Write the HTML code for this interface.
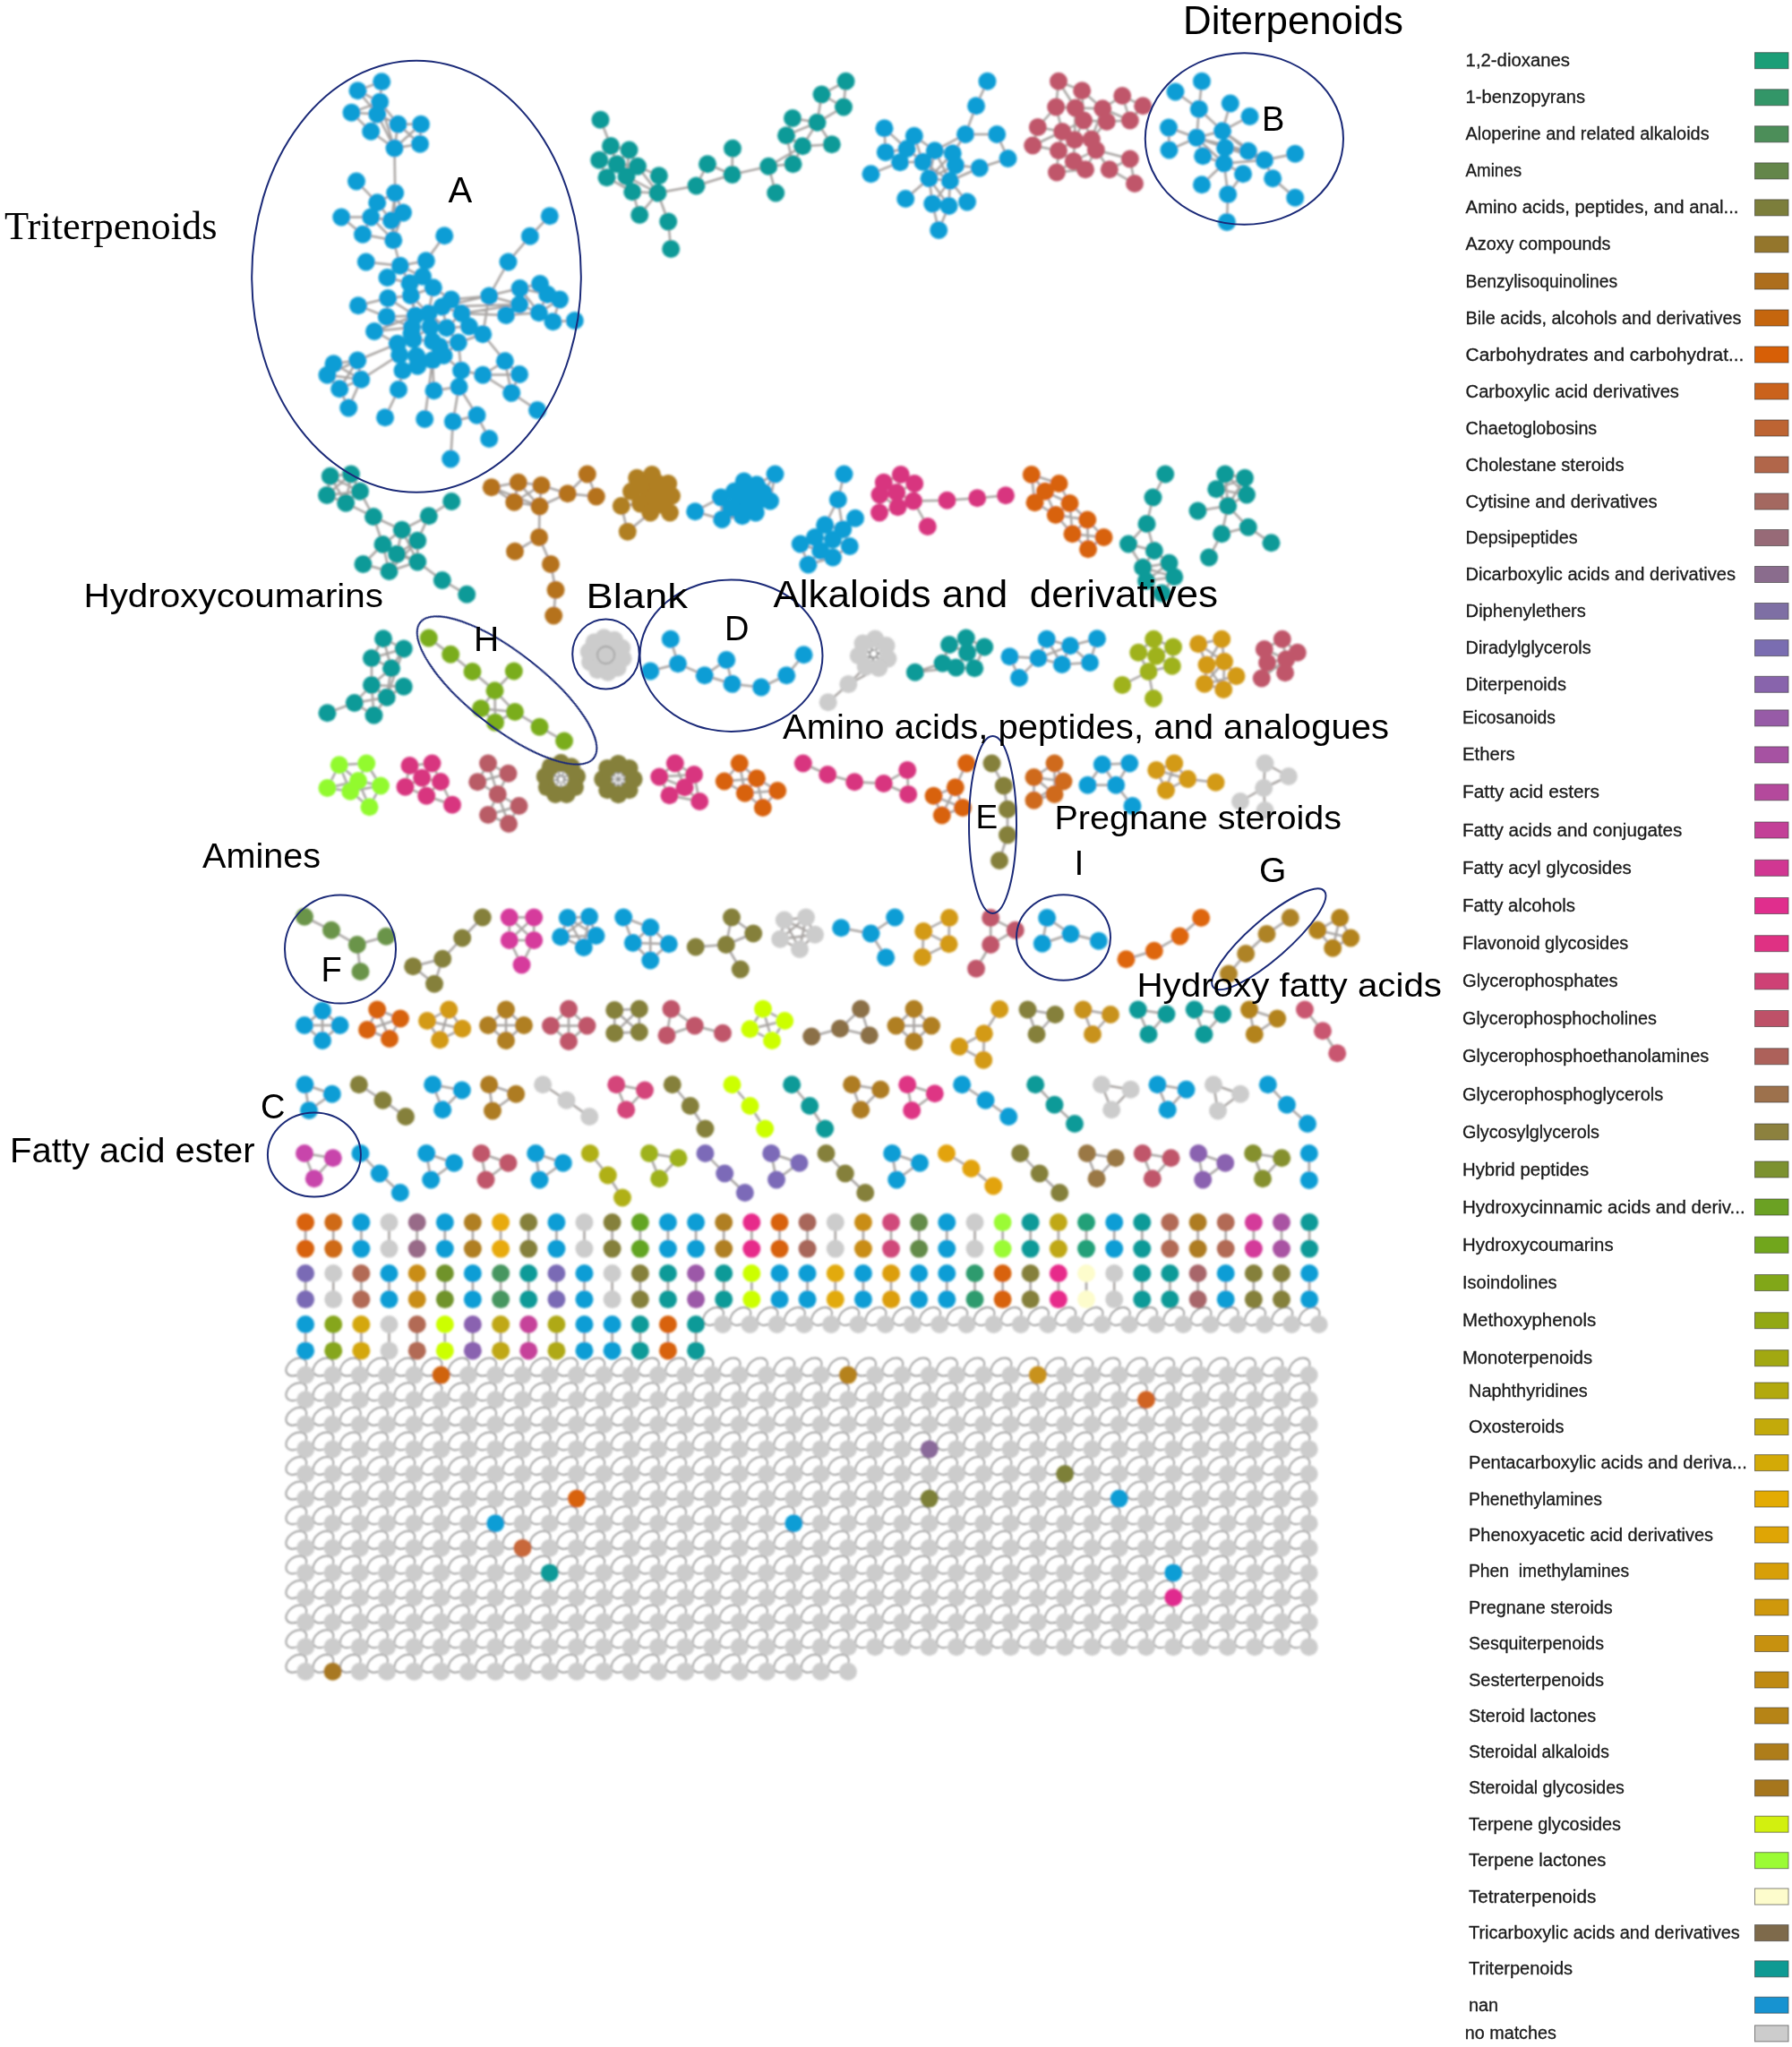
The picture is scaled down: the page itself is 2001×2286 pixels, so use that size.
<!DOCTYPE html>
<html lang="en"><head><meta charset="utf-8"><title>Molecular network</title>
<style>html,body{margin:0;padding:0;background:#fff}body{width:2001px;height:2286px;overflow:hidden}svg{display:block}.e{stroke:#a8a4a2;stroke-width:2.5;fill:none;stroke-linecap:round}.lp{stroke:#868686;stroke-width:1.5;fill:none}.el{stroke:#1b2a78;stroke-width:2;fill:none}.lg{font-family:"Liberation Sans",sans-serif;font-size:19.5px;fill:#1a1a1a;stroke:#1a1a1a;stroke-width:.3}.sw{stroke:#333;stroke-opacity:.6;stroke-width:1}.sa{font-family:"Liberation Sans",sans-serif;fill:#000}.se{font-family:"Liberation Serif",serif;fill:#000}</style></head><body>
<svg width="2001" height="2286" viewBox="0 0 2001 2286">
<rect width="2001" height="2286" fill="#fff"/>
<defs><filter id="bl" x="0" y="0" width="100%" height="100%" filterUnits="userSpaceOnUse"><feGaussianBlur stdDeviation="1"/></filter></defs><g filter="url(#bl)">
<g id="edges">
<path class="e" d="M399.5 101.2L426.2 91.2M399.5 101.2L424.2 113.8M399.5 101.2L421.2 127.5M392.5 125.8L424.2 113.8M392.5 125.8L421.2 127.5M392.5 125.8L414.2 146.8M424.2 113.8L421.2 127.5M421.2 127.5L414.2 146.8M424.2 113.8L444.5 138.8M421.2 127.5L444.5 138.8M421.2 127.5L440.5 165.5M414.2 146.8L440.5 165.5M444.5 138.8L470 138.8M444.5 138.8L469 160.8M444.5 138.8L440.5 165.5M470 138.8L440.5 165.5M470 138.8L469 160.8M469 160.8L440.5 165.5M424.2 113.8L440.5 165.5M426.2 91.2L424.2 113.8M440.5 165.5L441.2 215.5M398 202.5L421.2 226.2M441.2 215.5L421.2 226.2M441.2 215.5L450 237.5M441.2 215.5L437 246.2M421.2 226.2L414.2 242.5M421.2 226.2L437 246.2M381.2 242.5L414.2 242.5M381.2 242.5L405 261.8M414.2 242.5L437 246.2M414.2 242.5L405 261.8M414.2 242.5L439.2 268.2M437 246.2L439.2 268.2M405 261.8L439.2 268.2M450 237.5L437 246.2M450 237.5L439.2 268.2M441.2 215.5L439.2 268.2M439.2 268.2L446.8 296.8M408.8 292.5L446.8 296.8M446.8 296.8L475.8 291.2M475.8 291.2L496.2 263.2M446.8 296.8L432.5 310M446.8 296.8L472 308.8M446.8 296.8L457.5 316.2M475.8 291.2L472 308.8M432.5 310L457.5 316.2M472 308.8L457.5 316.2M472 308.8L483.8 321.2M457.5 316.2L458.8 330M483.8 321.2L458.8 330M433.2 333L458.8 330M433.2 333L463.8 352.5M400 341.2L433.2 333M400 341.2L431.8 353.8M431.8 353.8L463.8 352.5M433.2 333L431.8 353.8M418 370L460 365.5M418 370L463.8 352.5M483.8 321.2L503.8 334.5M503.8 334.5L493.8 342.5M503.8 334.5L546.2 330.5M493.8 342.5L478.5 350M546.2 330.5L567.5 292.5M567.5 292.5L591.8 263.8M591.8 263.8L613.8 241.2M546.2 330.5L580 340M546.2 330.5L539.2 373.2M493.8 342.5L580 340M515.5 350L565 352M515.5 350L580 340M493.8 342.5L580.5 322M580.5 322L603 317M580.5 322L611.2 328.8M580.5 322L580 340M603 317L611.2 328.8M611.2 328.8L625 334.5M611.2 328.8L601.8 349.2M625 334.5L601.8 349.2M625 334.5L617.5 359.2M580 340L565 352M580 340L601.8 349.2M565 352L601.8 349.2M601.8 349.2L617.5 359.2M617.5 359.2L641.8 358M603 317L625 334.5M580.5 322L601.8 349.2M523.8 364.5L539.2 373.2M498.8 366.2L523.8 364.5M515.5 350L523.8 364.5M515.5 350L498.8 366.2M539.2 373.2L511.8 382.5M511.8 382.5L515 413.8M539.2 373.2L563.8 403.2M563.8 403.2L580 418M563.8 403.2L539.2 418.8M539.2 418.8L580 418M539.2 418.8L571.2 438.8M580 418L571.2 438.8M571.2 438.8L600 458M563.8 403.2L571.2 438.8M515 413.8L539.2 418.8M515 413.8L512.5 432M512.5 432L484.5 436.2M512.5 432L505.8 470.8M512.5 432L532.5 463.8M505.8 470.8L532.5 463.8M532.5 463.8L546.2 490M505.8 470.8L503.2 512.5M483 402.2L474.2 468M449.5 413.8L445 435M445 435L430 466.2M443.8 383.8L399.2 402.5M446.2 396.2L403.2 423.8M399.2 402.5L372.5 406.2M399.2 402.5L365.5 418.8M399.2 402.5L403.2 423.8M399.2 402.5L379.2 434.2M372.5 406.2L365.5 418.8M372.5 406.2L403.2 423.8M365.5 418.8L403.2 423.8M365.5 418.8L379.2 434.2M403.2 423.8L379.2 434.2M379.2 434.2L389.2 455.5M403.2 423.8L389.2 455.5M463.8 352.5L460 365.5M463.8 352.5L478.5 350M478.5 350L460 365.5M478.5 350L480.5 365M460 365.5L480.5 365M460 365.5L461.5 379M480.5 365L461.5 379M480.5 365L483 381M461.5 379L483 381M461.5 379L465 397.5M443.8 383.8L461.5 379M443.8 383.8L446.2 396.2M446.2 396.2L465 397.5M483 381L495.5 397M483 381L483 402.2M465 397.5L483 402.2M465 397.5L466.2 408.8M495.5 397L483 402.2M466.2 408.8L449.5 413.8M483 402.2L466.2 408.8M493.8 342.5L515.5 350M478.5 350L498.8 366.2M498.8 366.2L480.5 365M498.8 366.2L511.8 382.5M511.8 382.5L483 381M511.8 382.5L495.5 397M458.8 330L463.8 352.5M457.5 316.2L463.8 352.5M458.8 330L478.5 350M483.8 321.2L478.5 350M503.8 334.5L515.5 350M431.8 353.8L460 365.5M418 370L443.8 383.8M463.8 352.5L461.5 379M495.5 397L515 413.8M483 402.2L484.5 436.2M493.8 342.5L498.8 366.2M472 308.8L458.8 330"/>
<path class="e" d="M670.5 133.8L682 163M682 163L702.5 167.5M682 163L669.2 178.8M682 163L688.8 183.2M702.5 167.5L688.8 183.2M702.5 167.5L712 185.8M669.2 178.8L688.8 183.2M669.2 178.8L677.5 198.2M688.8 183.2L699.5 197M688.8 183.2L677.5 198.2M712 185.8L699.5 197M712 185.8L734.5 215.5M699.5 197L706.2 214.2M699.5 197L734.5 215.5M677.5 198.2L706.2 214.2M735.8 196.2L734.5 215.5M706.2 214.2L734.5 215.5M706.2 214.2L714.2 240M734.5 215.5L714.2 240M734.5 215.5L746.2 247.5M746.2 247.5L749.2 278M734.5 215.5L777.5 207.5M777.5 207.5L790 183.2M777.5 207.5L817.5 195M790 183.2L817.5 195M818 165.8L817.5 195M817.5 195L858.2 185.8M858.2 185.8L866.2 215.5M858.2 185.8L885.5 183.2M858.2 185.8L896.2 163.2M885.5 183.2L896.2 163.2M896.2 163.2L878 151.2M896.2 163.2L912.5 136.8M896.2 163.2L928.8 161.2M878 151.2L885 132M878 151.2L912.5 136.8M885 132L912.5 136.8M912.5 136.8L928.8 161.2M912.5 136.8L917.5 105.5M912.5 136.8L942 119.5M917.5 105.5L944.5 90.8M917.5 105.5L942 119.5M944.5 90.8L942 119.5M885.5 183.2L878 151.2M702.5 167.5L699.5 197M712 185.8L735.8 196.2M688.8 183.2L712 185.8"/>
<path class="e" d="M1102.5 90.8L1090 118.2M1090 118.2L1078 150M1078 150L1113.2 150M1113.2 150L1125.5 177M1125.5 177L1093.8 187.5M1078 150L1043.8 168.2M1078 150L1063.8 171.2M987.5 143.2L988.8 170M987.5 143.2L1012.5 166.2M1020.8 151.8L1012.5 166.2M1020.8 151.8L1043.8 168.2M1012.5 166.2L988.8 170M1012.5 166.2L1005 181.2M1012.5 166.2L1030.5 180.8M988.8 170L1005 181.2M1005 181.2L972.5 194.2M1043.8 168.2L1030.5 180.8M1043.8 168.2L1063.8 171.2M1030.5 180.8L1037.5 199.2M1063.8 171.2L1067 184.5M1067 184.5L1093.8 187.5M1037.5 199.2L1060.8 202M1037.5 199.2L1011.2 222M1037.5 199.2L1041.2 227.5M1037.5 199.2L1059.5 230M1060.8 202L1041.2 227.5M1060.8 202L1059.5 230M1060.8 202L1080 225.5M1041.2 227.5L1048.2 257M1059.5 230L1048.2 257M1030.5 180.8L1060.8 202M1043.8 168.2L1037.5 199.2M1043.8 168.2L1060.8 202M1063.8 171.2L1037.5 199.2M1067 184.5L1037.5 199.2M1093.8 187.5L1060.8 202M1005 181.2L1030.5 180.8M1020.8 151.8L1030.5 180.8M1063.8 171.2L1060.8 202M1067 184.5L1060.8 202"/>
<path class="e" d="M1182 90.8L1208.2 101.2M1182 90.8L1200.8 120.5M1208.2 101.2L1200.8 120.5M1208.2 101.2L1231.2 121.2M1253.2 107L1276.2 118.2M1253.2 107L1231.2 121.2M1253.2 107L1261.8 134.5M1276.2 118.2L1261.8 134.5M1179.2 119.5L1200.8 120.5M1179.2 119.5L1158.8 142M1179.2 119.5L1186.2 147M1200.8 120.5L1210 134.5M1231.2 121.2L1235.8 135.8M1231.2 121.2L1261.8 134.5M1210 134.5L1235.8 135.8M1210 134.5L1186.2 147M1210 134.5L1200 156.2M1210 134.5L1218.8 155.5M1235.8 135.8L1218.8 155.5M1158.8 142L1186.2 147M1158.8 142L1153.2 162.5M1186.2 147L1200 156.2M1186.2 147L1153.2 162.5M1186.2 147L1182 168.2M1200 156.2L1218.8 155.5M1200 156.2L1182 168.2M1200 156.2L1198.8 180M1218.8 155.5L1223.8 167.5M1153.2 162.5L1182 168.2M1182 168.2L1198.8 180M1182 168.2L1180 192.5M1223.8 167.5L1198.8 180M1223.8 167.5L1212 189.2M1223.8 167.5L1261.8 177.5M1198.8 180L1212 189.2M1198.8 180L1180 192.5M1212 189.2L1180 192.5M1238.8 189.2L1261.8 177.5M1238.8 189.2L1267 205M1261.8 177.5L1267 205M1223.8 167.5L1238.8 189.2M1200.8 120.5L1231.2 121.2M1235.8 135.8L1261.8 134.5M1200.8 120.5L1200 156.2M1231.2 121.2L1218.8 155.5M1182 90.8L1179.2 119.5M1208.2 101.2L1210 134.5"/>
<path class="e" d="M1342 90.8L1338.8 121.8M1312.5 102.5L1338.8 121.8M1338.8 121.8L1336.2 153.8M1338.8 121.8L1365 146.2M1373.8 115.5L1365 146.2M1395.5 130L1365 146.2M1305 142.5L1336.2 153.8M1305 142.5L1305.5 167.5M1336.2 153.8L1305.5 167.5M1365 146.2L1336.2 153.8M1365 146.2L1368 165M1336.2 153.8L1368 165M1336.2 153.8L1366.8 182.5M1368 165L1393.8 168.8M1368 165L1366.8 182.5M1343.2 174.2L1366.8 182.5M1393.8 168.8L1412 178.8M1366.8 182.5L1412 178.8M1412 178.8L1446.2 171.8M1412 178.8L1421.2 199.2M1421.2 199.2L1446.2 220.8M1366.8 182.5L1388 194.2M1366.8 182.5L1342 206.2M1366.8 182.5L1371.2 217M1388 194.2L1371.2 217M1371.2 217L1370 248M1365 146.2L1393.8 168.8M1365 146.2L1412 178.8M1368 165L1412 178.8M1336.2 153.8L1393.8 168.8M1336.2 153.8L1343.2 174.2"/>
<path class="e" d="M368.8 531.8L392 529.5M368.8 531.8L365 553M368.8 531.8L402 548.8M368.8 531.8L386.2 561.8M392 529.5L402 548.8M392 529.5L365 553M365 553L386.2 561.8M365 553L402 548.8M402 548.8L386.2 561.8M392 529.5L386.2 561.8M402 548.8L417 577M386.2 561.8L417 577M417 577L448.8 591.8M417 577L427.5 608M448.8 591.8L427.5 608M448.8 591.8L466.2 603.8M448.8 591.8L443.2 618.8M448.8 591.8L478.8 576.2M466.2 603.8L478.8 576.2M478.8 576.2L504.2 560M427.5 608L443.2 618.8M427.5 608L405.5 630M427.5 608L434.5 638M466.2 603.8L443.2 618.8M466.2 603.8L466.2 627.5M443.2 618.8L466.2 627.5M443.2 618.8L434.5 638M405.5 630L434.5 638M466.2 627.5L434.5 638M466.2 627.5L493.8 648M493.8 648L521.2 663.8M448.8 591.8L466.2 627.5M427.5 608L466.2 627.5M466.2 603.8L434.5 638"/>
<path class="e" d="M548.8 544.2L578.8 538.8M548.8 544.2L574.2 560.8M548.8 544.2L602.5 565.5M578.8 538.8L604.5 542M578.8 538.8L574.2 560.8M578.8 538.8L602.5 565.5M604.5 542L574.2 560.8M604.5 542L602.5 565.5M604.5 542L633.8 551.2M574.2 560.8L602.5 565.5M602.5 565.5L633.8 551.2M633.8 551.2L655.8 529.5M633.8 551.2L665.8 554.5M655.8 529.5L665.8 554.5M602.5 565.5L602 600M602 600L575 615.8M602 600L615 630M615 630L620.5 658.8M620.5 658.8L618.2 687.5"/>
<path class="e" d="M693.8 565L700.8 593.8M700.8 593.8L726.2 572.5M693.8 565L705 548.8M693.8 565L715 562.5M711.2 533.8L728 530M728 530L746.2 540M705 548.8L722.5 547.5M722.5 547.5L740 550M715 562.5L732.5 563.8M732.5 563.8L748 572.5"/>
<path class="e" d="M865.5 529.5L845 541.2M865.5 529.5L852.5 550M865.5 529.5L860 559.5M776.2 571.2L805 555.5M776.2 571.2L806.2 580M805 555.5L806.2 580M805 555.5L820 548.8M806.2 580L828.8 576.2M830.8 537.5L845 541.2M820 548.8L835 551.2M822.5 562.5L840 563.8"/>
<path class="e" d="M942.5 529.5L935.8 558M935.8 558L921.2 586.2M935.8 558L941.2 591.2M955 578.8L941.2 591.2M921.2 586.2L941.2 591.2M921.2 586.2L910 600M921.2 586.2L930 602.5M941.2 591.2L930 602.5M941.2 591.2L948.8 610M910 600L930 602.5M910 600L893.8 607.5M910 600L916.2 615M930 602.5L948.8 610M930 602.5L916.2 615M930 602.5L930 622.5M893.8 607.5L916.2 615M893.8 607.5L902.5 630.5M916.2 615L930 622.5M916.2 615L902.5 630.5M930 622.5L902.5 630.5M948.8 610L930 622.5"/>
<path class="e" d="M1005.8 530L986.8 538.8M1005.8 530L1021.2 540M1005.8 530L1001.2 550M986.8 538.8L982.5 552.5M986.8 538.8L1001.2 550M1021.2 540L1001.2 550M1021.2 540L1020 559.5M982.5 552.5L1001.2 550M982.5 552.5L982 572.5M982.5 552.5L1002.5 566.2M1001.2 550L1020 559.5M1001.2 550L1002.5 566.2M1020 559.5L1002.5 566.2M1002.5 566.2L982 572.5M1020 559.5L1057.5 558.8M1057.5 558.8L1091.2 556.2M1091.2 556.2L1123 553.2M1020 559.5L1035.8 588"/>
<path class="e" d="M1151.8 530L1182.5 540M1151.8 530L1167 548.8M1151.8 530L1155.5 561.2M1182.5 540L1167 548.8M1182.5 540L1194.5 562M1167 548.8L1155.5 561.2M1167 548.8L1194.5 562M1167 548.8L1178.8 575M1155.5 561.2L1178.8 575M1194.5 562L1178.8 575M1194.5 562L1214.2 580.5M1178.8 575L1214.2 580.5M1178.8 575L1197.5 596.2M1214.2 580.5L1197.5 596.2M1214.2 580.5L1232.5 600M1214.2 580.5L1215 613.2M1197.5 596.2L1232.5 600M1197.5 596.2L1215 613.2M1232.5 600L1215 613.2M1194.5 562L1197.5 596.2"/>
<path class="e" d="M1301.2 529.5L1287.5 555.5M1287.5 555.5L1280.5 585M1280.5 585L1260 607.5M1280.5 585L1288.8 615M1260 607.5L1288.8 615M1260 607.5L1276.2 633.8M1288.8 615L1276.2 633.8M1288.8 615L1305.5 628.8M1276.2 633.8L1305.5 628.8M1276.2 633.8L1311.2 644.2M1305.5 628.8L1311.2 644.2M1276.2 633.8L1280 648.8M1305.5 628.8L1280 648.8M1311.2 644.2L1280 648.8M1311.2 644.2L1297.5 662.5M1280 648.8L1297.5 662.5"/>
<path class="e" d="M1368 529.5L1390 533.8M1368 529.5L1358.2 546.2M1368 529.5L1392 552.5M1368 529.5L1371.2 565M1390 533.8L1358.2 546.2M1390 533.8L1392 552.5M1390 533.8L1371.2 565M1358.2 546.2L1392 552.5M1358.2 546.2L1371.2 565M1392 552.5L1371.2 565M1371.2 565L1337.5 570.5M1371.2 565L1393.8 588.8M1371.2 565L1364.2 596.2M1393.8 588.8L1364.2 596.2M1393.8 588.8L1419.5 606.2M1364.2 596.2L1350 622.5"/>
<path class="e" d="M428 713.2L450.8 724.5M428 713.2L415 735M428 713.2L437 746.2M450.8 724.5L415 735M450.8 724.5L437 746.2M415 735L437 746.2M415 735L415 765M437 746.2L415 765M437 746.2L431.8 778.8M450.8 724.5L431.8 778.8M415 765L450.8 766.8M415 765L431.8 778.8M415 765L395.8 785M415 765L417.5 798.8M450.8 766.8L431.8 778.8M431.8 778.8L395.8 785M431.8 778.8L417.5 798.8M395.8 785L365.5 796.2M395.8 785L417.5 798.8"/>
<path class="e" d="M478.8 712.5L503.2 730.8M503.2 730.8L527.5 750M527.5 750L552.5 771.2M573.8 749.5L552.5 771.2M552.5 771.2L537 791.2M552.5 771.2L575 795M552.5 771.2L553 806.8M537 791.2L575 795M537 791.2L553 806.8M575 795L553 806.8M575 795L602.5 811.8M602.5 811.8L630 827.5"/>
<path class="e" d="M748.8 713.8L757 741.2M757 741.2L726.2 749.5M757 741.2L786.8 754.2M786.8 754.2L811.2 737M786.8 754.2L817.5 763.8M811.2 737L817.5 763.8M817.5 763.8L850 767.5M850 767.5L878.2 754.2M878.2 754.2L897.5 731.2"/>
<path class="e" d="M1021.8 750.8L1052.5 740.8M1021.8 750.8L1067.5 745.5M1060 720L1078.8 712.5M1078.8 712.5L1099.2 722.5M1060 720L1080 728.8M1099.2 722.5L1080 728.8M1060 720L1052.5 740.8M1052.5 740.8L1067.5 745.5M1067.5 745.5L1088.2 746.2M1099.2 722.5L1088.2 746.2M1080 728.8L1067.5 745.5M1080 728.8L1088.2 746.2M1078.8 712.5L1080 728.8"/>
<path class="e" d="M1127.5 733.2L1159.5 735M1127.5 733.2L1138 757M1159.5 735L1138 757M1159.5 735L1168.8 713.8M1159.5 735L1195 721.2M1168.8 713.8L1195 721.2M1168.8 713.8L1185.8 742M1195 721.2L1185.8 742M1195 721.2L1225 713.2M1195 721.2L1217 740M1185.8 742L1217 740M1225 713.2L1217 740M1159.5 735L1185.8 742"/>
<path class="e" d="M1288.2 713.8L1271.2 728.8M1288.2 713.8L1310 722.5M1288.2 713.8L1291.2 732.5M1271.2 728.8L1291.2 732.5M1310 722.5L1291.2 732.5M1310 722.5L1308.8 743.8M1291.2 732.5L1308.8 743.8M1291.2 732.5L1282.5 750M1271.2 728.8L1282.5 750M1308.8 743.8L1282.5 750M1282.5 750L1253.2 765M1282.5 750L1288 780"/>
<path class="e" d="M1338.2 719.2L1364.2 713.8M1338.2 719.2L1347.5 742.5M1338.2 719.2L1367 738.8M1364.2 713.8L1347.5 742.5M1364.2 713.8L1367 738.8M1347.5 742.5L1367 738.8M1347.5 742.5L1345 763.8M1367 738.8L1380.5 755M1347.5 742.5L1366.2 770M1367 738.8L1366.2 770M1380.5 755L1366.2 770M1345 763.8L1366.2 770M1380.5 755L1345 763.8M1367 738.8L1345 763.8"/>
<path class="e" d="M1431.8 713.8L1411.8 725M1431.8 713.8L1448.8 728.8M1431.8 713.8L1436.2 736.2M1411.8 725L1436.2 736.2M1411.8 725L1415 740M1448.8 728.8L1436.2 736.2M1448.8 728.8L1435 751.2M1436.2 736.2L1415 740M1436.2 736.2L1435 751.2M1436.2 736.2L1408.8 757.5M1415 740L1408.8 757.5M1415 740L1435 751.2"/>
<path class="e" d="M378.8 854.2L409.2 852.5M378.8 854.2L400 872M378.8 854.2L391.2 883.8M409.2 852.5L400 872M409.2 852.5L425 877.5M400 872L365.5 880M365.5 880L391.2 883.8M400 872L425 877.5M391.2 883.8L425 877.5M391.2 883.8L412.5 901.2M425 877.5L412.5 901.2M400 872L412.5 901.2M378.8 854.2L365.5 880"/>
<path class="e" d="M457.5 855L482.5 852.5M457.5 855L471.2 868.8M482.5 852.5L471.2 868.8M482.5 852.5L492 873M471.2 868.8L492 873M471.2 868.8L452.5 878.8M471.2 868.8L476.2 888.8M492 873L476.2 888.8M452.5 878.8L476.2 888.8M457.5 855L452.5 878.8M492 873L505 898.8M476.2 888.8L505 898.8"/>
<path class="e" d="M545 852.5L567.5 863.8M545 852.5L533.2 873.2M567.5 863.8L533.2 873.2M567.5 863.8L555.8 887M533.2 873.2L555.8 887M555.8 887L579.5 900M555.8 887L545 910M579.5 900L545 910M579.5 900L568 920M545 910L568 920M555.8 887L568 920M545 852.5L555.8 887"/>
<path class="e" d="M753.8 852.5L736.2 867.5M753.8 852.5L775 865M753.8 852.5L764.5 879.2M736.2 867.5L775 865M736.2 867.5L764.5 879.2M736.2 867.5L747.5 888.2M775 865L764.5 879.2M775 865L781.2 895M764.5 879.2L747.5 888.2M764.5 879.2L781.2 895M747.5 888.2L781.2 895"/>
<path class="e" d="M825.8 852.5L808.8 872.5M825.8 852.5L845 869.2M825.8 852.5L831.8 885.8M808.8 872.5L845 869.2M808.8 872.5L831.8 885.8M845 869.2L831.8 885.8M845 869.2L868.2 883M831.8 885.8L868.2 883M831.8 885.8L851.8 902M868.2 883L851.8 902M845 869.2L851.8 902"/>
<path class="e" d="M896.8 852.5L924.2 865M924.2 865L954.2 873.2M954.2 873.2L986.8 875M986.8 875L1013.2 860M986.8 875L1014.2 887M1013.2 860L1014.2 887"/>
<path class="e" d="M1079.2 852.5L1066.8 879.2M1066.8 879.2L1042.5 888.8M1066.8 879.2L1075 902M1066.8 879.2L1051.8 910.5M1042.5 888.8L1075 902M1042.5 888.8L1051.8 910.5M1075 902L1051.8 910.5"/>
<path class="e" d="M1107.5 852.5L1120.8 877.5M1120.8 877.5L1125 903.8M1125 903.8L1125 932.5M1125 932.5L1116 961"/>
<path class="e" d="M1177.5 852.5L1154.5 868M1177.5 852.5L1187.5 872.5M1177.5 852.5L1177.5 887M1154.5 868L1187.5 872.5M1154.5 868L1177.5 887M1154.5 868L1154.5 893.8M1187.5 872.5L1177.5 887M1177.5 887L1154.5 893.8M1187.5 872.5L1154.5 893.8"/>
<path class="e" d="M1230.8 853.8L1261.2 852.5M1230.8 853.8L1214.5 876.8M1230.8 853.8L1246.2 876.8M1261.2 852.5L1246.2 876.8M1214.5 876.8L1246.2 876.8M1246.2 876.8L1264.5 900"/>
<path class="e" d="M1311.2 852.5L1291.2 860M1311.2 852.5L1326.2 870M1311.2 852.5L1302 882.5M1291.2 860L1326.2 870M1291.2 860L1302 882.5M1326.2 870L1302 882.5M1326.2 870L1357.5 873.8"/>
<path class="e" d="M1412.5 852.5L1438.8 867M1412.5 852.5L1411.2 880M1438.8 867L1411.2 880M1411.2 880L1385 895M1411.2 880L1412.5 905"/>
<path class="e" d="M340 1023.8L370 1038.8M370 1038.8L398.8 1055M398.8 1055L431.2 1045.8M398.8 1055L402.5 1085"/>
<path class="e" d="M538.8 1024.5L516.2 1047.5M516.2 1047.5L494.2 1070.8M494.2 1070.8L461.2 1079.2M494.2 1070.8L485 1098.8M461.2 1079.2L485 1098.8"/>
<path class="e" d="M568.8 1024.5L596.2 1024.5M568.8 1024.5L568.8 1050M568.8 1024.5L596.2 1050M596.2 1024.5L568.8 1050M596.2 1024.5L596.2 1050M568.8 1050L596.2 1050M568.8 1050L582.5 1077.5M596.2 1050L582.5 1077.5"/>
<path class="e" d="M633.8 1025L658 1023.8M633.8 1025L626.2 1046.2M633.8 1025L665.5 1045M633.8 1025L651.8 1058M658 1023.8L626.2 1046.2M658 1023.8L665.5 1045M658 1023.8L651.8 1058M626.2 1046.2L665.5 1045M626.2 1046.2L651.8 1058M665.5 1045L651.8 1058"/>
<path class="e" d="M696.2 1024.5L726.2 1035.8M696.2 1024.5L706.8 1053M726.2 1035.8L706.8 1053M726.2 1035.8L746.8 1054.2M726.2 1035.8L726.2 1072.5M706.8 1053L746.8 1054.2M706.8 1053L726.2 1072.5M746.8 1054.2L726.2 1072.5"/>
<path class="e" d="M817 1024.5L841.2 1042.5M817 1024.5L810.8 1055M841.2 1042.5L810.8 1055M810.8 1055L776.8 1057.5M810.8 1055L826.8 1082.5"/>
<path class="e" d="M875.8 1027.5L900 1024.5M875.8 1027.5L871.2 1048.8M875.8 1027.5L910 1043.8M875.8 1027.5L893 1060M900 1024.5L871.2 1048.8M900 1024.5L910 1043.8M900 1024.5L893 1060M871.2 1048.8L910 1043.8M871.2 1048.8L893 1060M910 1043.8L893 1060"/>
<path class="e" d="M939.2 1036.2L972.5 1042.5M972.5 1042.5L999.2 1024.5M972.5 1042.5L989.2 1069.2"/>
<path class="e" d="M1060 1025L1031.2 1040M1060 1025L1059.5 1054.2M1031.2 1040L1059.5 1054.2M1031.2 1040L1030 1068.8M1059.5 1054.2L1030 1068.8"/>
<path class="e" d="M1106.2 1025L1133.8 1038.8M1106.2 1025L1106.2 1055M1133.8 1038.8L1106.2 1055M1106.2 1055L1090 1081.8"/>
<path class="e" d="M1169.2 1025L1195.5 1043M1169.2 1025L1163.8 1053.8M1195.5 1043L1163.8 1053.8M1195.5 1043L1226.8 1050.8"/>
<path class="e" d="M1341.2 1025L1317.5 1045.5M1317.5 1045.5L1288.8 1061.8M1288.8 1061.8L1257.5 1071.2"/>
<path class="e" d="M1440.8 1025L1414.5 1043M1414.5 1043L1391.2 1065M1391.2 1065L1372 1087.5"/>
<path class="e" d="M1496.2 1025L1471.2 1038.8M1496.2 1025L1508.2 1047.5M1496.2 1025L1488.2 1058.8M1471.2 1038.8L1508.2 1047.5M1471.2 1038.8L1488.2 1058.8M1508.2 1047.5L1488.2 1058.8"/>
<path class="e" d="M360 1128.8L340 1145M360 1128.8L379.5 1145M360 1128.8L360 1162M340 1145L379.5 1145M340 1145L360 1162M379.5 1145L360 1162"/>
<path class="e" d="M421.2 1127.5L447 1137.5M421.2 1127.5L410 1150M421.2 1127.5L435 1160M447 1137.5L410 1150M447 1137.5L435 1160M410 1150L435 1160"/>
<path class="e" d="M501.2 1127.5L477 1140M501.2 1127.5L516.2 1148.8M501.2 1127.5L491.2 1161.2M477 1140L516.2 1148.8M477 1140L491.2 1161.2M516.2 1148.8L491.2 1161.2"/>
<path class="e" d="M565 1127.5L545 1145M565 1127.5L585 1145M565 1127.5L565 1162M545 1145L585 1145M545 1145L565 1162M585 1145L565 1162"/>
<path class="e" d="M635 1126.8L615 1145.5M635 1126.8L655.5 1145.5M635 1126.8L635 1163M615 1145.5L655.5 1145.5M615 1145.5L635 1163M655.5 1145.5L635 1163"/>
<path class="e" d="M686.2 1128L713.8 1126.8M686.2 1128L686.2 1153.8M686.2 1128L713.8 1152.5M713.8 1126.8L686.2 1153.8M713.8 1126.8L713.8 1152.5M686.2 1153.8L713.8 1152.5"/>
<path class="e" d="M749.5 1126.8L775.8 1145.5M749.5 1126.8L744.5 1156.2M775.8 1145.5L744.5 1156.2M775.8 1145.5L807 1153.8"/>
<path class="e" d="M852 1126.8L876.2 1140M852 1126.8L837.5 1149.2M852 1126.8L862 1162M876.2 1140L837.5 1149.2M876.2 1140L862 1162M837.5 1149.2L862 1162"/>
<path class="e" d="M961.2 1126.8L938 1148.8M961.2 1126.8L970.8 1156.2M938 1148.8L970.8 1156.2M938 1148.8L906.2 1157.5"/>
<path class="e" d="M1020.5 1126.8L1000.5 1145.5M1020.5 1126.8L1040 1145.5M1020.5 1126.8L1020.5 1163M1000.5 1145.5L1040 1145.5M1000.5 1145.5L1020.5 1163M1040 1145.5L1020.5 1163"/>
<path class="e" d="M1116.2 1127L1098.8 1154.2M1098.8 1154.2L1071.2 1168.8M1098.8 1154.2L1098.2 1183.8M1071.2 1168.8L1098.2 1183.8"/>
<path class="e" d="M1147.5 1127.5L1178.2 1133M1147.5 1127.5L1157.5 1155M1178.2 1133L1157.5 1155"/>
<path class="e" d="M1209.5 1127.5L1240 1133M1209.5 1127.5L1220 1155M1240 1133L1220 1155"/>
<path class="e" d="M1270.8 1127.5L1302.5 1132.5M1270.8 1127.5L1282.5 1155M1302.5 1132.5L1282.5 1155"/>
<path class="e" d="M1333.8 1127.5L1365 1132.5M1333.8 1127.5L1344.5 1155M1365 1132.5L1344.5 1155"/>
<path class="e" d="M1395 1127.5L1426.2 1137.5M1395 1127.5L1400.8 1155M1426.2 1137.5L1400.8 1155"/>
<path class="e" d="M1457 1127.5L1477 1151.2M1477 1151.2L1493.2 1176.2"/>
<path class="e" d="M340.5 1211.2L370.8 1221.8M340.5 1211.2L345 1240M370.8 1221.8L345 1240"/>
<path class="e" d="M400.8 1211.2L427.5 1228.8M427.5 1228.8L453 1247"/>
<path class="e" d="M483.2 1211.2L515.8 1217.5M483.2 1211.2L494.2 1239.2M515.8 1217.5L494.2 1239.2"/>
<path class="e" d="M546.2 1211.2L576.2 1221.8M546.2 1211.2L550 1240.5M576.2 1221.8L550 1240.5"/>
<path class="e" d="M606.2 1211.2L632.5 1228.8M632.5 1228.8L658.2 1247"/>
<path class="e" d="M688.2 1211.2L720 1217.5M688.2 1211.2L699.2 1239.2M720 1217.5L699.2 1239.2"/>
<path class="e" d="M750.8 1211.2L770.8 1235M770.8 1235L787.5 1260.5"/>
<path class="e" d="M817.5 1211.2L837.5 1235M837.5 1235L854.2 1260.5"/>
<path class="e" d="M884.2 1211.2L904.2 1235M904.2 1235L921.2 1260.5"/>
<path class="e" d="M951.2 1211.2L983.2 1216.8M951.2 1211.2L961.2 1239.2M983.2 1216.8L961.2 1239.2"/>
<path class="e" d="M1013.2 1211.2L1043.8 1221.2M1013.2 1211.2L1018.2 1240M1043.8 1221.2L1018.2 1240"/>
<path class="e" d="M1074.2 1211.2L1100.5 1228.8M1100.5 1228.8L1126.2 1247"/>
<path class="e" d="M1156.2 1211.2L1177.5 1233.8M1177.5 1233.8L1200 1255"/>
<path class="e" d="M1230 1211.2L1262.5 1216.8M1230 1211.2L1241.2 1239.2M1262.5 1216.8L1241.2 1239.2"/>
<path class="e" d="M1292.5 1211.2L1324.5 1216.8M1292.5 1211.2L1303.8 1239.2M1324.5 1216.8L1303.8 1239.2"/>
<path class="e" d="M1355 1211.2L1385 1221.8M1355 1211.2L1360 1240.5M1385 1221.8L1360 1240.5"/>
<path class="e" d="M1415.8 1211.2L1437 1233.8M1437 1233.8L1460 1255"/>
<path class="e" d="M340 1288L371.8 1293.2M340 1288L350.8 1316.2M371.8 1293.2L350.8 1316.2"/>
<path class="e" d="M402.5 1288L423.8 1310.5M423.8 1310.5L446.8 1332"/>
<path class="e" d="M476.2 1288L507 1298.8M476.2 1288L481.2 1317.5M507 1298.8L481.2 1317.5"/>
<path class="e" d="M537.5 1288L567.5 1298.8M537.5 1288L542.5 1317.5M567.5 1298.8L542.5 1317.5"/>
<path class="e" d="M598.2 1288L628.8 1298.8M598.2 1288L602.5 1317.5M628.8 1298.8L602.5 1317.5"/>
<path class="e" d="M658.8 1288L678.8 1312.5M678.8 1312.5L695 1337.5"/>
<path class="e" d="M725 1288L757.5 1293.2M725 1288L736.2 1316.2M757.5 1293.2L736.2 1316.2"/>
<path class="e" d="M787.5 1288L809.2 1310.5M809.2 1310.5L831.8 1332"/>
<path class="e" d="M861.2 1288L892.5 1298.8M861.2 1288L867 1317.5M892.5 1298.8L867 1317.5"/>
<path class="e" d="M922.5 1288L943.8 1310.5M943.8 1310.5L966.2 1332"/>
<path class="e" d="M996.2 1288L1027 1298.8M996.2 1288L1001.2 1317.5M1027 1298.8L1001.2 1317.5"/>
<path class="e" d="M1057 1288L1084.5 1305M1084.5 1305L1109.2 1324.5"/>
<path class="e" d="M1139.2 1288L1160.8 1310.5M1160.8 1310.5L1183.2 1332"/>
<path class="e" d="M1213.8 1288L1245.8 1293.2M1213.8 1288L1224.5 1316.2M1245.8 1293.2L1224.5 1316.2"/>
<path class="e" d="M1275.8 1288L1307.5 1293.2M1275.8 1288L1286.8 1316.2M1307.5 1293.2L1286.8 1316.2"/>
<path class="e" d="M1338.2 1288L1368.2 1298.8M1338.2 1288L1343.2 1317.5M1368.2 1298.8L1343.2 1317.5"/>
<path class="e" d="M1399.2 1288L1431.2 1293.2M1399.2 1288L1410 1316.2M1431.2 1293.2L1410 1316.2"/>
<path class="e" d="M1461.8 1288L1461.8 1318"/>
<path class="e" style="stroke-width:1.1;stroke:#909090" d="M977.2 713.5L991.4 735.6M977.2 713.5L981.2 746M989.6 721.1L981.2 746M989.6 721.1L966.7 744.5M991.4 735.6L966.7 744.5M991.4 735.6L958.8 732.3M981.2 746L958.8 732.3M981.2 746L963.5 718.5M966.7 744.5L963.5 718.5M966.7 744.5L977.2 713.5M958.8 732.3L977.2 713.5M958.8 732.3L989.6 721.1M963.5 718.5L989.6 721.1M963.5 718.5L991.4 735.6"/>
<path class="e" d="M947.3 764.1L924.7 784.2M947.3 764.1L966.7 744.5M947.3 764.1L981.2 746"/>
<path class="e" style="stroke-width:1.1;stroke:#909090" d="M626.4 852.1L644.1 867M626.4 852.1L642 879.1M626.4 852.1L632.6 887M638 856.3L642 879.1M638 856.3L632.6 887M638 856.3L620.2 887M644.1 867L632.6 887M644.1 867L620.2 887M644.1 867L610.8 879.1M642 879.1L620.2 887M642 879.1L610.8 879.1M642 879.1L608.7 867M632.6 887L610.8 879.1M632.6 887L608.7 867M632.6 887L614.8 856.3M620.2 887L608.7 867M620.2 887L614.8 856.3M620.2 887L626.4 852.1M610.8 879.1L614.8 856.3M610.8 879.1L626.4 852.1M610.8 879.1L638 856.3M608.7 867L626.4 852.1M608.7 867L638 856.3M608.7 867L644.1 867M614.8 856.3L638 856.3M614.8 856.3L644.1 867M614.8 856.3L642 879.1"/>
<path class="e" style="stroke-width:1.1;stroke:#909090" d="M690.4 852.9L702.6 882.3M690.4 852.9L690.4 887.3M702.6 857.9L690.4 887.3M702.6 857.9L678.2 882.3M707.6 870.1L678.2 882.3M707.6 870.1L673.2 870.1M702.6 882.3L673.2 870.1M702.6 882.3L678.2 857.9M690.4 887.3L678.2 857.9M690.4 887.3L690.4 852.9M678.2 882.3L690.4 852.9M678.2 882.3L702.6 857.9M673.2 870.1L702.6 857.9M673.2 870.1L707.6 870.1M678.2 857.9L707.6 870.1M678.2 857.9L702.6 882.3"/>
<path class="e" d="M341.1 1365.1V1394.6M372.2 1365.1V1394.6M403.4 1365.1V1394.6M434.5 1365.1V1394.6M465.7 1365.1V1394.6M496.8 1365.1V1394.6M527.9 1365.1V1394.6M559.1 1365.1V1394.6M590.2 1365.1V1394.6M621.4 1365.1V1394.6M652.5 1365.1V1394.6M683.6 1365.1V1394.6M714.8 1365.1V1394.6M745.9 1365.1V1394.6M777.1 1365.1V1394.6M808.2 1365.1V1394.6M839.3 1365.1V1394.6M870.5 1365.1V1394.6M901.6 1365.1V1394.6M932.8 1365.1V1394.6M963.9 1365.1V1394.6M995 1365.1V1394.6M1026.2 1365.1V1394.6M1057.3 1365.1V1394.6M1088.5 1365.1V1394.6M1119.6 1365.1V1394.6M1150.7 1365.1V1394.6M1181.9 1365.1V1394.6M1213 1365.1V1394.6M1244.2 1365.1V1394.6M1275.3 1365.1V1394.6M1306.4 1365.1V1394.6M1337.6 1365.1V1394.6M1368.7 1365.1V1394.6M1399.9 1365.1V1394.6M1431 1365.1V1394.6M1462.1 1365.1V1394.6"/>
<path class="e" d="M341.1 1422V1451.1M372.2 1422V1451.1M403.4 1422V1451.1M434.5 1422V1451.1M465.7 1422V1451.1M496.8 1422V1451.1M527.9 1422V1451.1M559.1 1422V1451.1M590.2 1422V1451.1M621.4 1422V1451.1M652.5 1422V1451.1M683.6 1422V1451.1M714.8 1422V1451.1M745.9 1422V1451.1M777.1 1422V1451.1M808.2 1422V1451.1M839.3 1422V1451.1M870.5 1422V1451.1M901.6 1422V1451.1M932.8 1422V1451.1M963.9 1422V1451.1M995 1422V1451.1M1026.2 1422V1451.1M1057.3 1422V1451.1M1088.5 1422V1451.1M1119.6 1422V1451.1M1150.7 1422V1451.1M1181.9 1422V1451.1M1213 1422V1451.1M1244.2 1422V1451.1M1275.3 1422V1451.1M1306.4 1422V1451.1M1337.6 1422V1451.1M1368.7 1422V1451.1M1399.9 1422V1451.1M1431 1422V1451.1M1462.1 1422V1451.1"/>
<path class="e" d="M341.1 1479V1508.4M372.2 1479V1508.4M403.4 1479V1508.4M434.5 1479V1508.4M465.7 1479V1508.4M496.8 1479V1508.4M527.9 1479V1508.4M559.1 1479V1508.4M590.2 1479V1508.4M621.4 1479V1508.4M652.5 1479V1508.4M683.6 1479V1508.4M714.8 1479V1508.4M745.9 1479V1508.4M777.1 1479V1508.4"/>
</g>
<g class="lp"><ellipse cx="330.8" cy="1526.6" rx="12.5" ry="8.5" transform="rotate(-35 330.8 1526.6)"/><ellipse cx="361" cy="1526.6" rx="12.5" ry="8.5" transform="rotate(-35 361 1526.6)"/><ellipse cx="391.3" cy="1526.6" rx="12.5" ry="8.5" transform="rotate(-35 391.3 1526.6)"/><ellipse cx="421.6" cy="1526.6" rx="12.5" ry="8.5" transform="rotate(-35 421.6 1526.6)"/><ellipse cx="451.9" cy="1526.6" rx="12.5" ry="8.5" transform="rotate(-35 451.9 1526.6)"/><ellipse cx="482.1" cy="1526.6" rx="12.5" ry="8.5" transform="rotate(-35 482.1 1526.6)"/><ellipse cx="512.4" cy="1526.6" rx="12.5" ry="8.5" transform="rotate(-35 512.4 1526.6)"/><ellipse cx="542.7" cy="1526.6" rx="12.5" ry="8.5" transform="rotate(-35 542.7 1526.6)"/><ellipse cx="573" cy="1526.6" rx="12.5" ry="8.5" transform="rotate(-35 573 1526.6)"/><ellipse cx="603.3" cy="1526.6" rx="12.5" ry="8.5" transform="rotate(-35 603.3 1526.6)"/><ellipse cx="633.5" cy="1526.6" rx="12.5" ry="8.5" transform="rotate(-35 633.5 1526.6)"/><ellipse cx="663.8" cy="1526.6" rx="12.5" ry="8.5" transform="rotate(-35 663.8 1526.6)"/><ellipse cx="694.1" cy="1526.6" rx="12.5" ry="8.5" transform="rotate(-35 694.1 1526.6)"/><ellipse cx="724.4" cy="1526.6" rx="12.5" ry="8.5" transform="rotate(-35 724.4 1526.6)"/><ellipse cx="754.7" cy="1526.6" rx="12.5" ry="8.5" transform="rotate(-35 754.7 1526.6)"/><ellipse cx="785" cy="1526.6" rx="12.5" ry="8.5" transform="rotate(-35 785 1526.6)"/><ellipse cx="815.2" cy="1526.6" rx="12.5" ry="8.5" transform="rotate(-35 815.2 1526.6)"/><ellipse cx="845.5" cy="1526.6" rx="12.5" ry="8.5" transform="rotate(-35 845.5 1526.6)"/><ellipse cx="875.8" cy="1526.6" rx="12.5" ry="8.5" transform="rotate(-35 875.8 1526.6)"/><ellipse cx="906.1" cy="1526.6" rx="12.5" ry="8.5" transform="rotate(-35 906.1 1526.6)"/><ellipse cx="936.4" cy="1526.6" rx="12.5" ry="8.5" transform="rotate(-35 936.4 1526.6)"/><ellipse cx="966.6" cy="1526.6" rx="12.5" ry="8.5" transform="rotate(-35 966.6 1526.6)"/><ellipse cx="996.9" cy="1526.6" rx="12.5" ry="8.5" transform="rotate(-35 996.9 1526.6)"/><ellipse cx="1027.2" cy="1526.6" rx="12.5" ry="8.5" transform="rotate(-35 1027.2 1526.6)"/><ellipse cx="1057.5" cy="1526.6" rx="12.5" ry="8.5" transform="rotate(-35 1057.5 1526.6)"/><ellipse cx="1087.8" cy="1526.6" rx="12.5" ry="8.5" transform="rotate(-35 1087.8 1526.6)"/><ellipse cx="1118" cy="1526.6" rx="12.5" ry="8.5" transform="rotate(-35 1118 1526.6)"/><ellipse cx="1148.3" cy="1526.6" rx="12.5" ry="8.5" transform="rotate(-35 1148.3 1526.6)"/><ellipse cx="1178.6" cy="1526.6" rx="12.5" ry="8.5" transform="rotate(-35 1178.6 1526.6)"/><ellipse cx="1208.9" cy="1526.6" rx="12.5" ry="8.5" transform="rotate(-35 1208.9 1526.6)"/><ellipse cx="1239.2" cy="1526.6" rx="12.5" ry="8.5" transform="rotate(-35 1239.2 1526.6)"/><ellipse cx="1269.4" cy="1526.6" rx="12.5" ry="8.5" transform="rotate(-35 1269.4 1526.6)"/><ellipse cx="1299.7" cy="1526.6" rx="12.5" ry="8.5" transform="rotate(-35 1299.7 1526.6)"/><ellipse cx="1330" cy="1526.6" rx="12.5" ry="8.5" transform="rotate(-35 1330 1526.6)"/><ellipse cx="1360.3" cy="1526.6" rx="12.5" ry="8.5" transform="rotate(-35 1360.3 1526.6)"/><ellipse cx="1390.5" cy="1526.6" rx="12.5" ry="8.5" transform="rotate(-35 1390.5 1526.6)"/><ellipse cx="1420.8" cy="1526.6" rx="12.5" ry="8.5" transform="rotate(-35 1420.8 1526.6)"/><ellipse cx="1451.1" cy="1526.6" rx="12.5" ry="8.5" transform="rotate(-35 1451.1 1526.6)"/><ellipse cx="330.8" cy="1554.2" rx="12.5" ry="8.5" transform="rotate(-35 330.8 1554.2)"/><ellipse cx="361" cy="1554.2" rx="12.5" ry="8.5" transform="rotate(-35 361 1554.2)"/><ellipse cx="391.3" cy="1554.2" rx="12.5" ry="8.5" transform="rotate(-35 391.3 1554.2)"/><ellipse cx="421.6" cy="1554.2" rx="12.5" ry="8.5" transform="rotate(-35 421.6 1554.2)"/><ellipse cx="451.9" cy="1554.2" rx="12.5" ry="8.5" transform="rotate(-35 451.9 1554.2)"/><ellipse cx="482.1" cy="1554.2" rx="12.5" ry="8.5" transform="rotate(-35 482.1 1554.2)"/><ellipse cx="512.4" cy="1554.2" rx="12.5" ry="8.5" transform="rotate(-35 512.4 1554.2)"/><ellipse cx="542.7" cy="1554.2" rx="12.5" ry="8.5" transform="rotate(-35 542.7 1554.2)"/><ellipse cx="573" cy="1554.2" rx="12.5" ry="8.5" transform="rotate(-35 573 1554.2)"/><ellipse cx="603.3" cy="1554.2" rx="12.5" ry="8.5" transform="rotate(-35 603.3 1554.2)"/><ellipse cx="633.5" cy="1554.2" rx="12.5" ry="8.5" transform="rotate(-35 633.5 1554.2)"/><ellipse cx="663.8" cy="1554.2" rx="12.5" ry="8.5" transform="rotate(-35 663.8 1554.2)"/><ellipse cx="694.1" cy="1554.2" rx="12.5" ry="8.5" transform="rotate(-35 694.1 1554.2)"/><ellipse cx="724.4" cy="1554.2" rx="12.5" ry="8.5" transform="rotate(-35 724.4 1554.2)"/><ellipse cx="754.7" cy="1554.2" rx="12.5" ry="8.5" transform="rotate(-35 754.7 1554.2)"/><ellipse cx="785" cy="1554.2" rx="12.5" ry="8.5" transform="rotate(-35 785 1554.2)"/><ellipse cx="815.2" cy="1554.2" rx="12.5" ry="8.5" transform="rotate(-35 815.2 1554.2)"/><ellipse cx="845.5" cy="1554.2" rx="12.5" ry="8.5" transform="rotate(-35 845.5 1554.2)"/><ellipse cx="875.8" cy="1554.2" rx="12.5" ry="8.5" transform="rotate(-35 875.8 1554.2)"/><ellipse cx="906.1" cy="1554.2" rx="12.5" ry="8.5" transform="rotate(-35 906.1 1554.2)"/><ellipse cx="936.4" cy="1554.2" rx="12.5" ry="8.5" transform="rotate(-35 936.4 1554.2)"/><ellipse cx="966.6" cy="1554.2" rx="12.5" ry="8.5" transform="rotate(-35 966.6 1554.2)"/><ellipse cx="996.9" cy="1554.2" rx="12.5" ry="8.5" transform="rotate(-35 996.9 1554.2)"/><ellipse cx="1027.2" cy="1554.2" rx="12.5" ry="8.5" transform="rotate(-35 1027.2 1554.2)"/><ellipse cx="1057.5" cy="1554.2" rx="12.5" ry="8.5" transform="rotate(-35 1057.5 1554.2)"/><ellipse cx="1087.8" cy="1554.2" rx="12.5" ry="8.5" transform="rotate(-35 1087.8 1554.2)"/><ellipse cx="1118" cy="1554.2" rx="12.5" ry="8.5" transform="rotate(-35 1118 1554.2)"/><ellipse cx="1148.3" cy="1554.2" rx="12.5" ry="8.5" transform="rotate(-35 1148.3 1554.2)"/><ellipse cx="1178.6" cy="1554.2" rx="12.5" ry="8.5" transform="rotate(-35 1178.6 1554.2)"/><ellipse cx="1208.9" cy="1554.2" rx="12.5" ry="8.5" transform="rotate(-35 1208.9 1554.2)"/><ellipse cx="1239.2" cy="1554.2" rx="12.5" ry="8.5" transform="rotate(-35 1239.2 1554.2)"/><ellipse cx="1269.4" cy="1554.2" rx="12.5" ry="8.5" transform="rotate(-35 1269.4 1554.2)"/><ellipse cx="1299.7" cy="1554.2" rx="12.5" ry="8.5" transform="rotate(-35 1299.7 1554.2)"/><ellipse cx="1330" cy="1554.2" rx="12.5" ry="8.5" transform="rotate(-35 1330 1554.2)"/><ellipse cx="1360.3" cy="1554.2" rx="12.5" ry="8.5" transform="rotate(-35 1360.3 1554.2)"/><ellipse cx="1390.5" cy="1554.2" rx="12.5" ry="8.5" transform="rotate(-35 1390.5 1554.2)"/><ellipse cx="1420.8" cy="1554.2" rx="12.5" ry="8.5" transform="rotate(-35 1420.8 1554.2)"/><ellipse cx="1451.1" cy="1554.2" rx="12.5" ry="8.5" transform="rotate(-35 1451.1 1554.2)"/><ellipse cx="330.8" cy="1581.8" rx="12.5" ry="8.5" transform="rotate(-35 330.8 1581.8)"/><ellipse cx="361" cy="1581.8" rx="12.5" ry="8.5" transform="rotate(-35 361 1581.8)"/><ellipse cx="391.3" cy="1581.8" rx="12.5" ry="8.5" transform="rotate(-35 391.3 1581.8)"/><ellipse cx="421.6" cy="1581.8" rx="12.5" ry="8.5" transform="rotate(-35 421.6 1581.8)"/><ellipse cx="451.9" cy="1581.8" rx="12.5" ry="8.5" transform="rotate(-35 451.9 1581.8)"/><ellipse cx="482.1" cy="1581.8" rx="12.5" ry="8.5" transform="rotate(-35 482.1 1581.8)"/><ellipse cx="512.4" cy="1581.8" rx="12.5" ry="8.5" transform="rotate(-35 512.4 1581.8)"/><ellipse cx="542.7" cy="1581.8" rx="12.5" ry="8.5" transform="rotate(-35 542.7 1581.8)"/><ellipse cx="573" cy="1581.8" rx="12.5" ry="8.5" transform="rotate(-35 573 1581.8)"/><ellipse cx="603.3" cy="1581.8" rx="12.5" ry="8.5" transform="rotate(-35 603.3 1581.8)"/><ellipse cx="633.5" cy="1581.8" rx="12.5" ry="8.5" transform="rotate(-35 633.5 1581.8)"/><ellipse cx="663.8" cy="1581.8" rx="12.5" ry="8.5" transform="rotate(-35 663.8 1581.8)"/><ellipse cx="694.1" cy="1581.8" rx="12.5" ry="8.5" transform="rotate(-35 694.1 1581.8)"/><ellipse cx="724.4" cy="1581.8" rx="12.5" ry="8.5" transform="rotate(-35 724.4 1581.8)"/><ellipse cx="754.7" cy="1581.8" rx="12.5" ry="8.5" transform="rotate(-35 754.7 1581.8)"/><ellipse cx="785" cy="1581.8" rx="12.5" ry="8.5" transform="rotate(-35 785 1581.8)"/><ellipse cx="815.2" cy="1581.8" rx="12.5" ry="8.5" transform="rotate(-35 815.2 1581.8)"/><ellipse cx="845.5" cy="1581.8" rx="12.5" ry="8.5" transform="rotate(-35 845.5 1581.8)"/><ellipse cx="875.8" cy="1581.8" rx="12.5" ry="8.5" transform="rotate(-35 875.8 1581.8)"/><ellipse cx="906.1" cy="1581.8" rx="12.5" ry="8.5" transform="rotate(-35 906.1 1581.8)"/><ellipse cx="936.4" cy="1581.8" rx="12.5" ry="8.5" transform="rotate(-35 936.4 1581.8)"/><ellipse cx="966.6" cy="1581.8" rx="12.5" ry="8.5" transform="rotate(-35 966.6 1581.8)"/><ellipse cx="996.9" cy="1581.8" rx="12.5" ry="8.5" transform="rotate(-35 996.9 1581.8)"/><ellipse cx="1027.2" cy="1581.8" rx="12.5" ry="8.5" transform="rotate(-35 1027.2 1581.8)"/><ellipse cx="1057.5" cy="1581.8" rx="12.5" ry="8.5" transform="rotate(-35 1057.5 1581.8)"/><ellipse cx="1087.8" cy="1581.8" rx="12.5" ry="8.5" transform="rotate(-35 1087.8 1581.8)"/><ellipse cx="1118" cy="1581.8" rx="12.5" ry="8.5" transform="rotate(-35 1118 1581.8)"/><ellipse cx="1148.3" cy="1581.8" rx="12.5" ry="8.5" transform="rotate(-35 1148.3 1581.8)"/><ellipse cx="1178.6" cy="1581.8" rx="12.5" ry="8.5" transform="rotate(-35 1178.6 1581.8)"/><ellipse cx="1208.9" cy="1581.8" rx="12.5" ry="8.5" transform="rotate(-35 1208.9 1581.8)"/><ellipse cx="1239.2" cy="1581.8" rx="12.5" ry="8.5" transform="rotate(-35 1239.2 1581.8)"/><ellipse cx="1269.4" cy="1581.8" rx="12.5" ry="8.5" transform="rotate(-35 1269.4 1581.8)"/><ellipse cx="1299.7" cy="1581.8" rx="12.5" ry="8.5" transform="rotate(-35 1299.7 1581.8)"/><ellipse cx="1330" cy="1581.8" rx="12.5" ry="8.5" transform="rotate(-35 1330 1581.8)"/><ellipse cx="1360.3" cy="1581.8" rx="12.5" ry="8.5" transform="rotate(-35 1360.3 1581.8)"/><ellipse cx="1390.5" cy="1581.8" rx="12.5" ry="8.5" transform="rotate(-35 1390.5 1581.8)"/><ellipse cx="1420.8" cy="1581.8" rx="12.5" ry="8.5" transform="rotate(-35 1420.8 1581.8)"/><ellipse cx="1451.1" cy="1581.8" rx="12.5" ry="8.5" transform="rotate(-35 1451.1 1581.8)"/><ellipse cx="330.8" cy="1609.4" rx="12.5" ry="8.5" transform="rotate(-35 330.8 1609.4)"/><ellipse cx="361" cy="1609.4" rx="12.5" ry="8.5" transform="rotate(-35 361 1609.4)"/><ellipse cx="391.3" cy="1609.4" rx="12.5" ry="8.5" transform="rotate(-35 391.3 1609.4)"/><ellipse cx="421.6" cy="1609.4" rx="12.5" ry="8.5" transform="rotate(-35 421.6 1609.4)"/><ellipse cx="451.9" cy="1609.4" rx="12.5" ry="8.5" transform="rotate(-35 451.9 1609.4)"/><ellipse cx="482.1" cy="1609.4" rx="12.5" ry="8.5" transform="rotate(-35 482.1 1609.4)"/><ellipse cx="512.4" cy="1609.4" rx="12.5" ry="8.5" transform="rotate(-35 512.4 1609.4)"/><ellipse cx="542.7" cy="1609.4" rx="12.5" ry="8.5" transform="rotate(-35 542.7 1609.4)"/><ellipse cx="573" cy="1609.4" rx="12.5" ry="8.5" transform="rotate(-35 573 1609.4)"/><ellipse cx="603.3" cy="1609.4" rx="12.5" ry="8.5" transform="rotate(-35 603.3 1609.4)"/><ellipse cx="633.5" cy="1609.4" rx="12.5" ry="8.5" transform="rotate(-35 633.5 1609.4)"/><ellipse cx="663.8" cy="1609.4" rx="12.5" ry="8.5" transform="rotate(-35 663.8 1609.4)"/><ellipse cx="694.1" cy="1609.4" rx="12.5" ry="8.5" transform="rotate(-35 694.1 1609.4)"/><ellipse cx="724.4" cy="1609.4" rx="12.5" ry="8.5" transform="rotate(-35 724.4 1609.4)"/><ellipse cx="754.7" cy="1609.4" rx="12.5" ry="8.5" transform="rotate(-35 754.7 1609.4)"/><ellipse cx="785" cy="1609.4" rx="12.5" ry="8.5" transform="rotate(-35 785 1609.4)"/><ellipse cx="815.2" cy="1609.4" rx="12.5" ry="8.5" transform="rotate(-35 815.2 1609.4)"/><ellipse cx="845.5" cy="1609.4" rx="12.5" ry="8.5" transform="rotate(-35 845.5 1609.4)"/><ellipse cx="875.8" cy="1609.4" rx="12.5" ry="8.5" transform="rotate(-35 875.8 1609.4)"/><ellipse cx="906.1" cy="1609.4" rx="12.5" ry="8.5" transform="rotate(-35 906.1 1609.4)"/><ellipse cx="936.4" cy="1609.4" rx="12.5" ry="8.5" transform="rotate(-35 936.4 1609.4)"/><ellipse cx="966.6" cy="1609.4" rx="12.5" ry="8.5" transform="rotate(-35 966.6 1609.4)"/><ellipse cx="996.9" cy="1609.4" rx="12.5" ry="8.5" transform="rotate(-35 996.9 1609.4)"/><ellipse cx="1027.2" cy="1609.4" rx="12.5" ry="8.5" transform="rotate(-35 1027.2 1609.4)"/><ellipse cx="1057.5" cy="1609.4" rx="12.5" ry="8.5" transform="rotate(-35 1057.5 1609.4)"/><ellipse cx="1087.8" cy="1609.4" rx="12.5" ry="8.5" transform="rotate(-35 1087.8 1609.4)"/><ellipse cx="1118" cy="1609.4" rx="12.5" ry="8.5" transform="rotate(-35 1118 1609.4)"/><ellipse cx="1148.3" cy="1609.4" rx="12.5" ry="8.5" transform="rotate(-35 1148.3 1609.4)"/><ellipse cx="1178.6" cy="1609.4" rx="12.5" ry="8.5" transform="rotate(-35 1178.6 1609.4)"/><ellipse cx="1208.9" cy="1609.4" rx="12.5" ry="8.5" transform="rotate(-35 1208.9 1609.4)"/><ellipse cx="1239.2" cy="1609.4" rx="12.5" ry="8.5" transform="rotate(-35 1239.2 1609.4)"/><ellipse cx="1269.4" cy="1609.4" rx="12.5" ry="8.5" transform="rotate(-35 1269.4 1609.4)"/><ellipse cx="1299.7" cy="1609.4" rx="12.5" ry="8.5" transform="rotate(-35 1299.7 1609.4)"/><ellipse cx="1330" cy="1609.4" rx="12.5" ry="8.5" transform="rotate(-35 1330 1609.4)"/><ellipse cx="1360.3" cy="1609.4" rx="12.5" ry="8.5" transform="rotate(-35 1360.3 1609.4)"/><ellipse cx="1390.5" cy="1609.4" rx="12.5" ry="8.5" transform="rotate(-35 1390.5 1609.4)"/><ellipse cx="1420.8" cy="1609.4" rx="12.5" ry="8.5" transform="rotate(-35 1420.8 1609.4)"/><ellipse cx="1451.1" cy="1609.4" rx="12.5" ry="8.5" transform="rotate(-35 1451.1 1609.4)"/><ellipse cx="330.8" cy="1637" rx="12.5" ry="8.5" transform="rotate(-35 330.8 1637)"/><ellipse cx="361" cy="1637" rx="12.5" ry="8.5" transform="rotate(-35 361 1637)"/><ellipse cx="391.3" cy="1637" rx="12.5" ry="8.5" transform="rotate(-35 391.3 1637)"/><ellipse cx="421.6" cy="1637" rx="12.5" ry="8.5" transform="rotate(-35 421.6 1637)"/><ellipse cx="451.9" cy="1637" rx="12.5" ry="8.5" transform="rotate(-35 451.9 1637)"/><ellipse cx="482.1" cy="1637" rx="12.5" ry="8.5" transform="rotate(-35 482.1 1637)"/><ellipse cx="512.4" cy="1637" rx="12.5" ry="8.5" transform="rotate(-35 512.4 1637)"/><ellipse cx="542.7" cy="1637" rx="12.5" ry="8.5" transform="rotate(-35 542.7 1637)"/><ellipse cx="573" cy="1637" rx="12.5" ry="8.5" transform="rotate(-35 573 1637)"/><ellipse cx="603.3" cy="1637" rx="12.5" ry="8.5" transform="rotate(-35 603.3 1637)"/><ellipse cx="633.5" cy="1637" rx="12.5" ry="8.5" transform="rotate(-35 633.5 1637)"/><ellipse cx="663.8" cy="1637" rx="12.5" ry="8.5" transform="rotate(-35 663.8 1637)"/><ellipse cx="694.1" cy="1637" rx="12.5" ry="8.5" transform="rotate(-35 694.1 1637)"/><ellipse cx="724.4" cy="1637" rx="12.5" ry="8.5" transform="rotate(-35 724.4 1637)"/><ellipse cx="754.7" cy="1637" rx="12.5" ry="8.5" transform="rotate(-35 754.7 1637)"/><ellipse cx="785" cy="1637" rx="12.5" ry="8.5" transform="rotate(-35 785 1637)"/><ellipse cx="815.2" cy="1637" rx="12.5" ry="8.5" transform="rotate(-35 815.2 1637)"/><ellipse cx="845.5" cy="1637" rx="12.5" ry="8.5" transform="rotate(-35 845.5 1637)"/><ellipse cx="875.8" cy="1637" rx="12.5" ry="8.5" transform="rotate(-35 875.8 1637)"/><ellipse cx="906.1" cy="1637" rx="12.5" ry="8.5" transform="rotate(-35 906.1 1637)"/><ellipse cx="936.4" cy="1637" rx="12.5" ry="8.5" transform="rotate(-35 936.4 1637)"/><ellipse cx="966.6" cy="1637" rx="12.5" ry="8.5" transform="rotate(-35 966.6 1637)"/><ellipse cx="996.9" cy="1637" rx="12.5" ry="8.5" transform="rotate(-35 996.9 1637)"/><ellipse cx="1027.2" cy="1637" rx="12.5" ry="8.5" transform="rotate(-35 1027.2 1637)"/><ellipse cx="1057.5" cy="1637" rx="12.5" ry="8.5" transform="rotate(-35 1057.5 1637)"/><ellipse cx="1087.8" cy="1637" rx="12.5" ry="8.5" transform="rotate(-35 1087.8 1637)"/><ellipse cx="1118" cy="1637" rx="12.5" ry="8.5" transform="rotate(-35 1118 1637)"/><ellipse cx="1148.3" cy="1637" rx="12.5" ry="8.5" transform="rotate(-35 1148.3 1637)"/><ellipse cx="1178.6" cy="1637" rx="12.5" ry="8.5" transform="rotate(-35 1178.6 1637)"/><ellipse cx="1208.9" cy="1637" rx="12.5" ry="8.5" transform="rotate(-35 1208.9 1637)"/><ellipse cx="1239.2" cy="1637" rx="12.5" ry="8.5" transform="rotate(-35 1239.2 1637)"/><ellipse cx="1269.4" cy="1637" rx="12.5" ry="8.5" transform="rotate(-35 1269.4 1637)"/><ellipse cx="1299.7" cy="1637" rx="12.5" ry="8.5" transform="rotate(-35 1299.7 1637)"/><ellipse cx="1330" cy="1637" rx="12.5" ry="8.5" transform="rotate(-35 1330 1637)"/><ellipse cx="1360.3" cy="1637" rx="12.5" ry="8.5" transform="rotate(-35 1360.3 1637)"/><ellipse cx="1390.5" cy="1637" rx="12.5" ry="8.5" transform="rotate(-35 1390.5 1637)"/><ellipse cx="1420.8" cy="1637" rx="12.5" ry="8.5" transform="rotate(-35 1420.8 1637)"/><ellipse cx="1451.1" cy="1637" rx="12.5" ry="8.5" transform="rotate(-35 1451.1 1637)"/><ellipse cx="330.8" cy="1664.6" rx="12.5" ry="8.5" transform="rotate(-35 330.8 1664.6)"/><ellipse cx="361" cy="1664.6" rx="12.5" ry="8.5" transform="rotate(-35 361 1664.6)"/><ellipse cx="391.3" cy="1664.6" rx="12.5" ry="8.5" transform="rotate(-35 391.3 1664.6)"/><ellipse cx="421.6" cy="1664.6" rx="12.5" ry="8.5" transform="rotate(-35 421.6 1664.6)"/><ellipse cx="451.9" cy="1664.6" rx="12.5" ry="8.5" transform="rotate(-35 451.9 1664.6)"/><ellipse cx="482.1" cy="1664.6" rx="12.5" ry="8.5" transform="rotate(-35 482.1 1664.6)"/><ellipse cx="512.4" cy="1664.6" rx="12.5" ry="8.5" transform="rotate(-35 512.4 1664.6)"/><ellipse cx="542.7" cy="1664.6" rx="12.5" ry="8.5" transform="rotate(-35 542.7 1664.6)"/><ellipse cx="573" cy="1664.6" rx="12.5" ry="8.5" transform="rotate(-35 573 1664.6)"/><ellipse cx="603.3" cy="1664.6" rx="12.5" ry="8.5" transform="rotate(-35 603.3 1664.6)"/><ellipse cx="633.5" cy="1664.6" rx="12.5" ry="8.5" transform="rotate(-35 633.5 1664.6)"/><ellipse cx="663.8" cy="1664.6" rx="12.5" ry="8.5" transform="rotate(-35 663.8 1664.6)"/><ellipse cx="694.1" cy="1664.6" rx="12.5" ry="8.5" transform="rotate(-35 694.1 1664.6)"/><ellipse cx="724.4" cy="1664.6" rx="12.5" ry="8.5" transform="rotate(-35 724.4 1664.6)"/><ellipse cx="754.7" cy="1664.6" rx="12.5" ry="8.5" transform="rotate(-35 754.7 1664.6)"/><ellipse cx="785" cy="1664.6" rx="12.5" ry="8.5" transform="rotate(-35 785 1664.6)"/><ellipse cx="815.2" cy="1664.6" rx="12.5" ry="8.5" transform="rotate(-35 815.2 1664.6)"/><ellipse cx="845.5" cy="1664.6" rx="12.5" ry="8.5" transform="rotate(-35 845.5 1664.6)"/><ellipse cx="875.8" cy="1664.6" rx="12.5" ry="8.5" transform="rotate(-35 875.8 1664.6)"/><ellipse cx="906.1" cy="1664.6" rx="12.5" ry="8.5" transform="rotate(-35 906.1 1664.6)"/><ellipse cx="936.4" cy="1664.6" rx="12.5" ry="8.5" transform="rotate(-35 936.4 1664.6)"/><ellipse cx="966.6" cy="1664.6" rx="12.5" ry="8.5" transform="rotate(-35 966.6 1664.6)"/><ellipse cx="996.9" cy="1664.6" rx="12.5" ry="8.5" transform="rotate(-35 996.9 1664.6)"/><ellipse cx="1027.2" cy="1664.6" rx="12.5" ry="8.5" transform="rotate(-35 1027.2 1664.6)"/><ellipse cx="1057.5" cy="1664.6" rx="12.5" ry="8.5" transform="rotate(-35 1057.5 1664.6)"/><ellipse cx="1087.8" cy="1664.6" rx="12.5" ry="8.5" transform="rotate(-35 1087.8 1664.6)"/><ellipse cx="1118" cy="1664.6" rx="12.5" ry="8.5" transform="rotate(-35 1118 1664.6)"/><ellipse cx="1148.3" cy="1664.6" rx="12.5" ry="8.5" transform="rotate(-35 1148.3 1664.6)"/><ellipse cx="1178.6" cy="1664.6" rx="12.5" ry="8.5" transform="rotate(-35 1178.6 1664.6)"/><ellipse cx="1208.9" cy="1664.6" rx="12.5" ry="8.5" transform="rotate(-35 1208.9 1664.6)"/><ellipse cx="1239.2" cy="1664.6" rx="12.5" ry="8.5" transform="rotate(-35 1239.2 1664.6)"/><ellipse cx="1269.4" cy="1664.6" rx="12.5" ry="8.5" transform="rotate(-35 1269.4 1664.6)"/><ellipse cx="1299.7" cy="1664.6" rx="12.5" ry="8.5" transform="rotate(-35 1299.7 1664.6)"/><ellipse cx="1330" cy="1664.6" rx="12.5" ry="8.5" transform="rotate(-35 1330 1664.6)"/><ellipse cx="1360.3" cy="1664.6" rx="12.5" ry="8.5" transform="rotate(-35 1360.3 1664.6)"/><ellipse cx="1390.5" cy="1664.6" rx="12.5" ry="8.5" transform="rotate(-35 1390.5 1664.6)"/><ellipse cx="1420.8" cy="1664.6" rx="12.5" ry="8.5" transform="rotate(-35 1420.8 1664.6)"/><ellipse cx="1451.1" cy="1664.6" rx="12.5" ry="8.5" transform="rotate(-35 1451.1 1664.6)"/><ellipse cx="330.8" cy="1692.2" rx="12.5" ry="8.5" transform="rotate(-35 330.8 1692.2)"/><ellipse cx="361" cy="1692.2" rx="12.5" ry="8.5" transform="rotate(-35 361 1692.2)"/><ellipse cx="391.3" cy="1692.2" rx="12.5" ry="8.5" transform="rotate(-35 391.3 1692.2)"/><ellipse cx="421.6" cy="1692.2" rx="12.5" ry="8.5" transform="rotate(-35 421.6 1692.2)"/><ellipse cx="451.9" cy="1692.2" rx="12.5" ry="8.5" transform="rotate(-35 451.9 1692.2)"/><ellipse cx="482.1" cy="1692.2" rx="12.5" ry="8.5" transform="rotate(-35 482.1 1692.2)"/><ellipse cx="512.4" cy="1692.2" rx="12.5" ry="8.5" transform="rotate(-35 512.4 1692.2)"/><ellipse cx="542.7" cy="1692.2" rx="12.5" ry="8.5" transform="rotate(-35 542.7 1692.2)"/><ellipse cx="573" cy="1692.2" rx="12.5" ry="8.5" transform="rotate(-35 573 1692.2)"/><ellipse cx="603.3" cy="1692.2" rx="12.5" ry="8.5" transform="rotate(-35 603.3 1692.2)"/><ellipse cx="633.5" cy="1692.2" rx="12.5" ry="8.5" transform="rotate(-35 633.5 1692.2)"/><ellipse cx="663.8" cy="1692.2" rx="12.5" ry="8.5" transform="rotate(-35 663.8 1692.2)"/><ellipse cx="694.1" cy="1692.2" rx="12.5" ry="8.5" transform="rotate(-35 694.1 1692.2)"/><ellipse cx="724.4" cy="1692.2" rx="12.5" ry="8.5" transform="rotate(-35 724.4 1692.2)"/><ellipse cx="754.7" cy="1692.2" rx="12.5" ry="8.5" transform="rotate(-35 754.7 1692.2)"/><ellipse cx="785" cy="1692.2" rx="12.5" ry="8.5" transform="rotate(-35 785 1692.2)"/><ellipse cx="815.2" cy="1692.2" rx="12.5" ry="8.5" transform="rotate(-35 815.2 1692.2)"/><ellipse cx="845.5" cy="1692.2" rx="12.5" ry="8.5" transform="rotate(-35 845.5 1692.2)"/><ellipse cx="875.8" cy="1692.2" rx="12.5" ry="8.5" transform="rotate(-35 875.8 1692.2)"/><ellipse cx="906.1" cy="1692.2" rx="12.5" ry="8.5" transform="rotate(-35 906.1 1692.2)"/><ellipse cx="936.4" cy="1692.2" rx="12.5" ry="8.5" transform="rotate(-35 936.4 1692.2)"/><ellipse cx="966.6" cy="1692.2" rx="12.5" ry="8.5" transform="rotate(-35 966.6 1692.2)"/><ellipse cx="996.9" cy="1692.2" rx="12.5" ry="8.5" transform="rotate(-35 996.9 1692.2)"/><ellipse cx="1027.2" cy="1692.2" rx="12.5" ry="8.5" transform="rotate(-35 1027.2 1692.2)"/><ellipse cx="1057.5" cy="1692.2" rx="12.5" ry="8.5" transform="rotate(-35 1057.5 1692.2)"/><ellipse cx="1087.8" cy="1692.2" rx="12.5" ry="8.5" transform="rotate(-35 1087.8 1692.2)"/><ellipse cx="1118" cy="1692.2" rx="12.5" ry="8.5" transform="rotate(-35 1118 1692.2)"/><ellipse cx="1148.3" cy="1692.2" rx="12.5" ry="8.5" transform="rotate(-35 1148.3 1692.2)"/><ellipse cx="1178.6" cy="1692.2" rx="12.5" ry="8.5" transform="rotate(-35 1178.6 1692.2)"/><ellipse cx="1208.9" cy="1692.2" rx="12.5" ry="8.5" transform="rotate(-35 1208.9 1692.2)"/><ellipse cx="1239.2" cy="1692.2" rx="12.5" ry="8.5" transform="rotate(-35 1239.2 1692.2)"/><ellipse cx="1269.4" cy="1692.2" rx="12.5" ry="8.5" transform="rotate(-35 1269.4 1692.2)"/><ellipse cx="1299.7" cy="1692.2" rx="12.5" ry="8.5" transform="rotate(-35 1299.7 1692.2)"/><ellipse cx="1330" cy="1692.2" rx="12.5" ry="8.5" transform="rotate(-35 1330 1692.2)"/><ellipse cx="1360.3" cy="1692.2" rx="12.5" ry="8.5" transform="rotate(-35 1360.3 1692.2)"/><ellipse cx="1390.5" cy="1692.2" rx="12.5" ry="8.5" transform="rotate(-35 1390.5 1692.2)"/><ellipse cx="1420.8" cy="1692.2" rx="12.5" ry="8.5" transform="rotate(-35 1420.8 1692.2)"/><ellipse cx="1451.1" cy="1692.2" rx="12.5" ry="8.5" transform="rotate(-35 1451.1 1692.2)"/><ellipse cx="330.8" cy="1719.8" rx="12.5" ry="8.5" transform="rotate(-35 330.8 1719.8)"/><ellipse cx="361" cy="1719.8" rx="12.5" ry="8.5" transform="rotate(-35 361 1719.8)"/><ellipse cx="391.3" cy="1719.8" rx="12.5" ry="8.5" transform="rotate(-35 391.3 1719.8)"/><ellipse cx="421.6" cy="1719.8" rx="12.5" ry="8.5" transform="rotate(-35 421.6 1719.8)"/><ellipse cx="451.9" cy="1719.8" rx="12.5" ry="8.5" transform="rotate(-35 451.9 1719.8)"/><ellipse cx="482.1" cy="1719.8" rx="12.5" ry="8.5" transform="rotate(-35 482.1 1719.8)"/><ellipse cx="512.4" cy="1719.8" rx="12.5" ry="8.5" transform="rotate(-35 512.4 1719.8)"/><ellipse cx="542.7" cy="1719.8" rx="12.5" ry="8.5" transform="rotate(-35 542.7 1719.8)"/><ellipse cx="573" cy="1719.8" rx="12.5" ry="8.5" transform="rotate(-35 573 1719.8)"/><ellipse cx="603.3" cy="1719.8" rx="12.5" ry="8.5" transform="rotate(-35 603.3 1719.8)"/><ellipse cx="633.5" cy="1719.8" rx="12.5" ry="8.5" transform="rotate(-35 633.5 1719.8)"/><ellipse cx="663.8" cy="1719.8" rx="12.5" ry="8.5" transform="rotate(-35 663.8 1719.8)"/><ellipse cx="694.1" cy="1719.8" rx="12.5" ry="8.5" transform="rotate(-35 694.1 1719.8)"/><ellipse cx="724.4" cy="1719.8" rx="12.5" ry="8.5" transform="rotate(-35 724.4 1719.8)"/><ellipse cx="754.7" cy="1719.8" rx="12.5" ry="8.5" transform="rotate(-35 754.7 1719.8)"/><ellipse cx="785" cy="1719.8" rx="12.5" ry="8.5" transform="rotate(-35 785 1719.8)"/><ellipse cx="815.2" cy="1719.8" rx="12.5" ry="8.5" transform="rotate(-35 815.2 1719.8)"/><ellipse cx="845.5" cy="1719.8" rx="12.5" ry="8.5" transform="rotate(-35 845.5 1719.8)"/><ellipse cx="875.8" cy="1719.8" rx="12.5" ry="8.5" transform="rotate(-35 875.8 1719.8)"/><ellipse cx="906.1" cy="1719.8" rx="12.5" ry="8.5" transform="rotate(-35 906.1 1719.8)"/><ellipse cx="936.4" cy="1719.8" rx="12.5" ry="8.5" transform="rotate(-35 936.4 1719.8)"/><ellipse cx="966.6" cy="1719.8" rx="12.5" ry="8.5" transform="rotate(-35 966.6 1719.8)"/><ellipse cx="996.9" cy="1719.8" rx="12.5" ry="8.5" transform="rotate(-35 996.9 1719.8)"/><ellipse cx="1027.2" cy="1719.8" rx="12.5" ry="8.5" transform="rotate(-35 1027.2 1719.8)"/><ellipse cx="1057.5" cy="1719.8" rx="12.5" ry="8.5" transform="rotate(-35 1057.5 1719.8)"/><ellipse cx="1087.8" cy="1719.8" rx="12.5" ry="8.5" transform="rotate(-35 1087.8 1719.8)"/><ellipse cx="1118" cy="1719.8" rx="12.5" ry="8.5" transform="rotate(-35 1118 1719.8)"/><ellipse cx="1148.3" cy="1719.8" rx="12.5" ry="8.5" transform="rotate(-35 1148.3 1719.8)"/><ellipse cx="1178.6" cy="1719.8" rx="12.5" ry="8.5" transform="rotate(-35 1178.6 1719.8)"/><ellipse cx="1208.9" cy="1719.8" rx="12.5" ry="8.5" transform="rotate(-35 1208.9 1719.8)"/><ellipse cx="1239.2" cy="1719.8" rx="12.5" ry="8.5" transform="rotate(-35 1239.2 1719.8)"/><ellipse cx="1269.4" cy="1719.8" rx="12.5" ry="8.5" transform="rotate(-35 1269.4 1719.8)"/><ellipse cx="1299.7" cy="1719.8" rx="12.5" ry="8.5" transform="rotate(-35 1299.7 1719.8)"/><ellipse cx="1330" cy="1719.8" rx="12.5" ry="8.5" transform="rotate(-35 1330 1719.8)"/><ellipse cx="1360.3" cy="1719.8" rx="12.5" ry="8.5" transform="rotate(-35 1360.3 1719.8)"/><ellipse cx="1390.5" cy="1719.8" rx="12.5" ry="8.5" transform="rotate(-35 1390.5 1719.8)"/><ellipse cx="1420.8" cy="1719.8" rx="12.5" ry="8.5" transform="rotate(-35 1420.8 1719.8)"/><ellipse cx="1451.1" cy="1719.8" rx="12.5" ry="8.5" transform="rotate(-35 1451.1 1719.8)"/><ellipse cx="330.8" cy="1747.4" rx="12.5" ry="8.5" transform="rotate(-35 330.8 1747.4)"/><ellipse cx="361" cy="1747.4" rx="12.5" ry="8.5" transform="rotate(-35 361 1747.4)"/><ellipse cx="391.3" cy="1747.4" rx="12.5" ry="8.5" transform="rotate(-35 391.3 1747.4)"/><ellipse cx="421.6" cy="1747.4" rx="12.5" ry="8.5" transform="rotate(-35 421.6 1747.4)"/><ellipse cx="451.9" cy="1747.4" rx="12.5" ry="8.5" transform="rotate(-35 451.9 1747.4)"/><ellipse cx="482.1" cy="1747.4" rx="12.5" ry="8.5" transform="rotate(-35 482.1 1747.4)"/><ellipse cx="512.4" cy="1747.4" rx="12.5" ry="8.5" transform="rotate(-35 512.4 1747.4)"/><ellipse cx="542.7" cy="1747.4" rx="12.5" ry="8.5" transform="rotate(-35 542.7 1747.4)"/><ellipse cx="573" cy="1747.4" rx="12.5" ry="8.5" transform="rotate(-35 573 1747.4)"/><ellipse cx="603.3" cy="1747.4" rx="12.5" ry="8.5" transform="rotate(-35 603.3 1747.4)"/><ellipse cx="633.5" cy="1747.4" rx="12.5" ry="8.5" transform="rotate(-35 633.5 1747.4)"/><ellipse cx="663.8" cy="1747.4" rx="12.5" ry="8.5" transform="rotate(-35 663.8 1747.4)"/><ellipse cx="694.1" cy="1747.4" rx="12.5" ry="8.5" transform="rotate(-35 694.1 1747.4)"/><ellipse cx="724.4" cy="1747.4" rx="12.5" ry="8.5" transform="rotate(-35 724.4 1747.4)"/><ellipse cx="754.7" cy="1747.4" rx="12.5" ry="8.5" transform="rotate(-35 754.7 1747.4)"/><ellipse cx="785" cy="1747.4" rx="12.5" ry="8.5" transform="rotate(-35 785 1747.4)"/><ellipse cx="815.2" cy="1747.4" rx="12.5" ry="8.5" transform="rotate(-35 815.2 1747.4)"/><ellipse cx="845.5" cy="1747.4" rx="12.5" ry="8.5" transform="rotate(-35 845.5 1747.4)"/><ellipse cx="875.8" cy="1747.4" rx="12.5" ry="8.5" transform="rotate(-35 875.8 1747.4)"/><ellipse cx="906.1" cy="1747.4" rx="12.5" ry="8.5" transform="rotate(-35 906.1 1747.4)"/><ellipse cx="936.4" cy="1747.4" rx="12.5" ry="8.5" transform="rotate(-35 936.4 1747.4)"/><ellipse cx="966.6" cy="1747.4" rx="12.5" ry="8.5" transform="rotate(-35 966.6 1747.4)"/><ellipse cx="996.9" cy="1747.4" rx="12.5" ry="8.5" transform="rotate(-35 996.9 1747.4)"/><ellipse cx="1027.2" cy="1747.4" rx="12.5" ry="8.5" transform="rotate(-35 1027.2 1747.4)"/><ellipse cx="1057.5" cy="1747.4" rx="12.5" ry="8.5" transform="rotate(-35 1057.5 1747.4)"/><ellipse cx="1087.8" cy="1747.4" rx="12.5" ry="8.5" transform="rotate(-35 1087.8 1747.4)"/><ellipse cx="1118" cy="1747.4" rx="12.5" ry="8.5" transform="rotate(-35 1118 1747.4)"/><ellipse cx="1148.3" cy="1747.4" rx="12.5" ry="8.5" transform="rotate(-35 1148.3 1747.4)"/><ellipse cx="1178.6" cy="1747.4" rx="12.5" ry="8.5" transform="rotate(-35 1178.6 1747.4)"/><ellipse cx="1208.9" cy="1747.4" rx="12.5" ry="8.5" transform="rotate(-35 1208.9 1747.4)"/><ellipse cx="1239.2" cy="1747.4" rx="12.5" ry="8.5" transform="rotate(-35 1239.2 1747.4)"/><ellipse cx="1269.4" cy="1747.4" rx="12.5" ry="8.5" transform="rotate(-35 1269.4 1747.4)"/><ellipse cx="1299.7" cy="1747.4" rx="12.5" ry="8.5" transform="rotate(-35 1299.7 1747.4)"/><ellipse cx="1330" cy="1747.4" rx="12.5" ry="8.5" transform="rotate(-35 1330 1747.4)"/><ellipse cx="1360.3" cy="1747.4" rx="12.5" ry="8.5" transform="rotate(-35 1360.3 1747.4)"/><ellipse cx="1390.5" cy="1747.4" rx="12.5" ry="8.5" transform="rotate(-35 1390.5 1747.4)"/><ellipse cx="1420.8" cy="1747.4" rx="12.5" ry="8.5" transform="rotate(-35 1420.8 1747.4)"/><ellipse cx="1451.1" cy="1747.4" rx="12.5" ry="8.5" transform="rotate(-35 1451.1 1747.4)"/><ellipse cx="330.8" cy="1775" rx="12.5" ry="8.5" transform="rotate(-35 330.8 1775)"/><ellipse cx="361" cy="1775" rx="12.5" ry="8.5" transform="rotate(-35 361 1775)"/><ellipse cx="391.3" cy="1775" rx="12.5" ry="8.5" transform="rotate(-35 391.3 1775)"/><ellipse cx="421.6" cy="1775" rx="12.5" ry="8.5" transform="rotate(-35 421.6 1775)"/><ellipse cx="451.9" cy="1775" rx="12.5" ry="8.5" transform="rotate(-35 451.9 1775)"/><ellipse cx="482.1" cy="1775" rx="12.5" ry="8.5" transform="rotate(-35 482.1 1775)"/><ellipse cx="512.4" cy="1775" rx="12.5" ry="8.5" transform="rotate(-35 512.4 1775)"/><ellipse cx="542.7" cy="1775" rx="12.5" ry="8.5" transform="rotate(-35 542.7 1775)"/><ellipse cx="573" cy="1775" rx="12.5" ry="8.5" transform="rotate(-35 573 1775)"/><ellipse cx="603.3" cy="1775" rx="12.5" ry="8.5" transform="rotate(-35 603.3 1775)"/><ellipse cx="633.5" cy="1775" rx="12.5" ry="8.5" transform="rotate(-35 633.5 1775)"/><ellipse cx="663.8" cy="1775" rx="12.5" ry="8.5" transform="rotate(-35 663.8 1775)"/><ellipse cx="694.1" cy="1775" rx="12.5" ry="8.5" transform="rotate(-35 694.1 1775)"/><ellipse cx="724.4" cy="1775" rx="12.5" ry="8.5" transform="rotate(-35 724.4 1775)"/><ellipse cx="754.7" cy="1775" rx="12.5" ry="8.5" transform="rotate(-35 754.7 1775)"/><ellipse cx="785" cy="1775" rx="12.5" ry="8.5" transform="rotate(-35 785 1775)"/><ellipse cx="815.2" cy="1775" rx="12.5" ry="8.5" transform="rotate(-35 815.2 1775)"/><ellipse cx="845.5" cy="1775" rx="12.5" ry="8.5" transform="rotate(-35 845.5 1775)"/><ellipse cx="875.8" cy="1775" rx="12.5" ry="8.5" transform="rotate(-35 875.8 1775)"/><ellipse cx="906.1" cy="1775" rx="12.5" ry="8.5" transform="rotate(-35 906.1 1775)"/><ellipse cx="936.4" cy="1775" rx="12.5" ry="8.5" transform="rotate(-35 936.4 1775)"/><ellipse cx="966.6" cy="1775" rx="12.5" ry="8.5" transform="rotate(-35 966.6 1775)"/><ellipse cx="996.9" cy="1775" rx="12.5" ry="8.5" transform="rotate(-35 996.9 1775)"/><ellipse cx="1027.2" cy="1775" rx="12.5" ry="8.5" transform="rotate(-35 1027.2 1775)"/><ellipse cx="1057.5" cy="1775" rx="12.5" ry="8.5" transform="rotate(-35 1057.5 1775)"/><ellipse cx="1087.8" cy="1775" rx="12.5" ry="8.5" transform="rotate(-35 1087.8 1775)"/><ellipse cx="1118" cy="1775" rx="12.5" ry="8.5" transform="rotate(-35 1118 1775)"/><ellipse cx="1148.3" cy="1775" rx="12.5" ry="8.5" transform="rotate(-35 1148.3 1775)"/><ellipse cx="1178.6" cy="1775" rx="12.5" ry="8.5" transform="rotate(-35 1178.6 1775)"/><ellipse cx="1208.9" cy="1775" rx="12.5" ry="8.5" transform="rotate(-35 1208.9 1775)"/><ellipse cx="1239.2" cy="1775" rx="12.5" ry="8.5" transform="rotate(-35 1239.2 1775)"/><ellipse cx="1269.4" cy="1775" rx="12.5" ry="8.5" transform="rotate(-35 1269.4 1775)"/><ellipse cx="1299.7" cy="1775" rx="12.5" ry="8.5" transform="rotate(-35 1299.7 1775)"/><ellipse cx="1330" cy="1775" rx="12.5" ry="8.5" transform="rotate(-35 1330 1775)"/><ellipse cx="1360.3" cy="1775" rx="12.5" ry="8.5" transform="rotate(-35 1360.3 1775)"/><ellipse cx="1390.5" cy="1775" rx="12.5" ry="8.5" transform="rotate(-35 1390.5 1775)"/><ellipse cx="1420.8" cy="1775" rx="12.5" ry="8.5" transform="rotate(-35 1420.8 1775)"/><ellipse cx="1451.1" cy="1775" rx="12.5" ry="8.5" transform="rotate(-35 1451.1 1775)"/><ellipse cx="330.8" cy="1802.6" rx="12.5" ry="8.5" transform="rotate(-35 330.8 1802.6)"/><ellipse cx="361" cy="1802.6" rx="12.5" ry="8.5" transform="rotate(-35 361 1802.6)"/><ellipse cx="391.3" cy="1802.6" rx="12.5" ry="8.5" transform="rotate(-35 391.3 1802.6)"/><ellipse cx="421.6" cy="1802.6" rx="12.5" ry="8.5" transform="rotate(-35 421.6 1802.6)"/><ellipse cx="451.9" cy="1802.6" rx="12.5" ry="8.5" transform="rotate(-35 451.9 1802.6)"/><ellipse cx="482.1" cy="1802.6" rx="12.5" ry="8.5" transform="rotate(-35 482.1 1802.6)"/><ellipse cx="512.4" cy="1802.6" rx="12.5" ry="8.5" transform="rotate(-35 512.4 1802.6)"/><ellipse cx="542.7" cy="1802.6" rx="12.5" ry="8.5" transform="rotate(-35 542.7 1802.6)"/><ellipse cx="573" cy="1802.6" rx="12.5" ry="8.5" transform="rotate(-35 573 1802.6)"/><ellipse cx="603.3" cy="1802.6" rx="12.5" ry="8.5" transform="rotate(-35 603.3 1802.6)"/><ellipse cx="633.5" cy="1802.6" rx="12.5" ry="8.5" transform="rotate(-35 633.5 1802.6)"/><ellipse cx="663.8" cy="1802.6" rx="12.5" ry="8.5" transform="rotate(-35 663.8 1802.6)"/><ellipse cx="694.1" cy="1802.6" rx="12.5" ry="8.5" transform="rotate(-35 694.1 1802.6)"/><ellipse cx="724.4" cy="1802.6" rx="12.5" ry="8.5" transform="rotate(-35 724.4 1802.6)"/><ellipse cx="754.7" cy="1802.6" rx="12.5" ry="8.5" transform="rotate(-35 754.7 1802.6)"/><ellipse cx="785" cy="1802.6" rx="12.5" ry="8.5" transform="rotate(-35 785 1802.6)"/><ellipse cx="815.2" cy="1802.6" rx="12.5" ry="8.5" transform="rotate(-35 815.2 1802.6)"/><ellipse cx="845.5" cy="1802.6" rx="12.5" ry="8.5" transform="rotate(-35 845.5 1802.6)"/><ellipse cx="875.8" cy="1802.6" rx="12.5" ry="8.5" transform="rotate(-35 875.8 1802.6)"/><ellipse cx="906.1" cy="1802.6" rx="12.5" ry="8.5" transform="rotate(-35 906.1 1802.6)"/><ellipse cx="936.4" cy="1802.6" rx="12.5" ry="8.5" transform="rotate(-35 936.4 1802.6)"/><ellipse cx="966.6" cy="1802.6" rx="12.5" ry="8.5" transform="rotate(-35 966.6 1802.6)"/><ellipse cx="996.9" cy="1802.6" rx="12.5" ry="8.5" transform="rotate(-35 996.9 1802.6)"/><ellipse cx="1027.2" cy="1802.6" rx="12.5" ry="8.5" transform="rotate(-35 1027.2 1802.6)"/><ellipse cx="1057.5" cy="1802.6" rx="12.5" ry="8.5" transform="rotate(-35 1057.5 1802.6)"/><ellipse cx="1087.8" cy="1802.6" rx="12.5" ry="8.5" transform="rotate(-35 1087.8 1802.6)"/><ellipse cx="1118" cy="1802.6" rx="12.5" ry="8.5" transform="rotate(-35 1118 1802.6)"/><ellipse cx="1148.3" cy="1802.6" rx="12.5" ry="8.5" transform="rotate(-35 1148.3 1802.6)"/><ellipse cx="1178.6" cy="1802.6" rx="12.5" ry="8.5" transform="rotate(-35 1178.6 1802.6)"/><ellipse cx="1208.9" cy="1802.6" rx="12.5" ry="8.5" transform="rotate(-35 1208.9 1802.6)"/><ellipse cx="1239.2" cy="1802.6" rx="12.5" ry="8.5" transform="rotate(-35 1239.2 1802.6)"/><ellipse cx="1269.4" cy="1802.6" rx="12.5" ry="8.5" transform="rotate(-35 1269.4 1802.6)"/><ellipse cx="1299.7" cy="1802.6" rx="12.5" ry="8.5" transform="rotate(-35 1299.7 1802.6)"/><ellipse cx="1330" cy="1802.6" rx="12.5" ry="8.5" transform="rotate(-35 1330 1802.6)"/><ellipse cx="1360.3" cy="1802.6" rx="12.5" ry="8.5" transform="rotate(-35 1360.3 1802.6)"/><ellipse cx="1390.5" cy="1802.6" rx="12.5" ry="8.5" transform="rotate(-35 1390.5 1802.6)"/><ellipse cx="1420.8" cy="1802.6" rx="12.5" ry="8.5" transform="rotate(-35 1420.8 1802.6)"/><ellipse cx="1451.1" cy="1802.6" rx="12.5" ry="8.5" transform="rotate(-35 1451.1 1802.6)"/><ellipse cx="330.8" cy="1830.2" rx="12.5" ry="8.5" transform="rotate(-35 330.8 1830.2)"/><ellipse cx="361" cy="1830.2" rx="12.5" ry="8.5" transform="rotate(-35 361 1830.2)"/><ellipse cx="391.3" cy="1830.2" rx="12.5" ry="8.5" transform="rotate(-35 391.3 1830.2)"/><ellipse cx="421.6" cy="1830.2" rx="12.5" ry="8.5" transform="rotate(-35 421.6 1830.2)"/><ellipse cx="451.9" cy="1830.2" rx="12.5" ry="8.5" transform="rotate(-35 451.9 1830.2)"/><ellipse cx="482.1" cy="1830.2" rx="12.5" ry="8.5" transform="rotate(-35 482.1 1830.2)"/><ellipse cx="512.4" cy="1830.2" rx="12.5" ry="8.5" transform="rotate(-35 512.4 1830.2)"/><ellipse cx="542.7" cy="1830.2" rx="12.5" ry="8.5" transform="rotate(-35 542.7 1830.2)"/><ellipse cx="573" cy="1830.2" rx="12.5" ry="8.5" transform="rotate(-35 573 1830.2)"/><ellipse cx="603.3" cy="1830.2" rx="12.5" ry="8.5" transform="rotate(-35 603.3 1830.2)"/><ellipse cx="633.5" cy="1830.2" rx="12.5" ry="8.5" transform="rotate(-35 633.5 1830.2)"/><ellipse cx="663.8" cy="1830.2" rx="12.5" ry="8.5" transform="rotate(-35 663.8 1830.2)"/><ellipse cx="694.1" cy="1830.2" rx="12.5" ry="8.5" transform="rotate(-35 694.1 1830.2)"/><ellipse cx="724.4" cy="1830.2" rx="12.5" ry="8.5" transform="rotate(-35 724.4 1830.2)"/><ellipse cx="754.7" cy="1830.2" rx="12.5" ry="8.5" transform="rotate(-35 754.7 1830.2)"/><ellipse cx="785" cy="1830.2" rx="12.5" ry="8.5" transform="rotate(-35 785 1830.2)"/><ellipse cx="815.2" cy="1830.2" rx="12.5" ry="8.5" transform="rotate(-35 815.2 1830.2)"/><ellipse cx="845.5" cy="1830.2" rx="12.5" ry="8.5" transform="rotate(-35 845.5 1830.2)"/><ellipse cx="875.8" cy="1830.2" rx="12.5" ry="8.5" transform="rotate(-35 875.8 1830.2)"/><ellipse cx="906.1" cy="1830.2" rx="12.5" ry="8.5" transform="rotate(-35 906.1 1830.2)"/><ellipse cx="936.4" cy="1830.2" rx="12.5" ry="8.5" transform="rotate(-35 936.4 1830.2)"/><ellipse cx="966.6" cy="1830.2" rx="12.5" ry="8.5" transform="rotate(-35 966.6 1830.2)"/><ellipse cx="996.9" cy="1830.2" rx="12.5" ry="8.5" transform="rotate(-35 996.9 1830.2)"/><ellipse cx="1027.2" cy="1830.2" rx="12.5" ry="8.5" transform="rotate(-35 1027.2 1830.2)"/><ellipse cx="1057.5" cy="1830.2" rx="12.5" ry="8.5" transform="rotate(-35 1057.5 1830.2)"/><ellipse cx="1087.8" cy="1830.2" rx="12.5" ry="8.5" transform="rotate(-35 1087.8 1830.2)"/><ellipse cx="1118" cy="1830.2" rx="12.5" ry="8.5" transform="rotate(-35 1118 1830.2)"/><ellipse cx="1148.3" cy="1830.2" rx="12.5" ry="8.5" transform="rotate(-35 1148.3 1830.2)"/><ellipse cx="1178.6" cy="1830.2" rx="12.5" ry="8.5" transform="rotate(-35 1178.6 1830.2)"/><ellipse cx="1208.9" cy="1830.2" rx="12.5" ry="8.5" transform="rotate(-35 1208.9 1830.2)"/><ellipse cx="1239.2" cy="1830.2" rx="12.5" ry="8.5" transform="rotate(-35 1239.2 1830.2)"/><ellipse cx="1269.4" cy="1830.2" rx="12.5" ry="8.5" transform="rotate(-35 1269.4 1830.2)"/><ellipse cx="1299.7" cy="1830.2" rx="12.5" ry="8.5" transform="rotate(-35 1299.7 1830.2)"/><ellipse cx="1330" cy="1830.2" rx="12.5" ry="8.5" transform="rotate(-35 1330 1830.2)"/><ellipse cx="1360.3" cy="1830.2" rx="12.5" ry="8.5" transform="rotate(-35 1360.3 1830.2)"/><ellipse cx="1390.5" cy="1830.2" rx="12.5" ry="8.5" transform="rotate(-35 1390.5 1830.2)"/><ellipse cx="1420.8" cy="1830.2" rx="12.5" ry="8.5" transform="rotate(-35 1420.8 1830.2)"/><ellipse cx="1451.1" cy="1830.2" rx="12.5" ry="8.5" transform="rotate(-35 1451.1 1830.2)"/><ellipse cx="330.8" cy="1857.8" rx="12.5" ry="8.5" transform="rotate(-35 330.8 1857.8)"/><ellipse cx="361" cy="1857.8" rx="12.5" ry="8.5" transform="rotate(-35 361 1857.8)"/><ellipse cx="391.3" cy="1857.8" rx="12.5" ry="8.5" transform="rotate(-35 391.3 1857.8)"/><ellipse cx="421.6" cy="1857.8" rx="12.5" ry="8.5" transform="rotate(-35 421.6 1857.8)"/><ellipse cx="451.9" cy="1857.8" rx="12.5" ry="8.5" transform="rotate(-35 451.9 1857.8)"/><ellipse cx="482.1" cy="1857.8" rx="12.5" ry="8.5" transform="rotate(-35 482.1 1857.8)"/><ellipse cx="512.4" cy="1857.8" rx="12.5" ry="8.5" transform="rotate(-35 512.4 1857.8)"/><ellipse cx="542.7" cy="1857.8" rx="12.5" ry="8.5" transform="rotate(-35 542.7 1857.8)"/><ellipse cx="573" cy="1857.8" rx="12.5" ry="8.5" transform="rotate(-35 573 1857.8)"/><ellipse cx="603.3" cy="1857.8" rx="12.5" ry="8.5" transform="rotate(-35 603.3 1857.8)"/><ellipse cx="633.5" cy="1857.8" rx="12.5" ry="8.5" transform="rotate(-35 633.5 1857.8)"/><ellipse cx="663.8" cy="1857.8" rx="12.5" ry="8.5" transform="rotate(-35 663.8 1857.8)"/><ellipse cx="694.1" cy="1857.8" rx="12.5" ry="8.5" transform="rotate(-35 694.1 1857.8)"/><ellipse cx="724.4" cy="1857.8" rx="12.5" ry="8.5" transform="rotate(-35 724.4 1857.8)"/><ellipse cx="754.7" cy="1857.8" rx="12.5" ry="8.5" transform="rotate(-35 754.7 1857.8)"/><ellipse cx="785" cy="1857.8" rx="12.5" ry="8.5" transform="rotate(-35 785 1857.8)"/><ellipse cx="815.2" cy="1857.8" rx="12.5" ry="8.5" transform="rotate(-35 815.2 1857.8)"/><ellipse cx="845.5" cy="1857.8" rx="12.5" ry="8.5" transform="rotate(-35 845.5 1857.8)"/><ellipse cx="875.8" cy="1857.8" rx="12.5" ry="8.5" transform="rotate(-35 875.8 1857.8)"/><ellipse cx="906.1" cy="1857.8" rx="12.5" ry="8.5" transform="rotate(-35 906.1 1857.8)"/><ellipse cx="936.4" cy="1857.8" rx="12.5" ry="8.5" transform="rotate(-35 936.4 1857.8)"/></g>
<g class="lp"><ellipse cx="796.6" cy="1470" rx="12.5" ry="8.5" transform="rotate(-35 796.6 1470)"/><ellipse cx="826.9" cy="1470" rx="12.5" ry="8.5" transform="rotate(-35 826.9 1470)"/><ellipse cx="857.1" cy="1470" rx="12.5" ry="8.5" transform="rotate(-35 857.1 1470)"/><ellipse cx="887.4" cy="1470" rx="12.5" ry="8.5" transform="rotate(-35 887.4 1470)"/><ellipse cx="917.6" cy="1470" rx="12.5" ry="8.5" transform="rotate(-35 917.6 1470)"/><ellipse cx="947.9" cy="1470" rx="12.5" ry="8.5" transform="rotate(-35 947.9 1470)"/><ellipse cx="978.1" cy="1470" rx="12.5" ry="8.5" transform="rotate(-35 978.1 1470)"/><ellipse cx="1008.4" cy="1470" rx="12.5" ry="8.5" transform="rotate(-35 1008.4 1470)"/><ellipse cx="1038.6" cy="1470" rx="12.5" ry="8.5" transform="rotate(-35 1038.6 1470)"/><ellipse cx="1068.8" cy="1470" rx="12.5" ry="8.5" transform="rotate(-35 1068.8 1470)"/><ellipse cx="1099.1" cy="1470" rx="12.5" ry="8.5" transform="rotate(-35 1099.1 1470)"/><ellipse cx="1129.3" cy="1470" rx="12.5" ry="8.5" transform="rotate(-35 1129.3 1470)"/><ellipse cx="1159.6" cy="1470" rx="12.5" ry="8.5" transform="rotate(-35 1159.6 1470)"/><ellipse cx="1189.8" cy="1470" rx="12.5" ry="8.5" transform="rotate(-35 1189.8 1470)"/><ellipse cx="1220.1" cy="1470" rx="12.5" ry="8.5" transform="rotate(-35 1220.1 1470)"/><ellipse cx="1250.3" cy="1470" rx="12.5" ry="8.5" transform="rotate(-35 1250.3 1470)"/><ellipse cx="1280.6" cy="1470" rx="12.5" ry="8.5" transform="rotate(-35 1280.6 1470)"/><ellipse cx="1310.8" cy="1470" rx="12.5" ry="8.5" transform="rotate(-35 1310.8 1470)"/><ellipse cx="1341.1" cy="1470" rx="12.5" ry="8.5" transform="rotate(-35 1341.1 1470)"/><ellipse cx="1371.3" cy="1470" rx="12.5" ry="8.5" transform="rotate(-35 1371.3 1470)"/><ellipse cx="1401.6" cy="1470" rx="12.5" ry="8.5" transform="rotate(-35 1401.6 1470)"/><ellipse cx="1431.8" cy="1470" rx="12.5" ry="8.5" transform="rotate(-35 1431.8 1470)"/><ellipse cx="1462.1" cy="1470" rx="12.5" ry="8.5" transform="rotate(-35 1462.1 1470)"/></g>
<g fill="#cccccc"><circle cx="341.2" cy="1535.6" r="10"/><circle cx="371.5" cy="1535.6" r="10"/><circle cx="401.8" cy="1535.6" r="10"/><circle cx="432.1" cy="1535.6" r="10"/><circle cx="462.4" cy="1535.6" r="10"/><circle cx="522.9" cy="1535.6" r="10"/><circle cx="553.2" cy="1535.6" r="10"/><circle cx="583.5" cy="1535.6" r="10"/><circle cx="613.8" cy="1535.6" r="10"/><circle cx="644" cy="1535.6" r="10"/><circle cx="674.3" cy="1535.6" r="10"/><circle cx="704.6" cy="1535.6" r="10"/><circle cx="734.9" cy="1535.6" r="10"/><circle cx="765.2" cy="1535.6" r="10"/><circle cx="795.5" cy="1535.6" r="10"/><circle cx="825.7" cy="1535.6" r="10"/><circle cx="856" cy="1535.6" r="10"/><circle cx="886.3" cy="1535.6" r="10"/><circle cx="916.6" cy="1535.6" r="10"/><circle cx="977.1" cy="1535.6" r="10"/><circle cx="1007.4" cy="1535.6" r="10"/><circle cx="1037.7" cy="1535.6" r="10"/><circle cx="1068" cy="1535.6" r="10"/><circle cx="1098.2" cy="1535.6" r="10"/><circle cx="1128.5" cy="1535.6" r="10"/><circle cx="1189.1" cy="1535.6" r="10"/><circle cx="1219.4" cy="1535.6" r="10"/><circle cx="1249.7" cy="1535.6" r="10"/><circle cx="1279.9" cy="1535.6" r="10"/><circle cx="1310.2" cy="1535.6" r="10"/><circle cx="1340.5" cy="1535.6" r="10"/><circle cx="1370.8" cy="1535.6" r="10"/><circle cx="1401" cy="1535.6" r="10"/><circle cx="1431.3" cy="1535.6" r="10"/><circle cx="1461.6" cy="1535.6" r="10"/><circle cx="341.2" cy="1563.2" r="10"/><circle cx="371.5" cy="1563.2" r="10"/><circle cx="401.8" cy="1563.2" r="10"/><circle cx="432.1" cy="1563.2" r="10"/><circle cx="462.4" cy="1563.2" r="10"/><circle cx="492.6" cy="1563.2" r="10"/><circle cx="522.9" cy="1563.2" r="10"/><circle cx="553.2" cy="1563.2" r="10"/><circle cx="583.5" cy="1563.2" r="10"/><circle cx="613.8" cy="1563.2" r="10"/><circle cx="644" cy="1563.2" r="10"/><circle cx="674.3" cy="1563.2" r="10"/><circle cx="704.6" cy="1563.2" r="10"/><circle cx="734.9" cy="1563.2" r="10"/><circle cx="765.2" cy="1563.2" r="10"/><circle cx="795.5" cy="1563.2" r="10"/><circle cx="825.7" cy="1563.2" r="10"/><circle cx="856" cy="1563.2" r="10"/><circle cx="886.3" cy="1563.2" r="10"/><circle cx="916.6" cy="1563.2" r="10"/><circle cx="946.9" cy="1563.2" r="10"/><circle cx="977.1" cy="1563.2" r="10"/><circle cx="1007.4" cy="1563.2" r="10"/><circle cx="1037.7" cy="1563.2" r="10"/><circle cx="1068" cy="1563.2" r="10"/><circle cx="1098.2" cy="1563.2" r="10"/><circle cx="1128.5" cy="1563.2" r="10"/><circle cx="1158.8" cy="1563.2" r="10"/><circle cx="1189.1" cy="1563.2" r="10"/><circle cx="1219.4" cy="1563.2" r="10"/><circle cx="1249.7" cy="1563.2" r="10"/><circle cx="1310.2" cy="1563.2" r="10"/><circle cx="1340.5" cy="1563.2" r="10"/><circle cx="1370.8" cy="1563.2" r="10"/><circle cx="1401" cy="1563.2" r="10"/><circle cx="1431.3" cy="1563.2" r="10"/><circle cx="1461.6" cy="1563.2" r="10"/><circle cx="341.2" cy="1590.8" r="10"/><circle cx="371.5" cy="1590.8" r="10"/><circle cx="401.8" cy="1590.8" r="10"/><circle cx="432.1" cy="1590.8" r="10"/><circle cx="462.4" cy="1590.8" r="10"/><circle cx="492.6" cy="1590.8" r="10"/><circle cx="522.9" cy="1590.8" r="10"/><circle cx="553.2" cy="1590.8" r="10"/><circle cx="583.5" cy="1590.8" r="10"/><circle cx="613.8" cy="1590.8" r="10"/><circle cx="644" cy="1590.8" r="10"/><circle cx="674.3" cy="1590.8" r="10"/><circle cx="704.6" cy="1590.8" r="10"/><circle cx="734.9" cy="1590.8" r="10"/><circle cx="765.2" cy="1590.8" r="10"/><circle cx="795.5" cy="1590.8" r="10"/><circle cx="825.7" cy="1590.8" r="10"/><circle cx="856" cy="1590.8" r="10"/><circle cx="886.3" cy="1590.8" r="10"/><circle cx="916.6" cy="1590.8" r="10"/><circle cx="946.9" cy="1590.8" r="10"/><circle cx="977.1" cy="1590.8" r="10"/><circle cx="1007.4" cy="1590.8" r="10"/><circle cx="1037.7" cy="1590.8" r="10"/><circle cx="1068" cy="1590.8" r="10"/><circle cx="1098.2" cy="1590.8" r="10"/><circle cx="1128.5" cy="1590.8" r="10"/><circle cx="1158.8" cy="1590.8" r="10"/><circle cx="1189.1" cy="1590.8" r="10"/><circle cx="1219.4" cy="1590.8" r="10"/><circle cx="1249.7" cy="1590.8" r="10"/><circle cx="1279.9" cy="1590.8" r="10"/><circle cx="1310.2" cy="1590.8" r="10"/><circle cx="1340.5" cy="1590.8" r="10"/><circle cx="1370.8" cy="1590.8" r="10"/><circle cx="1401" cy="1590.8" r="10"/><circle cx="1431.3" cy="1590.8" r="10"/><circle cx="1461.6" cy="1590.8" r="10"/><circle cx="341.2" cy="1618.4" r="10"/><circle cx="371.5" cy="1618.4" r="10"/><circle cx="401.8" cy="1618.4" r="10"/><circle cx="432.1" cy="1618.4" r="10"/><circle cx="462.4" cy="1618.4" r="10"/><circle cx="492.6" cy="1618.4" r="10"/><circle cx="522.9" cy="1618.4" r="10"/><circle cx="553.2" cy="1618.4" r="10"/><circle cx="583.5" cy="1618.4" r="10"/><circle cx="613.8" cy="1618.4" r="10"/><circle cx="644" cy="1618.4" r="10"/><circle cx="674.3" cy="1618.4" r="10"/><circle cx="704.6" cy="1618.4" r="10"/><circle cx="734.9" cy="1618.4" r="10"/><circle cx="765.2" cy="1618.4" r="10"/><circle cx="795.5" cy="1618.4" r="10"/><circle cx="825.7" cy="1618.4" r="10"/><circle cx="856" cy="1618.4" r="10"/><circle cx="886.3" cy="1618.4" r="10"/><circle cx="916.6" cy="1618.4" r="10"/><circle cx="946.9" cy="1618.4" r="10"/><circle cx="977.1" cy="1618.4" r="10"/><circle cx="1007.4" cy="1618.4" r="10"/><circle cx="1068" cy="1618.4" r="10"/><circle cx="1098.2" cy="1618.4" r="10"/><circle cx="1128.5" cy="1618.4" r="10"/><circle cx="1158.8" cy="1618.4" r="10"/><circle cx="1189.1" cy="1618.4" r="10"/><circle cx="1219.4" cy="1618.4" r="10"/><circle cx="1249.7" cy="1618.4" r="10"/><circle cx="1279.9" cy="1618.4" r="10"/><circle cx="1310.2" cy="1618.4" r="10"/><circle cx="1340.5" cy="1618.4" r="10"/><circle cx="1370.8" cy="1618.4" r="10"/><circle cx="1401" cy="1618.4" r="10"/><circle cx="1431.3" cy="1618.4" r="10"/><circle cx="1461.6" cy="1618.4" r="10"/><circle cx="341.2" cy="1646" r="10"/><circle cx="371.5" cy="1646" r="10"/><circle cx="401.8" cy="1646" r="10"/><circle cx="432.1" cy="1646" r="10"/><circle cx="462.4" cy="1646" r="10"/><circle cx="492.6" cy="1646" r="10"/><circle cx="522.9" cy="1646" r="10"/><circle cx="553.2" cy="1646" r="10"/><circle cx="583.5" cy="1646" r="10"/><circle cx="613.8" cy="1646" r="10"/><circle cx="644" cy="1646" r="10"/><circle cx="674.3" cy="1646" r="10"/><circle cx="704.6" cy="1646" r="10"/><circle cx="734.9" cy="1646" r="10"/><circle cx="765.2" cy="1646" r="10"/><circle cx="795.5" cy="1646" r="10"/><circle cx="825.7" cy="1646" r="10"/><circle cx="856" cy="1646" r="10"/><circle cx="886.3" cy="1646" r="10"/><circle cx="916.6" cy="1646" r="10"/><circle cx="946.9" cy="1646" r="10"/><circle cx="977.1" cy="1646" r="10"/><circle cx="1007.4" cy="1646" r="10"/><circle cx="1037.7" cy="1646" r="10"/><circle cx="1068" cy="1646" r="10"/><circle cx="1098.2" cy="1646" r="10"/><circle cx="1128.5" cy="1646" r="10"/><circle cx="1158.8" cy="1646" r="10"/><circle cx="1219.4" cy="1646" r="10"/><circle cx="1249.7" cy="1646" r="10"/><circle cx="1279.9" cy="1646" r="10"/><circle cx="1310.2" cy="1646" r="10"/><circle cx="1340.5" cy="1646" r="10"/><circle cx="1370.8" cy="1646" r="10"/><circle cx="1401" cy="1646" r="10"/><circle cx="1431.3" cy="1646" r="10"/><circle cx="1461.6" cy="1646" r="10"/><circle cx="341.2" cy="1673.6" r="10"/><circle cx="371.5" cy="1673.6" r="10"/><circle cx="401.8" cy="1673.6" r="10"/><circle cx="432.1" cy="1673.6" r="10"/><circle cx="462.4" cy="1673.6" r="10"/><circle cx="492.6" cy="1673.6" r="10"/><circle cx="522.9" cy="1673.6" r="10"/><circle cx="553.2" cy="1673.6" r="10"/><circle cx="583.5" cy="1673.6" r="10"/><circle cx="613.8" cy="1673.6" r="10"/><circle cx="674.3" cy="1673.6" r="10"/><circle cx="704.6" cy="1673.6" r="10"/><circle cx="734.9" cy="1673.6" r="10"/><circle cx="765.2" cy="1673.6" r="10"/><circle cx="795.5" cy="1673.6" r="10"/><circle cx="825.7" cy="1673.6" r="10"/><circle cx="856" cy="1673.6" r="10"/><circle cx="886.3" cy="1673.6" r="10"/><circle cx="916.6" cy="1673.6" r="10"/><circle cx="946.9" cy="1673.6" r="10"/><circle cx="977.1" cy="1673.6" r="10"/><circle cx="1007.4" cy="1673.6" r="10"/><circle cx="1068" cy="1673.6" r="10"/><circle cx="1098.2" cy="1673.6" r="10"/><circle cx="1128.5" cy="1673.6" r="10"/><circle cx="1158.8" cy="1673.6" r="10"/><circle cx="1189.1" cy="1673.6" r="10"/><circle cx="1219.4" cy="1673.6" r="10"/><circle cx="1279.9" cy="1673.6" r="10"/><circle cx="1310.2" cy="1673.6" r="10"/><circle cx="1340.5" cy="1673.6" r="10"/><circle cx="1370.8" cy="1673.6" r="10"/><circle cx="1401" cy="1673.6" r="10"/><circle cx="1431.3" cy="1673.6" r="10"/><circle cx="1461.6" cy="1673.6" r="10"/><circle cx="341.2" cy="1701.2" r="10"/><circle cx="371.5" cy="1701.2" r="10"/><circle cx="401.8" cy="1701.2" r="10"/><circle cx="432.1" cy="1701.2" r="10"/><circle cx="462.4" cy="1701.2" r="10"/><circle cx="492.6" cy="1701.2" r="10"/><circle cx="522.9" cy="1701.2" r="10"/><circle cx="583.5" cy="1701.2" r="10"/><circle cx="613.8" cy="1701.2" r="10"/><circle cx="644" cy="1701.2" r="10"/><circle cx="674.3" cy="1701.2" r="10"/><circle cx="704.6" cy="1701.2" r="10"/><circle cx="734.9" cy="1701.2" r="10"/><circle cx="765.2" cy="1701.2" r="10"/><circle cx="795.5" cy="1701.2" r="10"/><circle cx="825.7" cy="1701.2" r="10"/><circle cx="856" cy="1701.2" r="10"/><circle cx="916.6" cy="1701.2" r="10"/><circle cx="946.9" cy="1701.2" r="10"/><circle cx="977.1" cy="1701.2" r="10"/><circle cx="1007.4" cy="1701.2" r="10"/><circle cx="1037.7" cy="1701.2" r="10"/><circle cx="1068" cy="1701.2" r="10"/><circle cx="1098.2" cy="1701.2" r="10"/><circle cx="1128.5" cy="1701.2" r="10"/><circle cx="1158.8" cy="1701.2" r="10"/><circle cx="1189.1" cy="1701.2" r="10"/><circle cx="1219.4" cy="1701.2" r="10"/><circle cx="1249.7" cy="1701.2" r="10"/><circle cx="1279.9" cy="1701.2" r="10"/><circle cx="1310.2" cy="1701.2" r="10"/><circle cx="1340.5" cy="1701.2" r="10"/><circle cx="1370.8" cy="1701.2" r="10"/><circle cx="1401" cy="1701.2" r="10"/><circle cx="1431.3" cy="1701.2" r="10"/><circle cx="1461.6" cy="1701.2" r="10"/><circle cx="341.2" cy="1728.8" r="10"/><circle cx="371.5" cy="1728.8" r="10"/><circle cx="401.8" cy="1728.8" r="10"/><circle cx="432.1" cy="1728.8" r="10"/><circle cx="462.4" cy="1728.8" r="10"/><circle cx="492.6" cy="1728.8" r="10"/><circle cx="522.9" cy="1728.8" r="10"/><circle cx="553.2" cy="1728.8" r="10"/><circle cx="613.8" cy="1728.8" r="10"/><circle cx="644" cy="1728.8" r="10"/><circle cx="674.3" cy="1728.8" r="10"/><circle cx="704.6" cy="1728.8" r="10"/><circle cx="734.9" cy="1728.8" r="10"/><circle cx="765.2" cy="1728.8" r="10"/><circle cx="795.5" cy="1728.8" r="10"/><circle cx="825.7" cy="1728.8" r="10"/><circle cx="856" cy="1728.8" r="10"/><circle cx="886.3" cy="1728.8" r="10"/><circle cx="916.6" cy="1728.8" r="10"/><circle cx="946.9" cy="1728.8" r="10"/><circle cx="977.1" cy="1728.8" r="10"/><circle cx="1007.4" cy="1728.8" r="10"/><circle cx="1037.7" cy="1728.8" r="10"/><circle cx="1068" cy="1728.8" r="10"/><circle cx="1098.2" cy="1728.8" r="10"/><circle cx="1128.5" cy="1728.8" r="10"/><circle cx="1158.8" cy="1728.8" r="10"/><circle cx="1189.1" cy="1728.8" r="10"/><circle cx="1219.4" cy="1728.8" r="10"/><circle cx="1249.7" cy="1728.8" r="10"/><circle cx="1279.9" cy="1728.8" r="10"/><circle cx="1310.2" cy="1728.8" r="10"/><circle cx="1340.5" cy="1728.8" r="10"/><circle cx="1370.8" cy="1728.8" r="10"/><circle cx="1401" cy="1728.8" r="10"/><circle cx="1431.3" cy="1728.8" r="10"/><circle cx="1461.6" cy="1728.8" r="10"/><circle cx="341.2" cy="1756.4" r="10"/><circle cx="371.5" cy="1756.4" r="10"/><circle cx="401.8" cy="1756.4" r="10"/><circle cx="432.1" cy="1756.4" r="10"/><circle cx="462.4" cy="1756.4" r="10"/><circle cx="492.6" cy="1756.4" r="10"/><circle cx="522.9" cy="1756.4" r="10"/><circle cx="553.2" cy="1756.4" r="10"/><circle cx="583.5" cy="1756.4" r="10"/><circle cx="644" cy="1756.4" r="10"/><circle cx="674.3" cy="1756.4" r="10"/><circle cx="704.6" cy="1756.4" r="10"/><circle cx="734.9" cy="1756.4" r="10"/><circle cx="765.2" cy="1756.4" r="10"/><circle cx="795.5" cy="1756.4" r="10"/><circle cx="825.7" cy="1756.4" r="10"/><circle cx="856" cy="1756.4" r="10"/><circle cx="886.3" cy="1756.4" r="10"/><circle cx="916.6" cy="1756.4" r="10"/><circle cx="946.9" cy="1756.4" r="10"/><circle cx="977.1" cy="1756.4" r="10"/><circle cx="1007.4" cy="1756.4" r="10"/><circle cx="1037.7" cy="1756.4" r="10"/><circle cx="1068" cy="1756.4" r="10"/><circle cx="1098.2" cy="1756.4" r="10"/><circle cx="1128.5" cy="1756.4" r="10"/><circle cx="1158.8" cy="1756.4" r="10"/><circle cx="1189.1" cy="1756.4" r="10"/><circle cx="1219.4" cy="1756.4" r="10"/><circle cx="1249.7" cy="1756.4" r="10"/><circle cx="1279.9" cy="1756.4" r="10"/><circle cx="1340.5" cy="1756.4" r="10"/><circle cx="1370.8" cy="1756.4" r="10"/><circle cx="1401" cy="1756.4" r="10"/><circle cx="1431.3" cy="1756.4" r="10"/><circle cx="1461.6" cy="1756.4" r="10"/><circle cx="341.2" cy="1784" r="10"/><circle cx="371.5" cy="1784" r="10"/><circle cx="401.8" cy="1784" r="10"/><circle cx="432.1" cy="1784" r="10"/><circle cx="462.4" cy="1784" r="10"/><circle cx="492.6" cy="1784" r="10"/><circle cx="522.9" cy="1784" r="10"/><circle cx="553.2" cy="1784" r="10"/><circle cx="583.5" cy="1784" r="10"/><circle cx="613.8" cy="1784" r="10"/><circle cx="644" cy="1784" r="10"/><circle cx="674.3" cy="1784" r="10"/><circle cx="704.6" cy="1784" r="10"/><circle cx="734.9" cy="1784" r="10"/><circle cx="765.2" cy="1784" r="10"/><circle cx="795.5" cy="1784" r="10"/><circle cx="825.7" cy="1784" r="10"/><circle cx="856" cy="1784" r="10"/><circle cx="886.3" cy="1784" r="10"/><circle cx="916.6" cy="1784" r="10"/><circle cx="946.9" cy="1784" r="10"/><circle cx="977.1" cy="1784" r="10"/><circle cx="1007.4" cy="1784" r="10"/><circle cx="1037.7" cy="1784" r="10"/><circle cx="1068" cy="1784" r="10"/><circle cx="1098.2" cy="1784" r="10"/><circle cx="1128.5" cy="1784" r="10"/><circle cx="1158.8" cy="1784" r="10"/><circle cx="1189.1" cy="1784" r="10"/><circle cx="1219.4" cy="1784" r="10"/><circle cx="1249.7" cy="1784" r="10"/><circle cx="1279.9" cy="1784" r="10"/><circle cx="1340.5" cy="1784" r="10"/><circle cx="1370.8" cy="1784" r="10"/><circle cx="1401" cy="1784" r="10"/><circle cx="1431.3" cy="1784" r="10"/><circle cx="1461.6" cy="1784" r="10"/><circle cx="341.2" cy="1811.6" r="10"/><circle cx="371.5" cy="1811.6" r="10"/><circle cx="401.8" cy="1811.6" r="10"/><circle cx="432.1" cy="1811.6" r="10"/><circle cx="462.4" cy="1811.6" r="10"/><circle cx="492.6" cy="1811.6" r="10"/><circle cx="522.9" cy="1811.6" r="10"/><circle cx="553.2" cy="1811.6" r="10"/><circle cx="583.5" cy="1811.6" r="10"/><circle cx="613.8" cy="1811.6" r="10"/><circle cx="644" cy="1811.6" r="10"/><circle cx="674.3" cy="1811.6" r="10"/><circle cx="704.6" cy="1811.6" r="10"/><circle cx="734.9" cy="1811.6" r="10"/><circle cx="765.2" cy="1811.6" r="10"/><circle cx="795.5" cy="1811.6" r="10"/><circle cx="825.7" cy="1811.6" r="10"/><circle cx="856" cy="1811.6" r="10"/><circle cx="886.3" cy="1811.6" r="10"/><circle cx="916.6" cy="1811.6" r="10"/><circle cx="946.9" cy="1811.6" r="10"/><circle cx="977.1" cy="1811.6" r="10"/><circle cx="1007.4" cy="1811.6" r="10"/><circle cx="1037.7" cy="1811.6" r="10"/><circle cx="1068" cy="1811.6" r="10"/><circle cx="1098.2" cy="1811.6" r="10"/><circle cx="1128.5" cy="1811.6" r="10"/><circle cx="1158.8" cy="1811.6" r="10"/><circle cx="1189.1" cy="1811.6" r="10"/><circle cx="1219.4" cy="1811.6" r="10"/><circle cx="1249.7" cy="1811.6" r="10"/><circle cx="1279.9" cy="1811.6" r="10"/><circle cx="1310.2" cy="1811.6" r="10"/><circle cx="1340.5" cy="1811.6" r="10"/><circle cx="1370.8" cy="1811.6" r="10"/><circle cx="1401" cy="1811.6" r="10"/><circle cx="1431.3" cy="1811.6" r="10"/><circle cx="1461.6" cy="1811.6" r="10"/><circle cx="341.2" cy="1839.2" r="10"/><circle cx="371.5" cy="1839.2" r="10"/><circle cx="401.8" cy="1839.2" r="10"/><circle cx="432.1" cy="1839.2" r="10"/><circle cx="462.4" cy="1839.2" r="10"/><circle cx="492.6" cy="1839.2" r="10"/><circle cx="522.9" cy="1839.2" r="10"/><circle cx="553.2" cy="1839.2" r="10"/><circle cx="583.5" cy="1839.2" r="10"/><circle cx="613.8" cy="1839.2" r="10"/><circle cx="644" cy="1839.2" r="10"/><circle cx="674.3" cy="1839.2" r="10"/><circle cx="704.6" cy="1839.2" r="10"/><circle cx="734.9" cy="1839.2" r="10"/><circle cx="765.2" cy="1839.2" r="10"/><circle cx="795.5" cy="1839.2" r="10"/><circle cx="825.7" cy="1839.2" r="10"/><circle cx="856" cy="1839.2" r="10"/><circle cx="886.3" cy="1839.2" r="10"/><circle cx="916.6" cy="1839.2" r="10"/><circle cx="946.9" cy="1839.2" r="10"/><circle cx="977.1" cy="1839.2" r="10"/><circle cx="1007.4" cy="1839.2" r="10"/><circle cx="1037.7" cy="1839.2" r="10"/><circle cx="1068" cy="1839.2" r="10"/><circle cx="1098.2" cy="1839.2" r="10"/><circle cx="1128.5" cy="1839.2" r="10"/><circle cx="1158.8" cy="1839.2" r="10"/><circle cx="1189.1" cy="1839.2" r="10"/><circle cx="1219.4" cy="1839.2" r="10"/><circle cx="1249.7" cy="1839.2" r="10"/><circle cx="1279.9" cy="1839.2" r="10"/><circle cx="1310.2" cy="1839.2" r="10"/><circle cx="1340.5" cy="1839.2" r="10"/><circle cx="1370.8" cy="1839.2" r="10"/><circle cx="1401" cy="1839.2" r="10"/><circle cx="1431.3" cy="1839.2" r="10"/><circle cx="1461.6" cy="1839.2" r="10"/><circle cx="341.2" cy="1866.8" r="10"/><circle cx="401.8" cy="1866.8" r="10"/><circle cx="432.1" cy="1866.8" r="10"/><circle cx="462.4" cy="1866.8" r="10"/><circle cx="492.6" cy="1866.8" r="10"/><circle cx="522.9" cy="1866.8" r="10"/><circle cx="553.2" cy="1866.8" r="10"/><circle cx="583.5" cy="1866.8" r="10"/><circle cx="613.8" cy="1866.8" r="10"/><circle cx="644" cy="1866.8" r="10"/><circle cx="674.3" cy="1866.8" r="10"/><circle cx="704.6" cy="1866.8" r="10"/><circle cx="734.9" cy="1866.8" r="10"/><circle cx="765.2" cy="1866.8" r="10"/><circle cx="795.5" cy="1866.8" r="10"/><circle cx="825.7" cy="1866.8" r="10"/><circle cx="856" cy="1866.8" r="10"/><circle cx="886.3" cy="1866.8" r="10"/><circle cx="916.6" cy="1866.8" r="10"/><circle cx="946.9" cy="1866.8" r="10"/><circle cx="807.1" cy="1479" r="10"/><circle cx="837.4" cy="1479" r="10"/><circle cx="867.6" cy="1479" r="10"/><circle cx="897.9" cy="1479" r="10"/><circle cx="928.1" cy="1479" r="10"/><circle cx="958.4" cy="1479" r="10"/><circle cx="988.6" cy="1479" r="10"/><circle cx="1018.9" cy="1479" r="10"/><circle cx="1049.1" cy="1479" r="10"/><circle cx="1079.3" cy="1479" r="10"/><circle cx="1109.6" cy="1479" r="10"/><circle cx="1139.8" cy="1479" r="10"/><circle cx="1170.1" cy="1479" r="10"/><circle cx="1200.3" cy="1479" r="10"/><circle cx="1230.6" cy="1479" r="10"/><circle cx="1260.8" cy="1479" r="10"/><circle cx="1291.1" cy="1479" r="10"/><circle cx="1321.3" cy="1479" r="10"/><circle cx="1351.6" cy="1479" r="10"/><circle cx="1381.8" cy="1479" r="10"/><circle cx="1412.1" cy="1479" r="10"/><circle cx="1442.3" cy="1479" r="10"/><circle cx="1472.6" cy="1479" r="10"/></g>
<circle cx="492.6" cy="1535.6" r="10" fill="#d0640e"/><circle cx="946.9" cy="1535.6" r="10" fill="#b5821e"/><circle cx="1158.8" cy="1535.6" r="10" fill="#c8921c"/><circle cx="1279.9" cy="1563.2" r="10" fill="#d06422"/><circle cx="1037.7" cy="1618.4" r="10" fill="#8a6a9a"/><circle cx="1189.1" cy="1646" r="10" fill="#7d8038"/><circle cx="644" cy="1673.6" r="10" fill="#d8620c"/><circle cx="1037.7" cy="1673.6" r="10" fill="#7d8038"/><circle cx="1249.7" cy="1673.6" r="10" fill="#0e9dd5"/><circle cx="553.2" cy="1701.2" r="10" fill="#0e9dd5"/><circle cx="886.3" cy="1701.2" r="10" fill="#0e9dd5"/><circle cx="583.5" cy="1728.8" r="10" fill="#c8683a"/><circle cx="613.8" cy="1756.4" r="10" fill="#0f9a98"/><circle cx="1310.2" cy="1756.4" r="10" fill="#0e9dd5"/><circle cx="1310.2" cy="1784" r="10" fill="#e02a8e"/><circle cx="371.5" cy="1866.8" r="10" fill="#a87820"/>
<g id="nodes">
<g fill="#0e9dd5"><circle cx="426.2" cy="91.2" r="10"/><circle cx="399.5" cy="101.2" r="10"/><circle cx="424.2" cy="113.8" r="10"/><circle cx="392.5" cy="125.8" r="10"/><circle cx="421.2" cy="127.5" r="10"/><circle cx="444.5" cy="138.8" r="10"/><circle cx="470" cy="138.8" r="10"/><circle cx="414.2" cy="146.8" r="10"/><circle cx="469" cy="160.8" r="10"/><circle cx="440.5" cy="165.5" r="10"/><circle cx="441.2" cy="215.5" r="10"/><circle cx="398" cy="202.5" r="10"/><circle cx="421.2" cy="226.2" r="10"/><circle cx="450" cy="237.5" r="10"/><circle cx="381.2" cy="242.5" r="10"/><circle cx="414.2" cy="242.5" r="10"/><circle cx="437" cy="246.2" r="10"/><circle cx="405" cy="261.8" r="10"/><circle cx="439.2" cy="268.2" r="10"/><circle cx="446.8" cy="296.8" r="10"/><circle cx="408.8" cy="292.5" r="10"/><circle cx="475.8" cy="291.2" r="10"/><circle cx="496.2" cy="263.2" r="10"/><circle cx="432.5" cy="310" r="10"/><circle cx="472" cy="308.8" r="10"/><circle cx="457.5" cy="316.2" r="10"/><circle cx="483.8" cy="321.2" r="10"/><circle cx="458.8" cy="330" r="10"/><circle cx="433.2" cy="333" r="10"/><circle cx="400" cy="341.2" r="10"/><circle cx="503.8" cy="334.5" r="10"/><circle cx="493.8" cy="342.5" r="10"/><circle cx="431.8" cy="353.8" r="10"/><circle cx="463.8" cy="352.5" r="10"/><circle cx="478.5" cy="350" r="10"/><circle cx="515.5" cy="350" r="10"/><circle cx="418" cy="370" r="10"/><circle cx="460" cy="365.5" r="10"/><circle cx="498.8" cy="366.2" r="10"/><circle cx="523.8" cy="364.5" r="10"/><circle cx="480.5" cy="365" r="10"/><circle cx="539.2" cy="373.2" r="10"/><circle cx="443.8" cy="383.8" r="10"/><circle cx="461.5" cy="379" r="10"/><circle cx="511.8" cy="382.5" r="10"/><circle cx="483" cy="381" r="10"/><circle cx="446.2" cy="396.2" r="10"/><circle cx="465" cy="397.5" r="10"/><circle cx="495.5" cy="397" r="10"/><circle cx="483" cy="402.2" r="10"/><circle cx="466.2" cy="408.8" r="10"/><circle cx="449.5" cy="413.8" r="10"/><circle cx="515" cy="413.8" r="10"/><circle cx="546.2" cy="330.5" r="10"/><circle cx="567.5" cy="292.5" r="10"/><circle cx="591.8" cy="263.8" r="10"/><circle cx="613.8" cy="241.2" r="10"/><circle cx="580.5" cy="322" r="10"/><circle cx="603" cy="317" r="10"/><circle cx="611.2" cy="328.8" r="10"/><circle cx="625" cy="334.5" r="10"/><circle cx="580" cy="340" r="10"/><circle cx="565" cy="352" r="10"/><circle cx="601.8" cy="349.2" r="10"/><circle cx="617.5" cy="359.2" r="10"/><circle cx="641.8" cy="358" r="10"/><circle cx="399.2" cy="402.5" r="10"/><circle cx="372.5" cy="406.2" r="10"/><circle cx="365.5" cy="418.8" r="10"/><circle cx="403.2" cy="423.8" r="10"/><circle cx="379.2" cy="434.2" r="10"/><circle cx="389.2" cy="455.5" r="10"/><circle cx="445" cy="435" r="10"/><circle cx="430" cy="466.2" r="10"/><circle cx="484.5" cy="436.2" r="10"/><circle cx="512.5" cy="432" r="10"/><circle cx="474.2" cy="468" r="10"/><circle cx="505.8" cy="470.8" r="10"/><circle cx="532.5" cy="463.8" r="10"/><circle cx="546.2" cy="490" r="10"/><circle cx="503.2" cy="512.5" r="10"/><circle cx="539.2" cy="418.8" r="10"/><circle cx="563.8" cy="403.2" r="10"/><circle cx="580" cy="418" r="10"/><circle cx="571.2" cy="438.8" r="10"/><circle cx="600" cy="458" r="10"/><circle cx="491" cy="387" r="10"/><circle cx="459.5" cy="372.5" r="10"/></g>
<g fill="#0f9a98"><circle cx="670.5" cy="133.8" r="10"/><circle cx="682" cy="163" r="10"/><circle cx="702.5" cy="167.5" r="10"/><circle cx="669.2" cy="178.8" r="10"/><circle cx="688.8" cy="183.2" r="10"/><circle cx="712" cy="185.8" r="10"/><circle cx="677.5" cy="198.2" r="10"/><circle cx="699.5" cy="197" r="10"/><circle cx="735.8" cy="196.2" r="10"/><circle cx="706.2" cy="214.2" r="10"/><circle cx="734.5" cy="215.5" r="10"/><circle cx="714.2" cy="240" r="10"/><circle cx="746.2" cy="247.5" r="10"/><circle cx="749.2" cy="278" r="10"/><circle cx="777.5" cy="207.5" r="10"/><circle cx="790" cy="183.2" r="10"/><circle cx="818" cy="165.8" r="10"/><circle cx="817.5" cy="195" r="10"/><circle cx="858.2" cy="185.8" r="10"/><circle cx="866.2" cy="215.5" r="10"/><circle cx="885.5" cy="183.2" r="10"/><circle cx="896.2" cy="163.2" r="10"/><circle cx="878" cy="151.2" r="10"/><circle cx="885" cy="132" r="10"/><circle cx="912.5" cy="136.8" r="10"/><circle cx="928.8" cy="161.2" r="10"/><circle cx="917.5" cy="105.5" r="10"/><circle cx="944.5" cy="90.8" r="10"/><circle cx="942" cy="119.5" r="10"/></g>
<g fill="#0e9dd5"><circle cx="1102.5" cy="90.8" r="10"/><circle cx="1090" cy="118.2" r="10"/><circle cx="1078" cy="150" r="10"/><circle cx="1113.2" cy="150" r="10"/><circle cx="1125.5" cy="177" r="10"/><circle cx="987.5" cy="143.2" r="10"/><circle cx="1020.8" cy="151.8" r="10"/><circle cx="1012.5" cy="166.2" r="10"/><circle cx="988.8" cy="170" r="10"/><circle cx="1043.8" cy="168.2" r="10"/><circle cx="1063.8" cy="171.2" r="10"/><circle cx="1005" cy="181.2" r="10"/><circle cx="1030.5" cy="180.8" r="10"/><circle cx="1067" cy="184.5" r="10"/><circle cx="1093.8" cy="187.5" r="10"/><circle cx="972.5" cy="194.2" r="10"/><circle cx="1037.5" cy="199.2" r="10"/><circle cx="1060.8" cy="202" r="10"/><circle cx="1011.2" cy="222" r="10"/><circle cx="1041.2" cy="227.5" r="10"/><circle cx="1059.5" cy="230" r="10"/><circle cx="1080" cy="225.5" r="10"/><circle cx="1048.2" cy="257" r="10"/></g>
<g fill="#c0576a"><circle cx="1182" cy="90.8" r="10"/><circle cx="1208.2" cy="101.2" r="10"/><circle cx="1253.2" cy="107" r="10"/><circle cx="1276.2" cy="118.2" r="10"/><circle cx="1179.2" cy="119.5" r="10"/><circle cx="1200.8" cy="120.5" r="10"/><circle cx="1231.2" cy="121.2" r="10"/><circle cx="1210" cy="134.5" r="10"/><circle cx="1235.8" cy="135.8" r="10"/><circle cx="1261.8" cy="134.5" r="10"/><circle cx="1158.8" cy="142" r="10"/><circle cx="1186.2" cy="147" r="10"/><circle cx="1200" cy="156.2" r="10"/><circle cx="1218.8" cy="155.5" r="10"/><circle cx="1153.2" cy="162.5" r="10"/><circle cx="1182" cy="168.2" r="10"/><circle cx="1223.8" cy="167.5" r="10"/><circle cx="1198.8" cy="180" r="10"/><circle cx="1212" cy="189.2" r="10"/><circle cx="1180" cy="192.5" r="10"/><circle cx="1238.8" cy="189.2" r="10"/><circle cx="1261.8" cy="177.5" r="10"/><circle cx="1267" cy="205" r="10"/></g>
<g fill="#0e9dd5"><circle cx="1342" cy="90.8" r="10"/><circle cx="1312.5" cy="102.5" r="10"/><circle cx="1338.8" cy="121.8" r="10"/><circle cx="1373.8" cy="115.5" r="10"/><circle cx="1395.5" cy="130" r="10"/><circle cx="1305" cy="142.5" r="10"/><circle cx="1365" cy="146.2" r="10"/><circle cx="1336.2" cy="153.8" r="10"/><circle cx="1305.5" cy="167.5" r="10"/><circle cx="1368" cy="165" r="10"/><circle cx="1343.2" cy="174.2" r="10"/><circle cx="1393.8" cy="168.8" r="10"/><circle cx="1366.8" cy="182.5" r="10"/><circle cx="1412" cy="178.8" r="10"/><circle cx="1446.2" cy="171.8" r="10"/><circle cx="1388" cy="194.2" r="10"/><circle cx="1421.2" cy="199.2" r="10"/><circle cx="1342" cy="206.2" r="10"/><circle cx="1371.2" cy="217" r="10"/><circle cx="1446.2" cy="220.8" r="10"/><circle cx="1370" cy="248" r="10"/></g>
<g fill="#0f9a98"><circle cx="368.8" cy="531.8" r="10"/><circle cx="392" cy="529.5" r="10"/><circle cx="365" cy="553" r="10"/><circle cx="402" cy="548.8" r="10"/><circle cx="386.2" cy="561.8" r="10"/><circle cx="417" cy="577" r="10"/><circle cx="448.8" cy="591.8" r="10"/><circle cx="427.5" cy="608" r="10"/><circle cx="466.2" cy="603.8" r="10"/><circle cx="443.2" cy="618.8" r="10"/><circle cx="405.5" cy="630" r="10"/><circle cx="466.2" cy="627.5" r="10"/><circle cx="434.5" cy="638" r="10"/><circle cx="478.8" cy="576.2" r="10"/><circle cx="504.2" cy="560" r="10"/><circle cx="493.8" cy="648" r="10"/><circle cx="521.2" cy="663.8" r="10"/></g>
<g fill="#b5721f"><circle cx="548.8" cy="544.2" r="10"/><circle cx="578.8" cy="538.8" r="10"/><circle cx="604.5" cy="542" r="10"/><circle cx="574.2" cy="560.8" r="10"/><circle cx="602.5" cy="565.5" r="10"/><circle cx="633.8" cy="551.2" r="10"/><circle cx="655.8" cy="529.5" r="10"/><circle cx="665.8" cy="554.5" r="10"/><circle cx="602" cy="600" r="10"/><circle cx="575" cy="615.8" r="10"/><circle cx="615" cy="630" r="10"/><circle cx="620.5" cy="658.8" r="10"/><circle cx="618.2" cy="687.5" r="10"/></g>
<g fill="#b07f22"><circle cx="711.2" cy="533.8" r="10"/><circle cx="728" cy="530" r="10"/><circle cx="746.2" cy="540" r="10"/><circle cx="705" cy="548.8" r="10"/><circle cx="722.5" cy="547.5" r="10"/><circle cx="740" cy="550" r="10"/><circle cx="750" cy="553.8" r="10"/><circle cx="715" cy="562.5" r="10"/><circle cx="732.5" cy="563.8" r="10"/><circle cx="693.8" cy="565" r="10"/><circle cx="726.2" cy="572.5" r="10"/><circle cx="748" cy="572.5" r="10"/><circle cx="700.8" cy="593.8" r="10"/><circle cx="731.2" cy="555.5" r="10"/><circle cx="715" cy="541.2" r="10"/><circle cx="738.8" cy="563.8" r="10"/><circle cx="735" cy="540" r="10"/></g>
<g fill="#0e9dd5"><circle cx="865.5" cy="529.5" r="10"/><circle cx="830.8" cy="537.5" r="10"/><circle cx="845" cy="541.2" r="10"/><circle cx="820" cy="548.8" r="10"/><circle cx="835" cy="551.2" r="10"/><circle cx="852.5" cy="550" r="10"/><circle cx="805" cy="555.5" r="10"/><circle cx="860" cy="559.5" r="10"/><circle cx="822.5" cy="562.5" r="10"/><circle cx="840" cy="563.8" r="10"/><circle cx="776.2" cy="571.2" r="10"/><circle cx="806.2" cy="580" r="10"/><circle cx="828.8" cy="576.2" r="10"/><circle cx="843.8" cy="572.5" r="10"/><circle cx="835" cy="558.8" r="10"/><circle cx="847.5" cy="558.8" r="10"/><circle cx="816.2" cy="567.5" r="10"/><circle cx="835" cy="568.8" r="10"/></g>
<g fill="#0e9dd5"><circle cx="942.5" cy="529.5" r="10"/><circle cx="935.8" cy="558" r="10"/><circle cx="955" cy="578.8" r="10"/><circle cx="921.2" cy="586.2" r="10"/><circle cx="941.2" cy="591.2" r="10"/><circle cx="910" cy="600" r="10"/><circle cx="930" cy="602.5" r="10"/><circle cx="893.8" cy="607.5" r="10"/><circle cx="948.8" cy="610" r="10"/><circle cx="916.2" cy="615" r="10"/><circle cx="930" cy="622.5" r="10"/><circle cx="902.5" cy="630.5" r="10"/></g>
<g fill="#d8367f"><circle cx="1005.8" cy="530" r="10"/><circle cx="986.8" cy="538.8" r="10"/><circle cx="1021.2" cy="540" r="10"/><circle cx="982.5" cy="552.5" r="10"/><circle cx="1001.2" cy="550" r="10"/><circle cx="1020" cy="559.5" r="10"/><circle cx="1002.5" cy="566.2" r="10"/><circle cx="982" cy="572.5" r="10"/><circle cx="1057.5" cy="558.8" r="10"/><circle cx="1091.2" cy="556.2" r="10"/><circle cx="1123" cy="553.2" r="10"/><circle cx="1035.8" cy="588" r="10"/></g>
<g fill="#d8620c"><circle cx="1151.8" cy="530" r="10"/><circle cx="1182.5" cy="540" r="10"/><circle cx="1167" cy="548.8" r="10"/><circle cx="1155.5" cy="561.2" r="10"/><circle cx="1194.5" cy="562" r="10"/><circle cx="1178.8" cy="575" r="10"/><circle cx="1214.2" cy="580.5" r="10"/><circle cx="1197.5" cy="596.2" r="10"/><circle cx="1232.5" cy="600" r="10"/><circle cx="1215" cy="613.2" r="10"/></g>
<g fill="#0f9a98"><circle cx="1301.2" cy="529.5" r="10"/><circle cx="1287.5" cy="555.5" r="10"/><circle cx="1280.5" cy="585" r="10"/><circle cx="1260" cy="607.5" r="10"/><circle cx="1288.8" cy="615" r="10"/><circle cx="1276.2" cy="633.8" r="10"/><circle cx="1305.5" cy="628.8" r="10"/><circle cx="1311.2" cy="644.2" r="10"/><circle cx="1280" cy="648.8" r="10"/><circle cx="1297.5" cy="662.5" r="10"/></g>
<g fill="#0f9a98"><circle cx="1368" cy="529.5" r="10"/><circle cx="1390" cy="533.8" r="10"/><circle cx="1358.2" cy="546.2" r="10"/><circle cx="1392" cy="552.5" r="10"/><circle cx="1371.2" cy="565" r="10"/><circle cx="1337.5" cy="570.5" r="10"/><circle cx="1393.8" cy="588.8" r="10"/><circle cx="1364.2" cy="596.2" r="10"/><circle cx="1419.5" cy="606.2" r="10"/><circle cx="1350" cy="622.5" r="10"/></g>
<g fill="#0f9a98"><circle cx="428" cy="713.2" r="10"/><circle cx="450.8" cy="724.5" r="10"/><circle cx="415" cy="735" r="10"/><circle cx="437" cy="746.2" r="10"/><circle cx="415" cy="765" r="10"/><circle cx="450.8" cy="766.8" r="10"/><circle cx="431.8" cy="778.8" r="10"/><circle cx="395.8" cy="785" r="10"/><circle cx="365.5" cy="796.2" r="10"/><circle cx="417.5" cy="798.8" r="10"/></g>
<g fill="#7aad1c"><circle cx="478.8" cy="712.5" r="10"/><circle cx="503.2" cy="730.8" r="10"/><circle cx="527.5" cy="750" r="10"/><circle cx="573.8" cy="749.5" r="10"/><circle cx="552.5" cy="771.2" r="10"/><circle cx="537" cy="791.2" r="10"/><circle cx="575" cy="795" r="10"/><circle cx="553" cy="806.8" r="10"/><circle cx="602.5" cy="811.8" r="10"/><circle cx="630" cy="827.5" r="10"/></g>
<g fill="#0e9dd5"><circle cx="748.8" cy="713.8" r="10"/><circle cx="757" cy="741.2" r="10"/><circle cx="726.2" cy="749.5" r="10"/><circle cx="786.8" cy="754.2" r="10"/><circle cx="811.2" cy="737" r="10"/><circle cx="817.5" cy="763.8" r="10"/><circle cx="850" cy="767.5" r="10"/><circle cx="878.2" cy="754.2" r="10"/><circle cx="897.5" cy="731.2" r="10"/></g>
<g fill="#0f9a98"><circle cx="1060" cy="720" r="10"/><circle cx="1078.8" cy="712.5" r="10"/><circle cx="1099.2" cy="722.5" r="10"/><circle cx="1080" cy="728.8" r="10"/><circle cx="1052.5" cy="740.8" r="10"/><circle cx="1067.5" cy="745.5" r="10"/><circle cx="1088.2" cy="746.2" r="10"/><circle cx="1021.8" cy="750.8" r="10"/></g>
<g fill="#0e9dd5"><circle cx="1127.5" cy="733.2" r="10"/><circle cx="1159.5" cy="735" r="10"/><circle cx="1138" cy="757" r="10"/><circle cx="1168.8" cy="713.8" r="10"/><circle cx="1195" cy="721.2" r="10"/><circle cx="1185.8" cy="742" r="10"/><circle cx="1225" cy="713.2" r="10"/><circle cx="1217" cy="740" r="10"/></g>
<g fill="#9fb21a"><circle cx="1288.2" cy="713.8" r="10"/><circle cx="1271.2" cy="728.8" r="10"/><circle cx="1310" cy="722.5" r="10"/><circle cx="1291.2" cy="732.5" r="10"/><circle cx="1308.8" cy="743.8" r="10"/><circle cx="1282.5" cy="750" r="10"/><circle cx="1253.2" cy="765" r="10"/><circle cx="1288" cy="780" r="10"/></g>
<g fill="#d39a14"><circle cx="1338.2" cy="719.2" r="10"/><circle cx="1364.2" cy="713.8" r="10"/><circle cx="1347.5" cy="742.5" r="10"/><circle cx="1367" cy="738.8" r="10"/><circle cx="1380.5" cy="755" r="10"/><circle cx="1345" cy="763.8" r="10"/><circle cx="1366.2" cy="770" r="10"/></g>
<g fill="#c0576a"><circle cx="1431.8" cy="713.8" r="10"/><circle cx="1411.8" cy="725" r="10"/><circle cx="1448.8" cy="728.8" r="10"/><circle cx="1436.2" cy="736.2" r="10"/><circle cx="1415" cy="740" r="10"/><circle cx="1435" cy="751.2" r="10"/><circle cx="1408.8" cy="757.5" r="10"/></g>
<g fill="#92fa2f"><circle cx="378.8" cy="854.2" r="10"/><circle cx="409.2" cy="852.5" r="10"/><circle cx="400" cy="872" r="10"/><circle cx="365.5" cy="880" r="10"/><circle cx="391.2" cy="883.8" r="10"/><circle cx="425" cy="877.5" r="10"/><circle cx="412.5" cy="901.2" r="10"/></g>
<g fill="#d8367f"><circle cx="457.5" cy="855" r="10"/><circle cx="482.5" cy="852.5" r="10"/><circle cx="471.2" cy="868.8" r="10"/><circle cx="492" cy="873" r="10"/><circle cx="452.5" cy="878.8" r="10"/><circle cx="476.2" cy="888.8" r="10"/><circle cx="505" cy="898.8" r="10"/></g>
<g fill="#b95b66"><circle cx="545" cy="852.5" r="10"/><circle cx="567.5" cy="863.8" r="10"/><circle cx="533.2" cy="873.2" r="10"/><circle cx="555.8" cy="887" r="10"/><circle cx="579.5" cy="900" r="10"/><circle cx="545" cy="910" r="10"/><circle cx="568" cy="920" r="10"/></g>
<g fill="#d8367f"><circle cx="753.8" cy="852.5" r="10"/><circle cx="736.2" cy="867.5" r="10"/><circle cx="775" cy="865" r="10"/><circle cx="764.5" cy="879.2" r="10"/><circle cx="747.5" cy="888.2" r="10"/><circle cx="781.2" cy="895" r="10"/></g>
<g fill="#d8620c"><circle cx="825.8" cy="852.5" r="10"/><circle cx="808.8" cy="872.5" r="10"/><circle cx="845" cy="869.2" r="10"/><circle cx="831.8" cy="885.8" r="10"/><circle cx="868.2" cy="883" r="10"/><circle cx="851.8" cy="902" r="10"/></g>
<g fill="#d8367f"><circle cx="896.8" cy="852.5" r="10"/><circle cx="924.2" cy="865" r="10"/><circle cx="954.2" cy="873.2" r="10"/><circle cx="986.8" cy="875" r="10"/><circle cx="1013.2" cy="860" r="10"/><circle cx="1014.2" cy="887" r="10"/></g>
<g fill="#d8620c"><circle cx="1079.2" cy="852.5" r="10"/><circle cx="1066.8" cy="879.2" r="10"/><circle cx="1042.5" cy="888.8" r="10"/><circle cx="1075" cy="902" r="10"/><circle cx="1051.8" cy="910.5" r="10"/></g>
<g fill="#85803a"><circle cx="1107.5" cy="852.5" r="10"/><circle cx="1120.8" cy="877.5" r="10"/><circle cx="1125" cy="903.8" r="10"/><circle cx="1125" cy="932.5" r="10"/><circle cx="1116" cy="961" r="10"/></g>
<g fill="#cf6a1d"><circle cx="1177.5" cy="852.5" r="10"/><circle cx="1154.5" cy="868" r="10"/><circle cx="1187.5" cy="872.5" r="10"/><circle cx="1177.5" cy="887" r="10"/><circle cx="1154.5" cy="893.8" r="10"/></g>
<g fill="#0e9dd5"><circle cx="1230.8" cy="853.8" r="10"/><circle cx="1261.2" cy="852.5" r="10"/><circle cx="1214.5" cy="876.8" r="10"/><circle cx="1246.2" cy="876.8" r="10"/><circle cx="1264.5" cy="900" r="10"/></g>
<g fill="#d39a14"><circle cx="1311.2" cy="852.5" r="10"/><circle cx="1291.2" cy="860" r="10"/><circle cx="1326.2" cy="870" r="10"/><circle cx="1302" cy="882.5" r="10"/><circle cx="1357.5" cy="873.8" r="10"/></g>
<g fill="#cccccc"><circle cx="1412.5" cy="852.5" r="10"/><circle cx="1438.8" cy="867" r="10"/><circle cx="1411.2" cy="880" r="10"/><circle cx="1385" cy="895" r="10"/><circle cx="1412.5" cy="905" r="10"/></g>
<g fill="#6a9448"><circle cx="340" cy="1023.8" r="10"/><circle cx="370" cy="1038.8" r="10"/><circle cx="398.8" cy="1055" r="10"/><circle cx="431.2" cy="1045.8" r="10"/><circle cx="402.5" cy="1085" r="10"/></g>
<g fill="#85803a"><circle cx="538.8" cy="1024.5" r="10"/><circle cx="516.2" cy="1047.5" r="10"/><circle cx="494.2" cy="1070.8" r="10"/><circle cx="461.2" cy="1079.2" r="10"/><circle cx="485" cy="1098.8" r="10"/></g>
<g fill="#d63a9c"><circle cx="568.8" cy="1024.5" r="10"/><circle cx="596.2" cy="1024.5" r="10"/><circle cx="568.8" cy="1050" r="10"/><circle cx="596.2" cy="1050" r="10"/><circle cx="582.5" cy="1077.5" r="10"/></g>
<g fill="#0e9dd5"><circle cx="633.8" cy="1025" r="10"/><circle cx="658" cy="1023.8" r="10"/><circle cx="626.2" cy="1046.2" r="10"/><circle cx="665.5" cy="1045" r="10"/><circle cx="651.8" cy="1058" r="10"/></g>
<g fill="#0e9dd5"><circle cx="696.2" cy="1024.5" r="10"/><circle cx="726.2" cy="1035.8" r="10"/><circle cx="706.8" cy="1053" r="10"/><circle cx="746.8" cy="1054.2" r="10"/><circle cx="726.2" cy="1072.5" r="10"/></g>
<g fill="#85803a"><circle cx="817" cy="1024.5" r="10"/><circle cx="841.2" cy="1042.5" r="10"/><circle cx="810.8" cy="1055" r="10"/><circle cx="776.8" cy="1057.5" r="10"/><circle cx="826.8" cy="1082.5" r="10"/></g>
<g fill="#cccccc"><circle cx="875.8" cy="1027.5" r="10"/><circle cx="900" cy="1024.5" r="10"/><circle cx="871.2" cy="1048.8" r="10"/><circle cx="910" cy="1043.8" r="10"/><circle cx="893" cy="1060" r="10"/></g>
<g fill="#0e9dd5"><circle cx="939.2" cy="1036.2" r="10"/><circle cx="972.5" cy="1042.5" r="10"/><circle cx="999.2" cy="1024.5" r="10"/><circle cx="989.2" cy="1069.2" r="10"/></g>
<g fill="#d39a14"><circle cx="1060" cy="1025" r="10"/><circle cx="1031.2" cy="1040" r="10"/><circle cx="1059.5" cy="1054.2" r="10"/><circle cx="1030" cy="1068.8" r="10"/></g>
<g fill="#c0576a"><circle cx="1106.2" cy="1025" r="10"/><circle cx="1133.8" cy="1038.8" r="10"/><circle cx="1106.2" cy="1055" r="10"/><circle cx="1090" cy="1081.8" r="10"/></g>
<g fill="#0e9dd5"><circle cx="1169.2" cy="1025" r="10"/><circle cx="1195.5" cy="1043" r="10"/><circle cx="1163.8" cy="1053.8" r="10"/><circle cx="1226.8" cy="1050.8" r="10"/></g>
<g fill="#de6610"><circle cx="1341.2" cy="1025" r="10"/><circle cx="1317.5" cy="1045.5" r="10"/><circle cx="1288.8" cy="1061.8" r="10"/><circle cx="1257.5" cy="1071.2" r="10"/></g>
<g fill="#ae8326"><circle cx="1440.8" cy="1025" r="10"/><circle cx="1414.5" cy="1043" r="10"/><circle cx="1391.2" cy="1065" r="10"/><circle cx="1372" cy="1087.5" r="10"/></g>
<g fill="#b3831f"><circle cx="1496.2" cy="1025" r="10"/><circle cx="1471.2" cy="1038.8" r="10"/><circle cx="1508.2" cy="1047.5" r="10"/><circle cx="1488.2" cy="1058.8" r="10"/></g>
<g fill="#0e9dd5"><circle cx="360" cy="1128.8" r="10"/><circle cx="340" cy="1145" r="10"/><circle cx="379.5" cy="1145" r="10"/><circle cx="360" cy="1162" r="10"/></g>
<g fill="#d8620c"><circle cx="421.2" cy="1127.5" r="10"/><circle cx="447" cy="1137.5" r="10"/><circle cx="410" cy="1150" r="10"/><circle cx="435" cy="1160" r="10"/></g>
<g fill="#d39a14"><circle cx="501.2" cy="1127.5" r="10"/><circle cx="477" cy="1140" r="10"/><circle cx="516.2" cy="1148.8" r="10"/><circle cx="491.2" cy="1161.2" r="10"/></g>
<g fill="#b07f22"><circle cx="565" cy="1127.5" r="10"/><circle cx="545" cy="1145" r="10"/><circle cx="585" cy="1145" r="10"/><circle cx="565" cy="1162" r="10"/></g>
<g fill="#c0576a"><circle cx="635" cy="1126.8" r="10"/><circle cx="615" cy="1145.5" r="10"/><circle cx="655.5" cy="1145.5" r="10"/><circle cx="635" cy="1163" r="10"/></g>
<g fill="#85803a"><circle cx="686.2" cy="1128" r="10"/><circle cx="713.8" cy="1126.8" r="10"/><circle cx="686.2" cy="1153.8" r="10"/><circle cx="713.8" cy="1152.5" r="10"/></g>
<g fill="#c0576a"><circle cx="749.5" cy="1126.8" r="10"/><circle cx="775.8" cy="1145.5" r="10"/><circle cx="744.5" cy="1156.2" r="10"/><circle cx="807" cy="1153.8" r="10"/></g>
<g fill="#ccff00"><circle cx="852" cy="1126.8" r="10"/><circle cx="876.2" cy="1140" r="10"/><circle cx="837.5" cy="1149.2" r="10"/><circle cx="862" cy="1162" r="10"/></g>
<g fill="#8b6f47"><circle cx="961.2" cy="1126.8" r="10"/><circle cx="938" cy="1148.8" r="10"/><circle cx="970.8" cy="1156.2" r="10"/><circle cx="906.2" cy="1157.5" r="10"/></g>
<g fill="#b07f22"><circle cx="1020.5" cy="1126.8" r="10"/><circle cx="1000.5" cy="1145.5" r="10"/><circle cx="1040" cy="1145.5" r="10"/><circle cx="1020.5" cy="1163" r="10"/></g>
<g fill="#d39a14"><circle cx="1116.2" cy="1127" r="10"/><circle cx="1098.8" cy="1154.2" r="10"/><circle cx="1071.2" cy="1168.8" r="10"/><circle cx="1098.2" cy="1183.8" r="10"/></g>
<g fill="#85803a"><circle cx="1147.5" cy="1127.5" r="10"/><circle cx="1178.2" cy="1133" r="10"/><circle cx="1157.5" cy="1155" r="10"/></g>
<g fill="#c8921c"><circle cx="1209.5" cy="1127.5" r="10"/><circle cx="1240" cy="1133" r="10"/><circle cx="1220" cy="1155" r="10"/></g>
<g fill="#0f9a98"><circle cx="1270.8" cy="1127.5" r="10"/><circle cx="1302.5" cy="1132.5" r="10"/><circle cx="1282.5" cy="1155" r="10"/></g>
<g fill="#0f9a98"><circle cx="1333.8" cy="1127.5" r="10"/><circle cx="1365" cy="1132.5" r="10"/><circle cx="1344.5" cy="1155" r="10"/></g>
<g fill="#b3831f"><circle cx="1395" cy="1127.5" r="10"/><circle cx="1426.2" cy="1137.5" r="10"/><circle cx="1400.8" cy="1155" r="10"/></g>
<g fill="#c9566f"><circle cx="1457" cy="1127.5" r="10"/><circle cx="1477" cy="1151.2" r="10"/><circle cx="1493.2" cy="1176.2" r="10"/></g>
<g fill="#0e9dd5"><circle cx="340.5" cy="1211.2" r="10"/><circle cx="370.8" cy="1221.8" r="10"/><circle cx="345" cy="1240" r="10"/></g>
<g fill="#85803a"><circle cx="400.8" cy="1211.2" r="10"/><circle cx="427.5" cy="1228.8" r="10"/><circle cx="453" cy="1247" r="10"/></g>
<g fill="#0e9dd5"><circle cx="483.2" cy="1211.2" r="10"/><circle cx="515.8" cy="1217.5" r="10"/><circle cx="494.2" cy="1239.2" r="10"/></g>
<g fill="#ae7c24"><circle cx="546.2" cy="1211.2" r="10"/><circle cx="576.2" cy="1221.8" r="10"/><circle cx="550" cy="1240.5" r="10"/></g>
<g fill="#cccccc"><circle cx="606.2" cy="1211.2" r="10"/><circle cx="632.5" cy="1228.8" r="10"/><circle cx="658.2" cy="1247" r="10"/></g>
<g fill="#d4447a"><circle cx="688.2" cy="1211.2" r="10"/><circle cx="720" cy="1217.5" r="10"/><circle cx="699.2" cy="1239.2" r="10"/></g>
<g fill="#85803a"><circle cx="750.8" cy="1211.2" r="10"/><circle cx="770.8" cy="1235" r="10"/><circle cx="787.5" cy="1260.5" r="10"/></g>
<g fill="#ccff00"><circle cx="817.5" cy="1211.2" r="10"/><circle cx="837.5" cy="1235" r="10"/><circle cx="854.2" cy="1260.5" r="10"/></g>
<g fill="#0f9a98"><circle cx="884.2" cy="1211.2" r="10"/><circle cx="904.2" cy="1235" r="10"/><circle cx="921.2" cy="1260.5" r="10"/></g>
<g fill="#ae7c24"><circle cx="951.2" cy="1211.2" r="10"/><circle cx="983.2" cy="1216.8" r="10"/><circle cx="961.2" cy="1239.2" r="10"/></g>
<g fill="#de3584"><circle cx="1013.2" cy="1211.2" r="10"/><circle cx="1043.8" cy="1221.2" r="10"/><circle cx="1018.2" cy="1240" r="10"/></g>
<g fill="#0e9dd5"><circle cx="1074.2" cy="1211.2" r="10"/><circle cx="1100.5" cy="1228.8" r="10"/><circle cx="1126.2" cy="1247" r="10"/></g>
<g fill="#0f9a98"><circle cx="1156.2" cy="1211.2" r="10"/><circle cx="1177.5" cy="1233.8" r="10"/><circle cx="1200" cy="1255" r="10"/></g>
<g fill="#cccccc"><circle cx="1230" cy="1211.2" r="10"/><circle cx="1262.5" cy="1216.8" r="10"/><circle cx="1241.2" cy="1239.2" r="10"/></g>
<g fill="#0e9dd5"><circle cx="1292.5" cy="1211.2" r="10"/><circle cx="1324.5" cy="1216.8" r="10"/><circle cx="1303.8" cy="1239.2" r="10"/></g>
<g fill="#cccccc"><circle cx="1355" cy="1211.2" r="10"/><circle cx="1385" cy="1221.8" r="10"/><circle cx="1360" cy="1240.5" r="10"/></g>
<g fill="#0e9dd5"><circle cx="1415.8" cy="1211.2" r="10"/><circle cx="1437" cy="1233.8" r="10"/><circle cx="1460" cy="1255" r="10"/></g>
<g fill="#c845ab"><circle cx="340" cy="1288" r="10"/><circle cx="371.8" cy="1293.2" r="10"/><circle cx="350.8" cy="1316.2" r="10"/></g>
<g fill="#0e9dd5"><circle cx="402.5" cy="1288" r="10"/><circle cx="423.8" cy="1310.5" r="10"/><circle cx="446.8" cy="1332" r="10"/></g>
<g fill="#0e9dd5"><circle cx="476.2" cy="1288" r="10"/><circle cx="507" cy="1298.8" r="10"/><circle cx="481.2" cy="1317.5" r="10"/></g>
<g fill="#c0576a"><circle cx="537.5" cy="1288" r="10"/><circle cx="567.5" cy="1298.8" r="10"/><circle cx="542.5" cy="1317.5" r="10"/></g>
<g fill="#0e9dd5"><circle cx="598.2" cy="1288" r="10"/><circle cx="628.8" cy="1298.8" r="10"/><circle cx="602.5" cy="1317.5" r="10"/></g>
<g fill="#b0b014"><circle cx="658.8" cy="1288" r="10"/><circle cx="678.8" cy="1312.5" r="10"/><circle cx="695" cy="1337.5" r="10"/></g>
<g fill="#9fb21a"><circle cx="725" cy="1288" r="10"/><circle cx="757.5" cy="1293.2" r="10"/><circle cx="736.2" cy="1316.2" r="10"/></g>
<g fill="#7c6bb8"><circle cx="787.5" cy="1288" r="10"/><circle cx="809.2" cy="1310.5" r="10"/><circle cx="831.8" cy="1332" r="10"/></g>
<g fill="#7c6bb8"><circle cx="861.2" cy="1288" r="10"/><circle cx="892.5" cy="1298.8" r="10"/><circle cx="867" cy="1317.5" r="10"/></g>
<g fill="#85803a"><circle cx="922.5" cy="1288" r="10"/><circle cx="943.8" cy="1310.5" r="10"/><circle cx="966.2" cy="1332" r="10"/></g>
<g fill="#0e9dd5"><circle cx="996.2" cy="1288" r="10"/><circle cx="1027" cy="1298.8" r="10"/><circle cx="1001.2" cy="1317.5" r="10"/></g>
<g fill="#e2a30c"><circle cx="1057" cy="1288" r="10"/><circle cx="1084.5" cy="1305" r="10"/><circle cx="1109.2" cy="1324.5" r="10"/></g>
<g fill="#85803a"><circle cx="1139.2" cy="1288" r="10"/><circle cx="1160.8" cy="1310.5" r="10"/><circle cx="1183.2" cy="1332" r="10"/></g>
<g fill="#9a7845"><circle cx="1213.8" cy="1288" r="10"/><circle cx="1245.8" cy="1293.2" r="10"/><circle cx="1224.5" cy="1316.2" r="10"/></g>
<g fill="#c0576a"><circle cx="1275.8" cy="1288" r="10"/><circle cx="1307.5" cy="1293.2" r="10"/><circle cx="1286.8" cy="1316.2" r="10"/></g>
<g fill="#8a62b0"><circle cx="1338.2" cy="1288" r="10"/><circle cx="1368.2" cy="1298.8" r="10"/><circle cx="1343.2" cy="1317.5" r="10"/></g>
<g fill="#85902f"><circle cx="1399.2" cy="1288" r="10"/><circle cx="1431.2" cy="1293.2" r="10"/><circle cx="1410" cy="1316.2" r="10"/></g>
<g fill="#0e9dd5"><circle cx="1461.8" cy="1288" r="10"/><circle cx="1461.8" cy="1318" r="10"/></g>
<circle cx="676.6" cy="731.5" r="20" fill="#cccccc"/><g fill="#cccccc"><circle cx="695.5" cy="735.3" r="10"/><circle cx="689.6" cy="745.7" r="10"/><circle cx="678.8" cy="750.7" r="10"/><circle cx="667.1" cy="748.3" r="10"/><circle cx="659" cy="739.5" r="10"/><circle cx="657.7" cy="727.7" r="10"/><circle cx="663.6" cy="717.3" r="10"/><circle cx="674.4" cy="712.3" r="10"/><circle cx="686.1" cy="714.7" r="10"/><circle cx="694.2" cy="723.5" r="10"/></g><circle cx="676.6" cy="731.5" r="9.6" fill="none" stroke="#8c8c8c" stroke-width="1.1"/>
<g fill="#cccccc"><circle cx="977.2" cy="713.5" r="10"/><circle cx="989.6" cy="721.1" r="10"/><circle cx="991.4" cy="735.6" r="10"/><circle cx="981.2" cy="746" r="10"/><circle cx="966.7" cy="744.5" r="10"/><circle cx="958.8" cy="732.3" r="10"/><circle cx="963.5" cy="718.5" r="10"/><circle cx="947.3" cy="764.1" r="10"/><circle cx="924.7" cy="784.2" r="10"/></g>
<g fill="#85803a"><circle cx="626.4" cy="852.1" r="10"/><circle cx="638" cy="856.3" r="10"/><circle cx="644.1" cy="867" r="10"/><circle cx="642" cy="879.1" r="10"/><circle cx="632.6" cy="887" r="10"/><circle cx="620.2" cy="887" r="10"/><circle cx="610.8" cy="879.1" r="10"/><circle cx="608.7" cy="867" r="10"/><circle cx="614.8" cy="856.3" r="10"/></g>
<g fill="#85803a"><circle cx="690.4" cy="852.9" r="10"/><circle cx="702.6" cy="857.9" r="10"/><circle cx="707.6" cy="870.1" r="10"/><circle cx="702.6" cy="882.3" r="10"/><circle cx="690.4" cy="887.3" r="10"/><circle cx="678.2" cy="882.3" r="10"/><circle cx="673.2" cy="870.1" r="10"/><circle cx="678.2" cy="857.9" r="10"/></g>
<g fill="#d8620c"><circle cx="341.1" cy="1365.1" r="10"/><circle cx="341.1" cy="1394.6" r="10"/><circle cx="870.5" cy="1365.1" r="10"/><circle cx="870.5" cy="1394.6" r="10"/></g>
<g fill="#cf6a14"><circle cx="372.2" cy="1365.1" r="10"/><circle cx="372.2" cy="1394.6" r="10"/></g>
<g fill="#0e9dd5"><circle cx="403.4" cy="1365.1" r="10"/><circle cx="403.4" cy="1394.6" r="10"/><circle cx="496.8" cy="1365.1" r="10"/><circle cx="496.8" cy="1394.6" r="10"/><circle cx="621.4" cy="1365.1" r="10"/><circle cx="621.4" cy="1394.6" r="10"/><circle cx="745.9" cy="1365.1" r="10"/><circle cx="745.9" cy="1394.6" r="10"/><circle cx="777.1" cy="1365.1" r="10"/><circle cx="777.1" cy="1394.6" r="10"/><circle cx="1057.3" cy="1365.1" r="10"/><circle cx="1057.3" cy="1394.6" r="10"/><circle cx="1244.2" cy="1365.1" r="10"/><circle cx="1244.2" cy="1394.6" r="10"/></g>
<g fill="#cccccc"><circle cx="434.5" cy="1365.1" r="10"/><circle cx="434.5" cy="1394.6" r="10"/><circle cx="652.5" cy="1365.1" r="10"/><circle cx="652.5" cy="1394.6" r="10"/><circle cx="932.8" cy="1365.1" r="10"/><circle cx="932.8" cy="1394.6" r="10"/><circle cx="1088.5" cy="1365.1" r="10"/><circle cx="1088.5" cy="1394.6" r="10"/></g>
<g fill="#986a88"><circle cx="465.7" cy="1365.1" r="10"/><circle cx="465.7" cy="1394.6" r="10"/></g>
<g fill="#b07f22"><circle cx="527.9" cy="1365.1" r="10"/><circle cx="527.9" cy="1394.6" r="10"/><circle cx="808.2" cy="1365.1" r="10"/><circle cx="808.2" cy="1394.6" r="10"/></g>
<g fill="#e8aa0a"><circle cx="559.1" cy="1365.1" r="10"/><circle cx="559.1" cy="1394.6" r="10"/></g>
<g fill="#85803a"><circle cx="590.2" cy="1365.1" r="10"/><circle cx="590.2" cy="1394.6" r="10"/><circle cx="683.6" cy="1365.1" r="10"/><circle cx="683.6" cy="1394.6" r="10"/></g>
<g fill="#62a522"><circle cx="714.8" cy="1365.1" r="10"/><circle cx="714.8" cy="1394.6" r="10"/></g>
<g fill="#e7298a"><circle cx="839.3" cy="1365.1" r="10"/><circle cx="839.3" cy="1394.6" r="10"/></g>
<g fill="#a8665a"><circle cx="901.6" cy="1365.1" r="10"/><circle cx="901.6" cy="1394.6" r="10"/></g>
<g fill="#c98d16"><circle cx="963.9" cy="1365.1" r="10"/><circle cx="963.9" cy="1394.6" r="10"/></g>
<g fill="#d0487a"><circle cx="995" cy="1365.1" r="10"/><circle cx="995" cy="1394.6" r="10"/></g>
<g fill="#648b48"><circle cx="1026.2" cy="1365.1" r="10"/><circle cx="1026.2" cy="1394.6" r="10"/></g>
<g fill="#9bfb35"><circle cx="1119.6" cy="1365.1" r="10"/><circle cx="1119.6" cy="1394.6" r="10"/></g>
<g fill="#0f9a98"><circle cx="1150.7" cy="1365.1" r="10"/><circle cx="1150.7" cy="1394.6" r="10"/><circle cx="1275.3" cy="1365.1" r="10"/><circle cx="1275.3" cy="1394.6" r="10"/><circle cx="1462.1" cy="1365.1" r="10"/><circle cx="1462.1" cy="1394.6" r="10"/></g>
<g fill="#c0a812"><circle cx="1181.9" cy="1365.1" r="10"/><circle cx="1181.9" cy="1394.6" r="10"/></g>
<g fill="#22a078"><circle cx="1213" cy="1365.1" r="10"/><circle cx="1213" cy="1394.6" r="10"/></g>
<g fill="#b26a55"><circle cx="1306.4" cy="1365.1" r="10"/><circle cx="1306.4" cy="1394.6" r="10"/><circle cx="1368.7" cy="1365.1" r="10"/><circle cx="1368.7" cy="1394.6" r="10"/></g>
<g fill="#ae7c20"><circle cx="1337.6" cy="1365.1" r="10"/><circle cx="1337.6" cy="1394.6" r="10"/></g>
<g fill="#d43a9a"><circle cx="1399.9" cy="1365.1" r="10"/><circle cx="1399.9" cy="1394.6" r="10"/></g>
<g fill="#a953a3"><circle cx="1431" cy="1365.1" r="10"/><circle cx="1431" cy="1394.6" r="10"/></g>
<g fill="#7a6bb5"><circle cx="341.1" cy="1422" r="10"/><circle cx="341.1" cy="1451.1" r="10"/><circle cx="621.4" cy="1422" r="10"/><circle cx="621.4" cy="1451.1" r="10"/></g>
<g fill="#cccccc"><circle cx="372.2" cy="1422" r="10"/><circle cx="372.2" cy="1451.1" r="10"/><circle cx="683.6" cy="1422" r="10"/><circle cx="683.6" cy="1451.1" r="10"/><circle cx="1244.2" cy="1422" r="10"/><circle cx="1244.2" cy="1451.1" r="10"/></g>
<g fill="#b26a55"><circle cx="403.4" cy="1422" r="10"/><circle cx="403.4" cy="1451.1" r="10"/></g>
<g fill="#0e9dd5"><circle cx="434.5" cy="1422" r="10"/><circle cx="434.5" cy="1451.1" r="10"/><circle cx="527.9" cy="1422" r="10"/><circle cx="527.9" cy="1451.1" r="10"/><circle cx="652.5" cy="1422" r="10"/><circle cx="652.5" cy="1451.1" r="10"/><circle cx="870.5" cy="1422" r="10"/><circle cx="870.5" cy="1451.1" r="10"/><circle cx="901.6" cy="1422" r="10"/><circle cx="901.6" cy="1451.1" r="10"/><circle cx="963.9" cy="1422" r="10"/><circle cx="963.9" cy="1451.1" r="10"/><circle cx="1026.2" cy="1422" r="10"/><circle cx="1026.2" cy="1451.1" r="10"/><circle cx="1057.3" cy="1422" r="10"/><circle cx="1057.3" cy="1451.1" r="10"/><circle cx="1368.7" cy="1422" r="10"/><circle cx="1368.7" cy="1451.1" r="10"/><circle cx="1462.1" cy="1422" r="10"/><circle cx="1462.1" cy="1451.1" r="10"/></g>
<g fill="#c98d16"><circle cx="465.7" cy="1422" r="10"/><circle cx="465.7" cy="1451.1" r="10"/></g>
<g fill="#6f932b"><circle cx="496.8" cy="1422" r="10"/><circle cx="496.8" cy="1451.1" r="10"/></g>
<g fill="#479660"><circle cx="559.1" cy="1422" r="10"/><circle cx="559.1" cy="1451.1" r="10"/></g>
<g fill="#0f9a98"><circle cx="590.2" cy="1422" r="10"/><circle cx="590.2" cy="1451.1" r="10"/><circle cx="745.9" cy="1422" r="10"/><circle cx="745.9" cy="1451.1" r="10"/><circle cx="808.2" cy="1422" r="10"/><circle cx="808.2" cy="1451.1" r="10"/><circle cx="1275.3" cy="1422" r="10"/><circle cx="1275.3" cy="1451.1" r="10"/><circle cx="1306.4" cy="1422" r="10"/><circle cx="1306.4" cy="1451.1" r="10"/></g>
<g fill="#85803a"><circle cx="714.8" cy="1422" r="10"/><circle cx="714.8" cy="1451.1" r="10"/><circle cx="1150.7" cy="1422" r="10"/><circle cx="1150.7" cy="1451.1" r="10"/><circle cx="1399.9" cy="1422" r="10"/><circle cx="1399.9" cy="1451.1" r="10"/><circle cx="1431" cy="1422" r="10"/><circle cx="1431" cy="1451.1" r="10"/></g>
<g fill="#9c58a8"><circle cx="777.1" cy="1422" r="10"/><circle cx="777.1" cy="1451.1" r="10"/></g>
<g fill="#ccff00"><circle cx="839.3" cy="1422" r="10"/><circle cx="839.3" cy="1451.1" r="10"/></g>
<g fill="#e2aa0a"><circle cx="932.8" cy="1422" r="10"/><circle cx="932.8" cy="1451.1" r="10"/></g>
<g fill="#dc9e10"><circle cx="995" cy="1422" r="10"/><circle cx="995" cy="1451.1" r="10"/></g>
<g fill="#2e9b6e"><circle cx="1088.5" cy="1422" r="10"/><circle cx="1088.5" cy="1451.1" r="10"/></g>
<g fill="#d8620c"><circle cx="1119.6" cy="1422" r="10"/><circle cx="1119.6" cy="1451.1" r="10"/></g>
<g fill="#e7298a"><circle cx="1181.9" cy="1422" r="10"/><circle cx="1181.9" cy="1451.1" r="10"/></g>
<g fill="#fdfccc"><circle cx="1213" cy="1422" r="10"/><circle cx="1213" cy="1451.1" r="10"/></g>
<g fill="#a8666a"><circle cx="1337.6" cy="1422" r="10"/><circle cx="1337.6" cy="1451.1" r="10"/></g>
<g fill="#0e9dd5"><circle cx="341.1" cy="1479" r="10"/><circle cx="341.1" cy="1508.4" r="10"/><circle cx="652.5" cy="1479" r="10"/><circle cx="652.5" cy="1508.4" r="10"/><circle cx="683.6" cy="1479" r="10"/><circle cx="683.6" cy="1508.4" r="10"/></g>
<g fill="#86a61a"><circle cx="372.2" cy="1479" r="10"/><circle cx="372.2" cy="1508.4" r="10"/></g>
<g fill="#d4a70e"><circle cx="403.4" cy="1479" r="10"/><circle cx="403.4" cy="1508.4" r="10"/></g>
<g fill="#cccccc"><circle cx="434.5" cy="1479" r="10"/><circle cx="434.5" cy="1508.4" r="10"/></g>
<g fill="#b26a55"><circle cx="465.7" cy="1479" r="10"/><circle cx="465.7" cy="1508.4" r="10"/></g>
<g fill="#ccff00"><circle cx="496.8" cy="1479" r="10"/><circle cx="496.8" cy="1508.4" r="10"/></g>
<g fill="#8a62b0"><circle cx="527.9" cy="1479" r="10"/><circle cx="527.9" cy="1508.4" r="10"/></g>
<g fill="#c0a812"><circle cx="559.1" cy="1479" r="10"/><circle cx="559.1" cy="1508.4" r="10"/></g>
<g fill="#c6439a"><circle cx="590.2" cy="1479" r="10"/><circle cx="590.2" cy="1508.4" r="10"/></g>
<g fill="#afa914"><circle cx="621.4" cy="1479" r="10"/><circle cx="621.4" cy="1508.4" r="10"/></g>
<g fill="#0f9a98"><circle cx="714.8" cy="1479" r="10"/><circle cx="714.8" cy="1508.4" r="10"/><circle cx="777.1" cy="1479" r="10"/><circle cx="777.1" cy="1508.4" r="10"/></g>
<g fill="#d8620c"><circle cx="745.9" cy="1479" r="10"/><circle cx="745.9" cy="1508.4" r="10"/></g>
</g>
</g>
<ellipse class="el" cx="465" cy="308.8" rx="183.8" ry="241"/>
<ellipse class="el" cx="1389.4" cy="155" rx="110.6" ry="95.8"/>
<ellipse class="el" cx="676.5" cy="730.4" rx="37.3" ry="39"/>
<ellipse class="el" cx="816.5" cy="732.2" rx="102" ry="84.7"/>
<ellipse class="el" cx="566" cy="771" rx="123" ry="42" transform="rotate(38 566 771)"/>
<ellipse class="el" cx="1108.5" cy="921" rx="26.5" ry="99"/>
<ellipse class="el" cx="380" cy="1060" rx="62" ry="60.6"/>
<ellipse class="el" cx="1187.5" cy="1047" rx="52.5" ry="47.8"/>
<ellipse class="el" cx="1416.8" cy="1048.8" rx="82" ry="22" transform="rotate(-41 1416.8 1048.8)"/>
<ellipse class="el" cx="350.9" cy="1289.6" rx="52" ry="47"/>
<text class="sa" x="1321" y="38" font-size="44" textLength="246" lengthAdjust="spacingAndGlyphs" xml:space="preserve">Diterpenoids</text>
<text class="se" x="5" y="267" font-size="45" textLength="237.5" lengthAdjust="spacingAndGlyphs" xml:space="preserve">Triterpenoids</text>
<text class="sa" x="500.5" y="226.3" font-size="40" xml:space="preserve">A</text>
<text class="sa" x="1409" y="146" font-size="38" xml:space="preserve">B</text>
<text class="sa" x="93.5" y="677.5" font-size="37" textLength="334.5" lengthAdjust="spacingAndGlyphs" xml:space="preserve">Hydroxycoumarins</text>
<text class="sa" x="654.5" y="679" font-size="38.5" textLength="113.5" lengthAdjust="spacingAndGlyphs" xml:space="preserve">Blank</text>
<text class="sa" x="863.5" y="678" font-size="42.6" textLength="496.5" lengthAdjust="spacingAndGlyphs" xml:space="preserve">Alkaloids and  derivatives</text>
<text class="sa" x="809" y="714.5" font-size="38" xml:space="preserve">D</text>
<text class="sa" x="529" y="727" font-size="39" xml:space="preserve">H</text>
<text class="sa" x="874" y="825" font-size="38.4" textLength="677" lengthAdjust="spacingAndGlyphs" xml:space="preserve">Amino acids, peptides, and analogues</text>
<text class="sa" x="1089.5" y="925" font-size="37" xml:space="preserve">E</text>
<text class="sa" x="1177.5" y="926" font-size="37" textLength="320.5" lengthAdjust="spacingAndGlyphs" xml:space="preserve">Pregnane steroids</text>
<text class="sa" x="226" y="969.2" font-size="38.4" textLength="132" lengthAdjust="spacingAndGlyphs" xml:space="preserve">Amines</text>
<text class="sa" x="358.5" y="1095.5" font-size="38" xml:space="preserve">F</text>
<text class="sa" x="1199.5" y="977" font-size="39" xml:space="preserve">I</text>
<text class="sa" x="1406" y="984.5" font-size="39" xml:space="preserve">G</text>
<text class="sa" x="1269.5" y="1113" font-size="37.4" textLength="340.5" lengthAdjust="spacingAndGlyphs" xml:space="preserve">Hydroxy fatty acids</text>
<text class="sa" x="291" y="1248.8" font-size="38" xml:space="preserve">C</text>
<text class="sa" x="11" y="1298" font-size="38.4" textLength="273.5" lengthAdjust="spacingAndGlyphs" xml:space="preserve">Fatty acid ester</text>
<rect class="sw" x="1959.5" y="58.7" width="37.5" height="18" fill="#1b9e77"/>
<text class="lg" x="1636.6" y="74.2" textLength="116.4" lengthAdjust="spacingAndGlyphs" xml:space="preserve">1,2-dioxanes</text>
<rect class="sw" x="1959.5" y="99.8" width="37.5" height="18" fill="#339668"/>
<text class="lg" x="1636.6" y="115.3" textLength="133.4" lengthAdjust="spacingAndGlyphs" xml:space="preserve">1-benzopyrans</text>
<rect class="sw" x="1959.5" y="140.8" width="37.5" height="18" fill="#4c8e59"/>
<text class="lg" x="1636.6" y="156.3" textLength="272" lengthAdjust="spacingAndGlyphs" xml:space="preserve">Aloperine and related alkaloids</text>
<rect class="sw" x="1959.5" y="181.9" width="37.5" height="18" fill="#64864a"/>
<text class="lg" x="1636.6" y="197.4" textLength="62.4" lengthAdjust="spacingAndGlyphs" xml:space="preserve">Amines</text>
<rect class="sw" x="1959.5" y="222.9" width="37.5" height="18" fill="#7c7e3b"/>
<text class="lg" x="1636.6" y="238.4" textLength="304.9" lengthAdjust="spacingAndGlyphs" xml:space="preserve">Amino acids, peptides, and anal...</text>
<rect class="sw" x="1959.5" y="263.9" width="37.5" height="18" fill="#94762c"/>
<text class="lg" x="1636.6" y="279.4" textLength="161.8" lengthAdjust="spacingAndGlyphs" xml:space="preserve">Azoxy compounds</text>
<rect class="sw" x="1959.5" y="305" width="37.5" height="18" fill="#ad6e1d"/>
<text class="lg" x="1636.6" y="320.5" textLength="169.5" lengthAdjust="spacingAndGlyphs" xml:space="preserve">Benzylisoquinolines</text>
<rect class="sw" x="1959.5" y="346" width="37.5" height="18" fill="#c5660e"/>
<text class="lg" x="1636.6" y="361.5" textLength="307.8" lengthAdjust="spacingAndGlyphs" xml:space="preserve">Bile acids, alcohols and derivatives</text>
<rect class="sw" x="1959.5" y="387" width="37.5" height="18" fill="#d75f06"/>
<text class="lg" x="1636.6" y="402.5" textLength="310.8" lengthAdjust="spacingAndGlyphs" xml:space="preserve">Carbohydrates and carbohydrat...</text>
<rect class="sw" x="1959.5" y="428" width="37.5" height="18" fill="#ca621c"/>
<text class="lg" x="1636.6" y="443.5" textLength="238.3" lengthAdjust="spacingAndGlyphs" xml:space="preserve">Carboxylic acid derivatives</text>
<rect class="sw" x="1959.5" y="469" width="37.5" height="18" fill="#bd6433"/>
<text class="lg" x="1636.6" y="484.5" textLength="146.6" lengthAdjust="spacingAndGlyphs" xml:space="preserve">Chaetoglobosins</text>
<rect class="sw" x="1959.5" y="510" width="37.5" height="18" fill="#b1664a"/>
<text class="lg" x="1636.6" y="525.5" textLength="176.8" lengthAdjust="spacingAndGlyphs" xml:space="preserve">Cholestane steroids</text>
<rect class="sw" x="1959.5" y="551" width="37.5" height="18" fill="#a46860"/>
<text class="lg" x="1636.6" y="566.5" textLength="214" lengthAdjust="spacingAndGlyphs" xml:space="preserve">Cytisine and derivatives</text>
<rect class="sw" x="1959.5" y="591.5" width="37.5" height="18" fill="#976a77"/>
<text class="lg" x="1636.6" y="607" textLength="124.9" lengthAdjust="spacingAndGlyphs" xml:space="preserve">Depsipeptides</text>
<rect class="sw" x="1959.5" y="632.5" width="37.5" height="18" fill="#8a6c8d"/>
<text class="lg" x="1636.6" y="648" textLength="301.4" lengthAdjust="spacingAndGlyphs" xml:space="preserve">Dicarboxylic acids and derivatives</text>
<rect class="sw" x="1959.5" y="673.5" width="37.5" height="18" fill="#7e6fa4"/>
<text class="lg" x="1636.6" y="689" textLength="134.3" lengthAdjust="spacingAndGlyphs" xml:space="preserve">Diphenylethers</text>
<rect class="sw" x="1959.5" y="714.6" width="37.5" height="18" fill="#7a6db1"/>
<text class="lg" x="1636.6" y="730.1" textLength="140.1" lengthAdjust="spacingAndGlyphs" xml:space="preserve">Diradylglycerols</text>
<rect class="sw" x="1959.5" y="755.3" width="37.5" height="18" fill="#8864ac"/>
<text class="lg" x="1636.6" y="770.8" textLength="112.3" lengthAdjust="spacingAndGlyphs" xml:space="preserve">Diterpenoids</text>
<rect class="sw" x="1959.5" y="792.9" width="37.5" height="18" fill="#975ba7"/>
<text class="lg" x="1633" y="808.4" textLength="104" lengthAdjust="spacingAndGlyphs" xml:space="preserve">Eicosanoids</text>
<rect class="sw" x="1959.5" y="833.9" width="37.5" height="18" fill="#a652a2"/>
<text class="lg" x="1633" y="849.4" textLength="58.6" lengthAdjust="spacingAndGlyphs" xml:space="preserve">Ethers</text>
<rect class="sw" x="1959.5" y="875.8" width="37.5" height="18" fill="#b4499c"/>
<text class="lg" x="1633" y="891.3" textLength="153" lengthAdjust="spacingAndGlyphs" xml:space="preserve">Fatty acid esters</text>
<rect class="sw" x="1959.5" y="918" width="37.5" height="18" fill="#c34097"/>
<text class="lg" x="1633" y="933.5" textLength="245.4" lengthAdjust="spacingAndGlyphs" xml:space="preserve">Fatty acids and conjugates</text>
<rect class="sw" x="1959.5" y="960.3" width="37.5" height="18" fill="#d13792"/>
<text class="lg" x="1633" y="975.8" textLength="188.8" lengthAdjust="spacingAndGlyphs" xml:space="preserve">Fatty acyl glycosides</text>
<rect class="sw" x="1959.5" y="1002.5" width="37.5" height="18" fill="#e02e8d"/>
<text class="lg" x="1633" y="1018" textLength="126" lengthAdjust="spacingAndGlyphs" xml:space="preserve">Fatty alcohols</text>
<rect class="sw" x="1959.5" y="1044.7" width="37.5" height="18" fill="#df3183"/>
<text class="lg" x="1633" y="1060.2" textLength="185.3" lengthAdjust="spacingAndGlyphs" xml:space="preserve">Flavonoid glycosides</text>
<rect class="sw" x="1959.5" y="1086.9" width="37.5" height="18" fill="#ce4175"/>
<text class="lg" x="1633" y="1102.4" textLength="173.6" lengthAdjust="spacingAndGlyphs" xml:space="preserve">Glycerophosphates</text>
<rect class="sw" x="1959.5" y="1128.5" width="37.5" height="18" fill="#be5168"/>
<text class="lg" x="1633" y="1144" textLength="217" lengthAdjust="spacingAndGlyphs" xml:space="preserve">Glycerophosphocholines</text>
<rect class="sw" x="1959.5" y="1170.8" width="37.5" height="18" fill="#ad615a"/>
<text class="lg" x="1633" y="1186.3" textLength="275.3" lengthAdjust="spacingAndGlyphs" xml:space="preserve">Glycerophosphoethanolamines</text>
<rect class="sw" x="1959.5" y="1213" width="37.5" height="18" fill="#9d714c"/>
<text class="lg" x="1633" y="1228.5" textLength="224.3" lengthAdjust="spacingAndGlyphs" xml:space="preserve">Glycerophosphoglycerols</text>
<rect class="sw" x="1959.5" y="1255" width="37.5" height="18" fill="#8c813e"/>
<text class="lg" x="1633" y="1270.5" textLength="153" lengthAdjust="spacingAndGlyphs" xml:space="preserve">Glycosylglycerols</text>
<rect class="sw" x="1959.5" y="1297" width="37.5" height="18" fill="#7c9130"/>
<text class="lg" x="1633" y="1312.5" textLength="141.3" lengthAdjust="spacingAndGlyphs" xml:space="preserve">Hybrid peptides</text>
<rect class="sw" x="1959.5" y="1339" width="37.5" height="18" fill="#6ba123"/>
<text class="lg" x="1633" y="1354.5" textLength="315.7" lengthAdjust="spacingAndGlyphs" xml:space="preserve">Hydroxycinnamic acids and deriv...</text>
<rect class="sw" x="1959.5" y="1381.3" width="37.5" height="18" fill="#71a61c"/>
<text class="lg" x="1633" y="1396.8" textLength="168.6" lengthAdjust="spacingAndGlyphs" xml:space="preserve">Hydroxycoumarins</text>
<rect class="sw" x="1959.5" y="1423.5" width="37.5" height="18" fill="#81a718"/>
<text class="lg" x="1633" y="1439" textLength="105.5" lengthAdjust="spacingAndGlyphs" xml:space="preserve">Isoindolines</text>
<rect class="sw" x="1959.5" y="1465.7" width="37.5" height="18" fill="#92a814"/>
<text class="lg" x="1633" y="1481.2" textLength="149.2" lengthAdjust="spacingAndGlyphs" xml:space="preserve">Methoxyphenols</text>
<rect class="sw" x="1959.5" y="1507.7" width="37.5" height="18" fill="#a2a811"/>
<text class="lg" x="1633" y="1523.2" textLength="145.1" lengthAdjust="spacingAndGlyphs" xml:space="preserve">Monoterpenoids</text>
<rect class="sw" x="1959.5" y="1544" width="37.5" height="18" fill="#b2a90d"/>
<text class="lg" x="1640" y="1559.5" textLength="132.8" lengthAdjust="spacingAndGlyphs" xml:space="preserve">Naphthyridines</text>
<rect class="sw" x="1959.5" y="1584.5" width="37.5" height="18" fill="#c3aa0a"/>
<text class="lg" x="1640" y="1600" textLength="106.4" lengthAdjust="spacingAndGlyphs" xml:space="preserve">Oxosteroids</text>
<rect class="sw" x="1959.5" y="1624.6" width="37.5" height="18" fill="#d3aa06"/>
<text class="lg" x="1640" y="1640.1" textLength="310.8" lengthAdjust="spacingAndGlyphs" xml:space="preserve">Pentacarboxylic acids and deriva...</text>
<rect class="sw" x="1959.5" y="1665" width="37.5" height="18" fill="#e3ab03"/>
<text class="lg" x="1640" y="1680.5" textLength="148.9" lengthAdjust="spacingAndGlyphs" xml:space="preserve">Phenethylamines</text>
<rect class="sw" x="1959.5" y="1705" width="37.5" height="18" fill="#dfa505"/>
<text class="lg" x="1640" y="1720.5" textLength="273" lengthAdjust="spacingAndGlyphs" xml:space="preserve">Phenoxyacetic acid derivatives</text>
<rect class="sw" x="1959.5" y="1745.6" width="37.5" height="18" fill="#d79f08"/>
<text class="lg" x="1640" y="1761.1" textLength="179.1" lengthAdjust="spacingAndGlyphs" xml:space="preserve">Phen  imethylamines</text>
<rect class="sw" x="1959.5" y="1786" width="37.5" height="18" fill="#cf980c"/>
<text class="lg" x="1640" y="1801.5" textLength="160.7" lengthAdjust="spacingAndGlyphs" xml:space="preserve">Pregnane steroids</text>
<rect class="sw" x="1959.5" y="1826.5" width="37.5" height="18" fill="#c7910f"/>
<text class="lg" x="1640" y="1842" textLength="151" lengthAdjust="spacingAndGlyphs" xml:space="preserve">Sesquiterpenoids</text>
<rect class="sw" x="1959.5" y="1867" width="37.5" height="18" fill="#bf8a13"/>
<text class="lg" x="1640" y="1882.5" textLength="151" lengthAdjust="spacingAndGlyphs" xml:space="preserve">Sesterterpenoids</text>
<rect class="sw" x="1959.5" y="1907" width="37.5" height="18" fill="#b68416"/>
<text class="lg" x="1640" y="1922.5" textLength="142.2" lengthAdjust="spacingAndGlyphs" xml:space="preserve">Steroid lactones</text>
<rect class="sw" x="1959.5" y="1947.3" width="37.5" height="18" fill="#ae7d1a"/>
<text class="lg" x="1640" y="1962.8" textLength="156.8" lengthAdjust="spacingAndGlyphs" xml:space="preserve">Steroidal alkaloids</text>
<rect class="sw" x="1959.5" y="1987.8" width="37.5" height="18" fill="#a6761d"/>
<text class="lg" x="1640" y="2003.3" textLength="173.9" lengthAdjust="spacingAndGlyphs" xml:space="preserve">Steroidal glycosides</text>
<rect class="sw" x="1959.5" y="2028.2" width="37.5" height="18" fill="#d2f00f"/>
<text class="lg" x="1640" y="2043.7" textLength="170" lengthAdjust="spacingAndGlyphs" xml:space="preserve">Terpene glycosides</text>
<rect class="sw" x="1959.5" y="2068.7" width="37.5" height="18" fill="#9bfb35"/>
<text class="lg" x="1640" y="2084.2" textLength="153.3" lengthAdjust="spacingAndGlyphs" xml:space="preserve">Terpene lactones</text>
<rect class="sw" x="1959.5" y="2109" width="37.5" height="18" fill="#fdfccc"/>
<text class="lg" x="1640" y="2124.5" textLength="142.2" lengthAdjust="spacingAndGlyphs" xml:space="preserve">Tetraterpenoids</text>
<rect class="sw" x="1959.5" y="2149.6" width="37.5" height="18" fill="#7e6a4b"/>
<text class="lg" x="1640" y="2165.1" textLength="302.8" lengthAdjust="spacingAndGlyphs" xml:space="preserve">Tricarboxylic acids and derivatives</text>
<rect class="sw" x="1959.5" y="2189.8" width="37.5" height="18" fill="#0f9a93"/>
<text class="lg" x="1640" y="2205.3" textLength="116.1" lengthAdjust="spacingAndGlyphs" xml:space="preserve">Triterpenoids</text>
<rect class="sw" x="1959.5" y="2230.2" width="37.5" height="18" fill="#1793d1"/>
<text class="lg" x="1640" y="2245.7" textLength="33.1" lengthAdjust="spacingAndGlyphs" xml:space="preserve">nan</text>
<rect class="sw" x="1959.5" y="2261.9" width="37.5" height="18" fill="#cccccc"/>
<text class="lg" x="1635.8" y="2277.4" textLength="102" lengthAdjust="spacingAndGlyphs" xml:space="preserve">no matches</text>
</svg></body></html>
